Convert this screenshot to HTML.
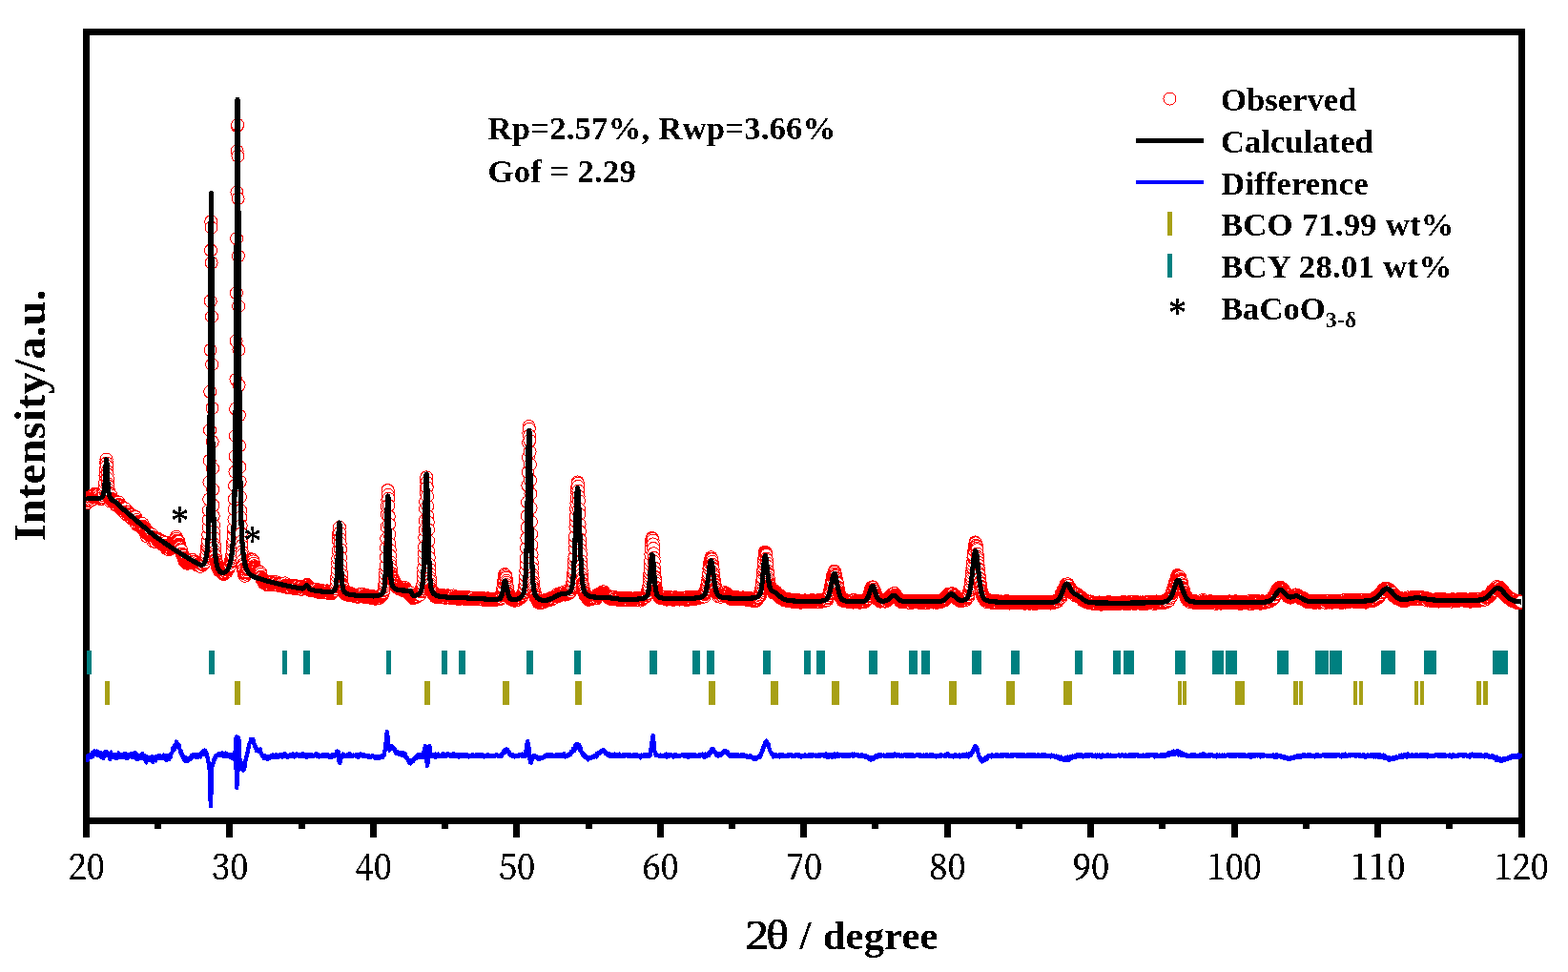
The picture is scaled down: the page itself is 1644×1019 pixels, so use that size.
<!DOCTYPE html>
<html lang="en">
<head>
<meta charset="utf-8">
<title>XRD Rietveld refinement</title>
<style>
html,body{margin:0;padding:0;background:#fff;}
body{width:1644px;height:1019px;overflow:hidden;}
svg{display:block;}
.b{font-family:"Liberation Serif","Noto Serif CJK SC",serif;font-weight:bold;fill:#000;}
.r{font-family:"Liberation Serif","Noto Serif CJK SC",serif;font-weight:normal;fill:#000;}
.tk{font-family:"Noto Serif CJK SC","Liberation Serif",serif;font-weight:normal;fill:#000;}
</style>
</head>
<body>
<svg width="1644" height="1019" viewBox="0 0 1644 1019">
<defs>
<filter id="bw" x="-5%" y="-5%" width="110%" height="110%" color-interpolation-filters="sRGB"><feComponentTransfer><feFuncA type="discrete" tableValues="0 1"/></feComponentTransfer></filter>
<clipPath id="pc"><rect x="90" y="33" width="1506" height="828"/></clipPath>
<marker id="oc" markerUnits="userSpaceOnUse" markerWidth="16" markerHeight="16" refX="8" refY="8" viewBox="0 0 16 16" overflow="visible"><circle cx="8" cy="8" r="6.5" fill="#fff" stroke="#ff0000" stroke-width="1" shape-rendering="crispEdges"/></marker>
</defs>
<rect width="1644" height="1019" fill="#fff"/>
<g shape-rendering="crispEdges" fill="#000">
<rect x="87" y="30" width="1512" height="7"/>
<rect x="87" y="857" width="1512" height="7"/>
<rect x="87" y="30" width="7" height="848"/>
<rect x="1592" y="30" width="7" height="848"/>
<rect x="162" y="857" width="7" height="12"/>
<rect x="237" y="857" width="7" height="21"/>
<rect x="313" y="857" width="7" height="12"/>
<rect x="388" y="857" width="7" height="21"/>
<rect x="463" y="857" width="7" height="12"/>
<rect x="538" y="857" width="7" height="21"/>
<rect x="614" y="857" width="7" height="12"/>
<rect x="689" y="857" width="7" height="21"/>
<rect x="764" y="857" width="7" height="12"/>
<rect x="839" y="857" width="7" height="21"/>
<rect x="914" y="857" width="7" height="12"/>
<rect x="990" y="857" width="7" height="21"/>
<rect x="1065" y="857" width="7" height="12"/>
<rect x="1140" y="857" width="7" height="21"/>
<rect x="1215" y="857" width="7" height="12"/>
<rect x="1291" y="857" width="7" height="21"/>
<rect x="1366" y="857" width="7" height="12"/>
<rect x="1441" y="857" width="7" height="21"/>
<rect x="1516" y="857" width="7" height="12"/>
</g>
<g clip-path="url(#pc)">
<path d="M90.5 525.8 90.8 525.4 91.0 526.0 91.3 527.2 91.5 526.7 91.8 527.1 92.0 525.5 92.3 522.7 92.5 524.7 92.8 525.5 93.0 523.6 93.3 522.9 93.5 523.0 93.8 524.5 94.0 523.3 94.3 521.3 94.5 523.9 94.8 523.2 95.0 524.8 95.3 524.3 95.5 524.5 95.8 522.0 96.0 522.6 96.3 520.5 96.5 519.6 96.8 520.0 97.0 523.7 97.3 521.7 97.5 519.7 97.8 519.1 98.0 521.5 98.3 520.7 98.5 520.8 98.8 520.8 99.0 517.8 99.3 519.8 99.6 519.6 99.8 517.8 100.1 519.7 100.3 519.9 100.6 519.4 100.8 519.5 101.1 521.7 101.3 520.4 101.6 517.9 101.8 521.9 102.1 519.8 102.3 519.9 102.6 521.6 102.8 518.0 103.1 518.7 103.3 522.6 103.6 521.7 103.8 520.4 104.1 521.4 104.3 520.5 104.6 521.2 104.8 520.5 105.1 518.9 105.3 521.8 105.6 521.5 105.8 522.1 106.1 521.4 106.3 523.1 106.6 522.6 106.8 521.5 107.1 519.4 107.3 518.1 107.6 521.6 107.8 521.6 108.1 518.5 108.3 521.3 108.6 519.5 108.9 517.1 109.1 513.4 109.4 511.9 109.6 511.7 109.9 509.6 110.1 506.0 110.4 498.6 110.6 496.0 110.9 491.5 111.1 485.1 111.4 481.9 111.6 481.5 111.9 485.5 112.1 488.6 112.4 494.2 112.6 497.1 112.9 501.8 113.1 507.2 113.4 509.7 113.6 513.5 113.9 513.8 114.1 516.4 114.4 517.2 114.6 520.9 114.9 520.2 115.1 523.2 115.4 525.4 115.6 523.3 115.9 523.8 116.1 522.8 116.4 519.3 116.6 523.3 116.9 524.9 117.1 523.7 117.4 523.1 117.7 524.2 117.9 524.8 118.2 523.6 118.4 523.5 118.7 526.2 118.9 525.7 119.2 525.2 119.4 527.0 119.7 525.6 119.9 526.8 120.2 524.7 120.4 525.1 120.7 525.8 120.9 527.1 121.2 526.8 121.4 529.6 121.7 529.4 121.9 526.8 122.2 530.0 122.4 526.9 122.7 529.6 122.9 527.4 123.2 528.8 123.4 527.4 123.7 527.8 123.9 531.0 124.2 527.9 124.4 526.5 124.7 529.0 124.9 530.3 125.2 530.6 125.4 532.0 125.7 529.5 125.9 531.2 126.2 531.5 126.5 532.6 126.7 533.0 127.0 534.1 127.2 530.8 127.5 531.9 127.7 531.2 128.0 532.3 128.2 534.0 128.5 534.0 128.7 534.4 129.0 533.9 129.2 534.4 129.5 534.7 129.7 536.5 130.0 536.4 130.2 532.6 130.5 535.1 130.7 537.1 131.0 535.4 131.2 533.3 131.5 537.2 131.7 537.0 132.0 537.3 132.2 539.3 132.5 536.4 132.7 536.5 133.0 537.0 133.2 538.4 133.5 537.2 133.7 538.3 134.0 538.4 134.2 539.8 134.5 540.7 134.7 537.2 135.0 538.9 135.3 538.8 135.5 539.1 135.8 540.1 136.0 540.6 136.3 539.2 136.5 540.2 136.8 540.7 137.0 540.6 137.3 539.0 137.5 539.4 137.8 540.3 138.0 542.1 138.3 543.9 138.5 541.2 138.8 540.2 139.0 542.1 139.3 541.8 139.5 541.4 139.8 541.4 140.0 541.5 140.3 543.6 140.5 541.7 140.8 544.9 141.0 543.4 141.3 543.2 141.5 543.0 141.8 541.6 142.0 542.0 142.3 546.1 142.5 548.4 142.8 545.3 143.0 546.9 143.3 546.6 143.5 545.1 143.8 548.5 144.0 550.5 144.3 547.6 144.6 547.0 144.8 547.8 145.1 547.8 145.3 549.1 145.6 550.7 145.8 549.3 146.1 550.1 146.3 551.6 146.6 549.2 146.8 549.2 147.1 549.1 147.3 551.1 147.6 551.5 147.8 552.1 148.1 552.3 148.3 551.0 148.6 552.2 148.8 551.3 149.1 551.1 149.3 549.0 149.6 553.2 149.8 551.9 150.1 552.5 150.3 553.1 150.6 555.4 150.8 555.0 151.1 553.1 151.3 554.0 151.6 554.5 151.8 555.2 152.1 553.7 152.3 554.9 152.6 558.7 152.8 558.0 153.1 559.3 153.4 561.9 153.6 559.1 153.9 555.7 154.1 556.9 154.4 559.4 154.6 559.9 154.9 557.3 155.1 558.0 155.4 558.9 155.6 559.4 155.9 559.6 156.1 558.8 156.4 559.1 156.6 559.9 156.9 562.0 157.1 560.8 157.4 561.9 157.6 560.4 157.9 563.0 158.1 562.8 158.4 562.3 158.6 564.2 158.9 561.0 159.1 560.3 159.4 563.1 159.6 562.6 159.9 562.7 160.1 567.0 160.4 564.8 160.6 564.1 160.9 564.3 161.1 565.9 161.4 565.5 161.6 565.2 161.9 563.5 162.2 564.2 162.4 565.2 162.7 563.5 162.9 565.6 163.2 566.4 163.4 568.3 163.7 564.7 163.9 564.1 164.2 564.6 164.4 565.0 164.7 566.0 164.9 566.2 165.2 566.8 165.4 567.0 165.7 566.8 165.9 564.9 166.2 565.6 166.4 566.9 166.7 567.9 166.9 568.3 167.2 565.6 167.4 566.1 167.7 567.2 167.9 568.1 168.2 569.3 168.4 568.4 168.7 566.9 168.9 568.3 169.2 568.7 169.4 568.8 169.7 568.5 169.9 570.7 170.2 569.9 170.4 570.3 170.7 568.5 170.9 570.1 171.2 569.3 171.5 567.8 171.7 569.9 172.0 571.3 172.2 570.7 172.5 570.9 172.7 572.5 173.0 571.4 173.2 569.1 173.5 571.6 173.7 572.7 174.0 574.0 174.2 572.9 174.5 574.6 174.7 575.3 175.0 572.5 175.2 574.4 175.5 573.0 175.7 571.8 176.0 573.3 176.2 573.6 176.5 571.9 176.7 573.9 177.0 575.3 177.2 576.4 177.5 574.9 177.7 572.5 178.0 572.4 178.2 574.8 178.5 575.2 178.7 574.5 179.0 573.2 179.2 573.2 179.5 572.5 179.7 571.9 180.0 572.2 180.3 571.7 180.5 570.9 180.8 570.7 181.0 569.7 181.3 567.4 181.5 567.9 181.8 568.6 182.0 570.4 182.3 568.2 182.5 569.7 182.8 569.6 183.0 566.4 183.3 565.4 183.5 566.1 183.8 568.1 184.0 566.9 184.3 566.6 184.5 565.1 184.8 562.7 185.0 564.5 185.3 566.6 185.5 567.7 185.8 566.8 186.0 566.8 186.3 568.3 186.5 567.7 186.8 569.2 187.0 567.6 187.3 567.4 187.5 568.0 187.8 570.5 188.0 570.6 188.3 571.8 188.5 573.1 188.8 573.9 189.1 575.8 189.3 577.1 189.6 575.4 189.8 576.5 190.1 577.2 190.3 576.9 190.6 580.5 190.8 581.3 191.1 580.6 191.3 580.7 191.6 582.2 191.8 581.6 192.1 582.7 192.3 585.2 192.6 586.0 192.8 584.5 193.1 584.8 193.3 588.1 193.6 585.8 193.8 585.8 194.1 585.7 194.3 587.7 194.6 588.5 194.8 589.7 195.1 586.1 195.3 587.9 195.6 587.1 195.8 589.1 196.1 589.1 196.3 590.8 196.6 590.1 196.8 588.1 197.1 590.0 197.3 588.2 197.6 588.1 197.8 589.9 198.1 589.7 198.4 589.4 198.6 588.8 198.9 589.1 199.1 589.5 199.4 589.0 199.6 589.6 199.9 590.1 200.1 588.8 200.4 587.3 200.6 589.6 200.9 588.8 201.1 589.0 201.4 589.6 201.6 587.8 201.9 588.6 202.1 587.0 202.4 588.8 202.6 588.5 202.9 588.8 203.1 589.7 203.4 588.6 203.6 589.0 203.9 588.5 204.1 589.1 204.4 590.5 204.6 590.0 204.9 589.6 205.1 588.7 205.4 590.5 205.6 590.3 205.9 591.9 206.1 590.1 206.4 591.3 206.6 592.7 206.9 591.3 207.2 589.5 207.4 592.0 207.7 592.5 207.9 592.1 208.2 592.5 208.4 591.1 208.7 591.9 208.9 592.3 209.2 591.0 209.4 592.0 209.7 591.3 209.9 592.4 210.2 593.1 210.4 593.9 210.7 590.2 210.9 591.2 211.2 591.3 211.4 591.2 211.7 591.0 211.9 590.9 212.2 588.8 212.4 591.0 212.7 592.3 212.9 591.7 213.2 591.5 213.4 589.1 213.7 588.0 213.9 589.4 214.2 590.1 214.4 588.7 214.7 585.9 214.9 589.2 215.2 586.4 215.4 586.2 215.7 583.6 216.0 584.1 216.2 582.8 216.5 582.4 216.7 580.7 217.0 575.8 217.2 573.1 217.5 572.0 217.7 569.6 218.0 567.0 218.2 560.5 218.5 553.0 218.7 544.9 219.0 534.9 219.2 523.5 219.5 505.5 219.7 482.8 220.0 451.1 220.2 410.8 220.5 367.0 220.7 315.6 221.0 262.4 221.2 232.3 221.5 238.6 221.7 275.5 222.0 332.0 222.2 382.1 222.5 427.8 222.7 463.2 223.0 491.1 223.2 513.2 223.5 529.7 223.7 541.0 224.0 550.8 224.2 557.6 224.5 563.9 224.8 570.8 225.0 573.7 225.3 578.3 225.5 580.9 225.8 582.7 226.0 586.6 226.3 586.7 226.5 587.3 226.8 589.0 227.0 590.6 227.3 591.6 227.5 593.1 227.8 593.4 228.0 594.1 228.3 594.2 228.5 595.8 228.8 595.3 229.0 595.4 229.3 596.1 229.5 596.8 229.8 596.3 230.0 598.4 230.3 597.4 230.5 597.1 230.8 597.4 231.0 597.5 231.3 598.7 231.5 598.8 231.8 598.0 232.0 598.0 232.3 598.5 232.5 600.3 232.8 599.0 233.0 597.9 233.3 597.9 233.5 598.8 233.8 600.8 234.1 599.1 234.3 599.3 234.6 602.0 234.8 600.0 235.1 600.9 235.3 601.2 235.6 600.5 235.8 598.4 236.1 599.3 236.3 599.2 236.6 597.4 236.8 597.0 237.1 598.5 237.3 599.0 237.6 599.8 237.8 599.4 238.1 597.8 238.3 597.2 238.6 597.2 238.8 596.0 239.1 597.1 239.3 596.5 239.6 595.0 239.8 594.4 240.1 593.4 240.3 593.2 240.6 593.5 240.8 592.3 241.1 592.6 241.3 592.8 241.6 589.7 241.8 588.4 242.1 587.0 242.3 587.6 242.6 585.3 242.9 583.3 243.1 581.7 243.4 581.2 243.6 577.0 243.9 571.8 244.1 568.6 244.4 566.3 244.6 561.5 244.9 555.1 245.1 553.6 245.4 544.5 245.6 533.8 245.9 523.2 246.1 509.3 246.4 494.8 246.6 478.5 246.9 456.9 247.1 428.7 247.4 397.9 247.6 357.5 247.9 307.2 248.1 250.1 248.4 201.5 248.6 158.3 248.9 132.2 249.1 130.8 249.4 163.7 249.6 208.1 249.9 268.4 250.1 321.0 250.4 366.9 250.6 403.9 250.9 435.4 251.1 467.4 251.4 489.6 251.7 504.9 251.9 520.9 252.2 535.4 252.4 542.5 252.7 551.2 252.9 559.4 253.2 567.7 253.4 572.1 253.7 578.4 253.9 581.9 254.2 587.9 254.4 592.1 254.7 593.8 254.9 597.0 255.2 597.9 255.4 599.5 255.7 602.3 255.9 602.5 256.2 603.2 256.4 602.4 256.7 603.6 256.9 603.8 257.2 601.7 257.4 599.6 257.7 599.0 257.9 600.4 258.2 600.1 258.4 598.0 258.7 598.4 258.9 599.0 259.2 597.4 259.4 595.9 259.7 596.2 259.9 596.5 260.2 595.8 260.4 592.9 260.7 592.7 261.0 591.8 261.2 590.5 261.5 589.3 261.7 589.4 262.0 588.3 262.2 588.7 262.5 588.2 262.7 588.2 263.0 586.1 263.2 586.3 263.5 587.3 263.7 587.2 264.0 587.1 264.2 586.5 264.5 588.7 264.7 589.4 265.0 589.3 265.2 587.1 265.5 588.4 265.7 590.7 266.0 591.2 266.2 590.6 266.5 593.2 266.7 594.8 267.0 594.3 267.2 595.3 267.5 596.1 267.7 597.7 268.0 596.5 268.2 596.5 268.5 598.0 268.7 598.5 269.0 601.1 269.2 599.7 269.5 599.8 269.8 599.5 270.0 599.2 270.3 600.0 270.5 601.5 270.8 600.1 271.0 600.5 271.3 600.5 271.5 600.8 271.8 600.8 272.0 602.7 272.3 600.5 272.5 600.6 272.8 600.6 273.0 600.0 273.3 602.0 273.5 604.7 273.8 605.0 274.0 605.6 274.3 605.7 274.5 605.5 274.8 607.7 275.0 606.8 275.3 608.3 275.5 607.7 275.8 608.0 276.0 608.7 276.3 609.0 276.5 609.7 276.8 610.2 277.0 611.5 277.3 610.7 277.5 608.9 277.8 608.5 278.0 609.3 278.3 610.2 278.6 611.8 278.8 610.6 279.1 611.4 279.3 612.0 279.6 612.3 279.8 612.1 280.1 612.6 280.3 612.5 280.6 613.3 280.8 613.0 281.1 610.5 281.3 611.7 281.6 612.5 281.8 611.9 282.1 611.5 282.3 612.9 282.6 612.6 282.8 611.3 283.1 611.4 283.3 611.7 283.6 610.4 283.8 611.8 284.1 611.7 284.3 612.0 284.6 610.4 284.8 612.7 285.1 612.5 285.3 612.0 285.6 610.9 285.8 610.6 286.1 609.9 286.3 612.2 286.6 611.1 286.8 611.3 287.1 611.9 287.3 611.0 287.6 611.9 287.9 613.3 288.1 612.3 288.4 612.8 288.6 612.4 288.9 611.4 289.1 611.2 289.4 610.2 289.6 611.4 289.9 613.0 290.1 612.8 290.4 612.8 290.6 613.1 290.9 611.9 291.1 612.4 291.4 613.8 291.6 612.0 291.9 612.0 292.1 611.9 292.4 612.0 292.6 611.7 292.9 612.1 293.1 611.4 293.4 611.8 293.6 612.1 293.9 612.1 294.1 613.7 294.4 613.2 294.6 613.0 294.9 612.7 295.1 613.9 295.4 611.9 295.6 612.4 295.9 614.0 296.1 614.8 296.4 613.8 296.7 613.3 296.9 613.8 297.2 613.4 297.4 613.8 297.7 613.1 297.9 613.9 298.2 613.7 298.4 612.8 298.7 611.3 298.9 613.8 299.2 614.4 299.4 614.6 299.7 613.4 299.9 614.6 300.2 614.6 300.4 614.1 300.7 614.8 300.9 615.1 301.2 614.8 301.4 616.0 301.7 616.0 301.9 615.0 302.2 614.4 302.4 614.5 302.7 615.9 302.9 615.4 303.2 614.1 303.4 614.0 303.7 614.6 303.9 615.5 304.2 614.5 304.4 615.1 304.7 616.0 304.9 615.9 305.2 614.1 305.5 614.5 305.7 614.1 306.0 615.2 306.2 614.6 306.5 615.5 306.7 615.6 307.0 613.5 307.2 614.2 307.5 615.7 307.7 615.7 308.0 615.3 308.2 614.6 308.5 615.7 308.7 617.2 309.0 616.4 309.2 615.9 309.5 615.8 309.7 614.9 310.0 615.4 310.2 615.3 310.5 616.7 310.7 615.7 311.0 614.3 311.2 615.1 311.5 615.9 311.7 616.1 312.0 614.9 312.2 616.6 312.5 616.7 312.7 616.1 313.0 615.8 313.2 616.7 313.5 616.5 313.7 616.8 314.0 616.7 314.3 616.8 314.5 617.7 314.8 617.1 315.0 616.2 315.3 617.4 315.5 617.3 315.8 616.5 316.0 617.6 316.3 617.1 316.5 617.8 316.8 616.4 317.0 615.0 317.3 614.9 317.5 616.7 317.8 616.5 318.0 616.7 318.3 616.8 318.5 615.6 318.8 617.2 319.0 615.9 319.3 615.9 319.5 614.8 319.8 615.1 320.0 615.7 320.3 614.8 320.5 613.8 320.8 613.9 321.0 613.5 321.3 613.9 321.5 615.4 321.8 613.4 322.0 612.9 322.3 613.6 322.5 614.2 322.8 613.8 323.0 615.2 323.3 616.2 323.6 616.3 323.8 615.5 324.1 617.5 324.3 616.5 324.6 617.5 324.8 618.6 325.1 617.2 325.3 617.8 325.6 619.1 325.8 618.8 326.1 617.8 326.3 617.3 326.6 618.5 326.8 618.4 327.1 618.0 327.3 619.0 327.6 618.6 327.8 618.7 328.1 619.2 328.3 619.3 328.6 619.0 328.8 618.9 329.1 619.4 329.3 619.5 329.6 618.4 329.8 618.7 330.1 618.4 330.3 618.1 330.6 618.5 330.8 617.5 331.1 619.3 331.3 618.9 331.6 619.4 331.8 618.1 332.1 617.7 332.4 620.5 332.6 620.7 332.9 619.3 333.1 618.8 333.4 618.9 333.6 619.5 333.9 619.3 334.1 619.1 334.4 619.6 334.6 619.0 334.9 621.2 335.1 619.9 335.4 620.4 335.6 619.4 335.9 619.8 336.1 620.6 336.4 619.9 336.6 620.6 336.9 620.9 337.1 621.4 337.4 620.5 337.6 619.8 337.9 619.3 338.1 620.0 338.4 619.5 338.6 620.0 338.9 620.3 339.1 619.9 339.4 619.4 339.6 620.3 339.9 620.6 340.1 620.6 340.4 620.4 340.6 621.1 340.9 620.0 341.2 620.6 341.4 620.3 341.7 621.0 341.9 620.5 342.2 620.2 342.4 620.8 342.7 619.3 342.9 619.9 343.2 619.3 343.4 619.6 343.7 620.9 343.9 621.1 344.2 620.5 344.4 620.6 344.7 620.7 344.9 620.9 345.2 622.1 345.4 621.3 345.7 622.4 345.9 621.0 346.2 621.1 346.4 621.4 346.7 621.0 346.9 620.5 347.2 621.6 347.4 622.2 347.7 621.7 347.9 622.2 348.2 621.6 348.4 619.5 348.7 620.7 348.9 620.0 349.2 620.9 349.4 620.1 349.7 620.0 349.9 619.8 350.2 619.0 350.5 617.8 350.7 618.4 351.0 618.4 351.2 618.8 351.5 617.4 351.7 616.9 352.0 615.4 352.2 614.5 352.5 611.7 352.7 612.2 353.0 609.1 353.2 604.2 353.5 600.8 353.7 596.8 354.0 590.7 354.2 585.4 354.5 577.2 354.7 566.6 355.0 560.6 355.2 558.6 355.5 555.6 355.7 553.6 356.0 552.9 356.2 558.6 356.5 564.9 356.7 569.6 357.0 576.1 357.2 584.5 357.5 592.2 357.7 598.6 358.0 602.7 358.2 608.0 358.5 609.2 358.7 612.2 359.0 613.8 359.3 614.1 359.5 615.6 359.8 618.5 360.0 618.3 360.3 618.3 360.5 620.1 360.8 621.1 361.0 620.9 361.3 622.0 361.5 620.5 361.8 622.7 362.0 622.9 362.3 622.2 362.5 622.1 362.8 622.0 363.0 622.0 363.3 622.4 363.5 621.7 363.8 623.7 364.0 623.1 364.3 623.2 364.5 622.9 364.8 622.7 365.0 623.5 365.3 623.7 365.5 622.7 365.8 622.8 366.0 623.6 366.3 622.1 366.5 621.4 366.8 623.9 367.0 623.6 367.3 621.8 367.5 622.5 367.8 623.3 368.1 623.7 368.3 624.1 368.6 623.9 368.8 624.1 369.1 623.4 369.3 623.9 369.6 624.2 369.8 624.7 370.1 624.2 370.3 624.5 370.6 624.2 370.8 623.3 371.1 623.5 371.3 623.6 371.6 623.7 371.8 623.9 372.1 624.1 372.3 624.3 372.6 623.7 372.8 624.7 373.1 623.5 373.3 623.9 373.6 624.7 373.8 624.7 374.1 624.8 374.3 624.3 374.6 624.7 374.8 623.7 375.1 624.5 375.3 625.9 375.6 625.3 375.8 625.8 376.1 624.8 376.3 623.7 376.6 623.7 376.9 625.1 377.1 625.2 377.4 623.4 377.6 623.8 377.9 624.4 378.1 623.8 378.4 622.6 378.6 623.1 378.9 624.1 379.1 624.2 379.4 624.0 379.6 624.8 379.9 625.4 380.1 624.7 380.4 625.2 380.6 624.8 380.9 624.5 381.1 623.1 381.4 624.7 381.6 624.9 381.9 624.8 382.1 624.4 382.4 623.9 382.6 624.8 382.9 625.4 383.1 626.0 383.4 625.7 383.6 624.6 383.9 624.7 384.1 625.5 384.4 625.3 384.6 625.0 384.9 624.6 385.1 625.2 385.4 625.3 385.6 626.2 385.9 626.2 386.2 624.3 386.4 626.2 386.7 625.9 386.9 625.2 387.2 625.5 387.4 625.9 387.7 625.6 387.9 625.5 388.2 625.6 388.4 626.8 388.7 626.1 388.9 626.3 389.2 626.3 389.4 625.8 389.7 625.4 389.9 625.2 390.2 626.1 390.4 625.6 390.7 625.2 390.9 625.2 391.2 625.1 391.4 626.1 391.7 626.5 391.9 625.9 392.2 627.1 392.4 626.7 392.7 626.8 392.9 626.9 393.2 627.8 393.4 627.6 393.7 626.9 393.9 626.1 394.2 625.9 394.4 626.5 394.7 626.8 395.0 627.2 395.2 626.6 395.5 626.7 395.7 626.2 396.0 625.3 396.2 626.1 396.5 627.4 396.7 627.2 397.0 627.4 397.2 627.2 397.5 625.5 397.7 625.5 398.0 626.7 398.2 625.6 398.5 624.5 398.7 625.3 399.0 625.7 399.2 625.3 399.5 624.6 399.7 624.0 400.0 623.3 400.2 622.9 400.5 622.6 400.7 622.1 401.0 622.1 401.2 623.4 401.5 622.4 401.7 621.2 402.0 620.9 402.2 619.3 402.5 618.8 402.7 618.3 403.0 615.0 403.2 612.8 403.5 610.6 403.8 606.6 404.0 601.7 404.3 596.7 404.5 593.1 404.8 584.3 405.0 574.2 405.3 564.6 405.5 552.4 405.8 539.3 406.0 530.9 406.3 524.1 406.5 513.8 406.8 514.2 407.0 518.9 407.3 522.7 407.5 530.0 407.8 541.2 408.0 549.6 408.3 560.3 408.5 570.2 408.8 576.8 409.0 582.4 409.3 589.1 409.5 592.9 409.8 596.4 410.0 596.6 410.3 600.9 410.5 601.6 410.8 603.4 411.0 604.8 411.3 605.0 411.5 605.3 411.8 605.6 412.0 606.9 412.3 608.4 412.5 609.2 412.8 608.9 413.1 609.1 413.3 609.0 413.6 610.1 413.8 610.4 414.1 610.4 414.3 611.8 414.6 613.9 414.8 614.5 415.1 615.1 415.3 613.3 415.6 614.7 415.8 614.1 416.1 614.4 416.3 614.0 416.6 614.5 416.8 615.7 417.1 616.2 417.3 616.2 417.6 616.2 417.8 616.8 418.1 616.7 418.3 615.5 418.6 617.5 418.8 617.0 419.1 617.4 419.3 616.9 419.6 616.2 419.8 616.7 420.1 616.3 420.3 617.8 420.6 616.5 420.8 617.1 421.1 616.6 421.3 616.7 421.6 618.8 421.9 618.2 422.1 617.1 422.4 616.0 422.6 616.7 422.9 617.1 423.1 618.4 423.4 616.8 423.6 616.0 423.9 617.3 424.1 618.0 424.4 619.2 424.6 617.9 424.9 616.1 425.1 617.3 425.4 617.5 425.6 618.1 425.9 619.6 426.1 618.4 426.4 619.9 426.6 620.0 426.9 619.6 427.1 619.2 427.4 619.6 427.6 619.9 427.9 620.9 428.1 621.7 428.4 621.0 428.6 621.4 428.9 622.2 429.1 622.5 429.4 622.1 429.6 623.1 429.9 623.2 430.1 623.5 430.4 622.6 430.7 622.3 430.9 621.4 431.2 623.9 431.4 624.6 431.7 623.8 431.9 624.6 432.2 625.3 432.4 624.3 432.7 625.5 432.9 626.7 433.2 627.1 433.4 626.1 433.7 625.7 433.9 626.8 434.2 626.8 434.4 625.7 434.7 625.2 434.9 625.8 435.2 625.2 435.4 624.8 435.7 626.2 435.9 625.6 436.2 624.6 436.4 625.0 436.7 626.1 436.9 625.1 437.2 623.8 437.4 622.9 437.7 625.1 437.9 622.6 438.2 623.8 438.4 623.1 438.7 622.2 438.9 622.1 439.2 622.5 439.4 623.4 439.7 622.2 440.0 622.5 440.2 623.7 440.5 620.1 440.7 620.0 441.0 619.3 441.2 620.5 441.5 618.9 441.7 617.6 442.0 616.8 442.2 617.0 442.5 617.2 442.7 615.3 443.0 614.9 443.2 612.8 443.5 608.4 443.7 605.4 444.0 600.8 444.2 595.3 444.5 587.0 444.7 579.8 445.0 573.5 445.2 563.4 445.5 555.7 445.7 545.7 446.0 533.2 446.2 525.9 446.5 516.6 446.7 510.9 447.0 504.7 447.2 500.3 447.5 505.9 447.7 511.0 448.0 520.2 448.2 530.6 448.5 541.0 448.8 547.5 449.0 555.3 449.3 567.1 449.5 578.0 449.8 584.5 450.0 591.8 450.3 596.7 450.5 601.6 450.8 605.7 451.0 608.7 451.3 612.1 451.5 614.4 451.8 617.0 452.0 617.6 452.3 619.1 452.5 619.2 452.8 620.2 453.0 620.2 453.3 620.3 453.5 621.9 453.8 622.3 454.0 622.6 454.3 621.8 454.5 621.0 454.8 621.7 455.0 622.9 455.3 622.2 455.5 623.9 455.8 622.8 456.0 623.7 456.3 625.7 456.5 622.8 456.8 622.4 457.0 624.5 457.3 624.4 457.6 624.5 457.8 624.5 458.1 625.5 458.3 625.4 458.6 624.6 458.8 624.6 459.1 624.1 459.3 624.6 459.6 623.5 459.8 625.0 460.1 625.1 460.3 626.3 460.6 626.4 460.8 624.7 461.1 625.6 461.3 625.2 461.6 625.3 461.8 626.1 462.1 625.9 462.3 625.9 462.6 626.0 462.8 625.2 463.1 625.1 463.3 625.9 463.6 626.4 463.8 625.7 464.1 625.8 464.3 625.2 464.6 623.9 464.8 624.7 465.1 625.7 465.3 626.0 465.6 626.5 465.8 626.7 466.1 626.7 466.4 626.4 466.6 626.3 466.9 625.6 467.1 626.1 467.4 626.2 467.6 626.8 467.9 625.3 468.1 625.4 468.4 624.9 468.6 625.2 468.9 625.0 469.1 626.0 469.4 625.8 469.6 624.3 469.9 626.4 470.1 625.7 470.4 624.9 470.6 625.6 470.9 625.7 471.1 625.3 471.4 626.4 471.6 626.1 471.9 626.7 472.1 626.9 472.4 626.8 472.6 626.5 472.9 626.3 473.1 626.0 473.4 627.1 473.6 625.4 473.9 625.2 474.1 625.7 474.4 626.5 474.6 626.5 474.9 626.1 475.1 626.0 475.4 627.4 475.7 626.3 475.9 624.4 476.2 627.0 476.4 626.2 476.7 626.0 476.9 626.5 477.2 625.6 477.4 626.9 477.7 626.6 477.9 625.5 478.2 626.3 478.4 626.8 478.7 626.5 478.9 626.8 479.2 625.7 479.4 626.8 479.7 626.2 479.9 627.2 480.2 626.4 480.4 626.5 480.7 628.2 480.9 627.1 481.2 627.3 481.4 627.1 481.7 625.8 481.9 627.0 482.2 627.5 482.4 626.0 482.7 626.3 482.9 625.7 483.2 626.2 483.4 627.2 483.7 626.9 483.9 626.0 484.2 625.9 484.5 626.5 484.7 626.7 485.0 626.8 485.2 627.2 485.5 625.7 485.7 626.4 486.0 627.5 486.2 627.3 486.5 626.5 486.7 626.3 487.0 626.8 487.2 627.3 487.5 627.0 487.7 627.9 488.0 628.0 488.2 626.7 488.5 627.0 488.7 626.8 489.0 626.1 489.2 626.3 489.5 626.8 489.7 625.6 490.0 626.1 490.2 627.1 490.5 626.6 490.7 626.6 491.0 627.5 491.2 627.2 491.5 627.1 491.7 628.3 492.0 627.6 492.2 627.3 492.5 627.4 492.7 628.2 493.0 627.7 493.3 627.2 493.5 627.1 493.8 627.8 494.0 627.0 494.3 627.8 494.5 627.6 494.8 626.5 495.0 627.4 495.3 627.7 495.5 626.7 495.8 627.3 496.0 627.5 496.3 627.2 496.5 626.6 496.8 628.5 497.0 628.3 497.3 628.1 497.5 628.2 497.8 628.1 498.0 628.1 498.3 627.4 498.5 627.9 498.8 627.5 499.0 627.2 499.3 627.8 499.5 627.5 499.8 626.5 500.0 627.0 500.3 627.8 500.5 627.7 500.8 628.1 501.0 627.6 501.3 627.0 501.5 627.9 501.8 627.9 502.0 627.0 502.3 627.7 502.6 627.6 502.8 628.2 503.1 628.4 503.3 628.2 503.6 626.5 503.8 627.5 504.1 628.1 504.3 628.2 504.6 628.0 504.8 627.4 505.1 627.5 505.3 626.5 505.6 627.3 505.8 626.9 506.1 627.4 506.3 627.4 506.6 628.6 506.8 628.2 507.1 628.0 507.3 628.1 507.6 629.2 507.8 627.8 508.1 628.0 508.3 628.3 508.6 628.2 508.8 628.2 509.1 627.8 509.3 628.7 509.6 628.8 509.8 628.1 510.1 627.9 510.3 628.3 510.6 628.5 510.8 628.7 511.1 628.3 511.4 627.4 511.6 628.5 511.9 627.5 512.1 627.4 512.4 628.3 512.6 627.8 512.9 628.9 513.1 629.5 513.4 629.3 513.6 628.7 513.9 628.5 514.1 628.6 514.4 628.3 514.6 629.5 514.9 628.4 515.1 629.0 515.4 628.9 515.6 628.6 515.9 629.0 516.1 629.3 516.4 629.1 516.6 628.5 516.9 627.9 517.1 627.8 517.4 628.8 517.6 628.9 517.9 629.0 518.1 628.2 518.4 629.4 518.6 627.9 518.9 628.3 519.1 628.8 519.4 628.2 519.6 627.6 519.9 627.8 520.2 627.5 520.4 627.9 520.7 627.4 520.9 627.2 521.2 627.9 521.4 627.3 521.7 627.7 521.9 627.9 522.2 628.5 522.4 628.2 522.7 627.4 522.9 628.3 523.2 627.5 523.4 627.2 523.7 627.1 523.9 628.4 524.2 627.4 524.4 626.2 524.7 626.6 524.9 625.9 525.2 626.7 525.4 624.7 525.7 624.1 525.9 622.6 526.2 623.0 526.4 620.7 526.7 619.4 526.9 617.4 527.2 616.8 527.4 615.3 527.7 611.3 527.9 611.1 528.2 610.0 528.4 608.0 528.7 606.9 528.9 604.0 529.2 602.0 529.5 603.3 529.7 604.8 530.0 603.0 530.2 603.0 530.5 604.4 530.7 605.7 531.0 608.9 531.2 610.7 531.5 613.3 531.7 615.4 532.0 615.3 532.2 617.6 532.5 617.5 532.7 619.8 533.0 622.0 533.2 622.3 533.5 622.4 533.7 623.8 534.0 625.9 534.2 625.8 534.5 625.4 534.7 626.7 535.0 627.6 535.2 626.8 535.5 627.2 535.7 628.3 536.0 628.3 536.2 628.5 536.5 628.0 536.7 628.0 537.0 627.5 537.2 627.6 537.5 629.0 537.7 628.4 538.0 627.7 538.3 627.9 538.5 627.7 538.8 628.5 539.0 629.1 539.3 628.0 539.5 628.8 539.8 629.8 540.0 628.2 540.3 628.6 540.5 628.7 540.8 629.2 541.0 629.3 541.3 629.2 541.5 628.7 541.8 628.0 542.0 629.4 542.3 628.1 542.5 628.6 542.8 628.8 543.0 627.7 543.3 627.7 543.5 628.6 543.8 626.8 544.0 627.6 544.3 627.4 544.5 627.1 544.8 626.2 545.0 627.0 545.3 626.3 545.5 626.9 545.8 625.9 546.0 626.5 546.3 626.4 546.5 624.6 546.8 624.9 547.1 625.0 547.3 623.4 547.6 623.7 547.8 624.5 548.1 623.3 548.3 623.7 548.6 622.0 548.8 620.7 549.1 621.1 549.3 620.6 549.6 618.9 549.8 617.4 550.1 616.5 550.3 613.4 550.6 612.4 550.8 608.4 551.1 603.7 551.3 598.4 551.6 591.4 551.8 585.1 552.1 574.5 552.3 564.1 552.6 553.0 552.8 540.9 553.1 526.6 553.3 508.9 553.6 495.0 553.8 479.5 554.1 464.2 554.3 453.8 554.6 447.1 554.8 449.7 555.1 456.7 555.3 461.7 555.6 473.7 555.9 486.9 556.1 503.6 556.4 517.7 556.6 532.6 556.9 546.9 557.1 559.9 557.4 571.3 557.6 581.3 557.9 589.6 558.1 595.7 558.4 602.6 558.6 605.6 558.9 610.3 559.1 613.0 559.4 615.9 559.6 618.3 559.9 618.3 560.1 620.8 560.4 623.1 560.6 623.9 560.9 624.3 561.1 623.3 561.4 624.8 561.6 625.4 561.9 627.0 562.1 627.1 562.4 627.1 562.6 626.8 562.9 628.5 563.1 628.6 563.4 628.9 563.6 630.1 563.9 630.0 564.1 630.3 564.4 631.8 564.6 630.7 564.9 630.4 565.2 631.1 565.4 632.0 565.7 630.7 565.9 631.0 566.2 630.9 566.4 630.6 566.7 631.7 566.9 631.3 567.2 631.7 567.4 631.8 567.7 631.8 567.9 631.7 568.2 631.0 568.4 631.3 568.7 631.6 568.9 631.6 569.2 631.2 569.4 631.7 569.7 631.6 569.9 631.2 570.2 631.3 570.4 631.0 570.7 631.1 570.9 629.6 571.2 629.4 571.4 629.9 571.7 630.2 571.9 628.9 572.2 629.5 572.4 629.9 572.7 629.7 572.9 629.5 573.2 628.8 573.4 629.3 573.7 628.3 574.0 629.5 574.2 629.0 574.5 629.6 574.7 628.2 575.0 628.8 575.2 629.0 575.5 628.2 575.7 627.8 576.0 629.0 576.2 628.9 576.5 629.2 576.7 628.4 577.0 628.2 577.2 628.2 577.5 628.4 577.7 628.2 578.0 628.2 578.2 627.4 578.5 626.4 578.7 628.2 579.0 627.6 579.2 627.3 579.5 626.7 579.7 627.3 580.0 626.9 580.2 627.2 580.5 626.2 580.7 626.0 581.0 626.2 581.2 625.8 581.5 625.9 581.7 626.7 582.0 625.5 582.2 625.1 582.5 625.3 582.8 624.5 583.0 624.0 583.3 625.3 583.5 625.4 583.8 623.7 584.0 623.2 584.3 624.5 584.5 625.1 584.8 624.7 585.0 624.4 585.3 625.0 585.5 624.0 585.8 624.4 586.0 624.6 586.3 623.1 586.5 623.6 586.8 623.4 587.0 622.7 587.3 622.4 587.5 623.0 587.8 622.9 588.0 623.4 588.3 621.8 588.5 621.9 588.8 623.3 589.0 622.8 589.3 622.1 589.5 622.0 589.8 621.1 590.0 621.1 590.3 622.5 590.5 622.6 590.8 623.2 591.0 622.4 591.3 622.1 591.5 620.4 591.8 621.6 592.1 623.6 592.3 623.2 592.6 622.3 592.8 623.0 593.1 623.0 593.3 622.6 593.6 622.0 593.8 622.1 594.1 622.7 594.3 621.7 594.6 622.1 594.8 622.3 595.1 622.9 595.3 622.6 595.6 621.4 595.8 622.5 596.1 621.8 596.3 620.8 596.6 621.2 596.8 620.9 597.1 621.5 597.3 619.8 597.6 619.1 597.8 619.5 598.1 620.7 598.3 620.2 598.6 618.0 598.8 616.3 599.1 616.4 599.3 615.1 599.6 615.2 599.8 614.1 600.1 612.3 600.3 610.0 600.6 609.4 600.9 605.3 601.1 601.3 601.4 600.1 601.6 597.3 601.9 591.3 602.1 586.9 602.4 583.9 602.6 575.1 602.9 568.2 603.1 562.5 603.4 552.3 603.6 546.4 603.9 541.3 604.1 533.3 604.4 527.8 604.6 521.9 604.9 514.7 605.1 511.7 605.4 509.7 605.6 505.4 605.9 506.7 606.1 509.9 606.4 514.6 606.6 520.3 606.9 525.1 607.1 533.9 607.4 539.2 607.6 549.7 607.9 557.3 608.1 565.5 608.4 571.4 608.6 576.3 608.9 580.8 609.1 588.2 609.4 593.1 609.7 597.6 609.9 601.9 610.2 605.8 610.4 607.8 610.7 611.5 610.9 612.7 611.2 614.2 611.4 616.4 611.7 618.3 611.9 619.8 612.2 618.6 612.4 621.1 612.7 620.6 612.9 621.3 613.2 622.8 613.4 624.2 613.7 623.4 613.9 622.9 614.2 624.9 614.4 625.5 614.7 624.8 614.9 625.3 615.2 624.7 615.4 626.3 615.7 626.4 615.9 627.5 616.2 625.9 616.4 627.2 616.7 628.9 616.9 628.0 617.2 627.7 617.4 626.5 617.7 627.6 617.9 627.9 618.2 627.5 618.5 626.7 618.7 627.6 619.0 627.2 619.2 627.3 619.5 627.9 619.7 627.8 620.0 627.7 620.2 628.2 620.5 627.0 620.7 628.1 621.0 627.0 621.2 626.5 621.5 627.1 621.7 627.7 622.0 627.4 622.2 626.7 622.5 626.3 622.7 626.5 623.0 626.1 623.2 626.8 623.5 626.5 623.7 627.4 624.0 626.2 624.2 626.1 624.5 626.4 624.7 625.5 625.0 625.3 625.2 627.5 625.5 626.3 625.7 626.6 626.0 625.2 626.2 623.6 626.5 625.0 626.7 625.1 627.0 625.0 627.2 624.5 627.5 624.0 627.8 623.4 628.0 624.4 628.3 623.1 628.5 623.9 628.8 623.4 629.0 622.4 629.3 622.2 629.5 623.1 629.8 623.1 630.0 622.7 630.3 622.2 630.5 621.2 630.8 622.3 631.0 621.6 631.3 621.0 631.5 621.0 631.8 621.0 632.0 620.3 632.3 620.8 632.5 620.8 632.8 621.0 633.0 620.4 633.3 622.5 633.5 621.5 633.8 622.0 634.0 622.5 634.3 623.1 634.5 624.1 634.8 623.6 635.0 623.7 635.3 623.3 635.5 624.5 635.8 623.4 636.0 623.7 636.3 624.5 636.6 625.1 636.8 625.5 637.1 625.9 637.3 625.8 637.6 625.6 637.8 625.7 638.1 626.7 638.3 626.4 638.6 626.7 638.8 626.3 639.1 625.1 639.3 625.6 639.6 626.6 639.8 627.6 640.1 627.8 640.3 628.0 640.6 626.7 640.8 627.2 641.1 627.0 641.3 627.3 641.6 627.1 641.8 626.2 642.1 627.2 642.3 627.5 642.6 627.7 642.8 626.8 643.1 627.7 643.3 628.2 643.6 628.4 643.8 628.5 644.1 627.4 644.3 625.8 644.6 627.6 644.8 627.1 645.1 627.2 645.4 628.2 645.6 628.0 645.9 627.8 646.1 628.1 646.4 626.7 646.6 628.5 646.9 627.9 647.1 627.6 647.4 628.1 647.6 627.9 647.9 627.4 648.1 627.7 648.4 627.7 648.6 627.5 648.9 629.1 649.1 627.6 649.4 626.5 649.6 627.1 649.9 627.4 650.1 628.8 650.4 628.5 650.6 628.7 650.9 628.7 651.1 627.8 651.4 628.6 651.6 628.5 651.9 629.5 652.1 628.8 652.4 628.3 652.6 628.8 652.9 628.9 653.1 627.4 653.4 628.7 653.6 629.3 653.9 629.1 654.1 627.9 654.4 627.0 654.7 627.8 654.9 628.8 655.2 628.8 655.4 627.9 655.7 628.7 655.9 627.8 656.2 627.3 656.4 628.1 656.7 628.0 656.9 627.9 657.2 627.4 657.4 628.7 657.7 627.9 657.9 628.4 658.2 628.9 658.4 628.5 658.7 628.5 658.9 629.0 659.2 629.5 659.4 629.2 659.7 627.7 659.9 626.9 660.2 627.6 660.4 627.5 660.7 628.4 660.9 628.5 661.2 628.2 661.4 628.9 661.7 629.1 661.9 628.4 662.2 628.5 662.4 629.0 662.7 628.2 662.9 628.3 663.2 627.7 663.5 628.0 663.7 628.4 664.0 628.2 664.2 628.3 664.5 628.6 664.7 628.5 665.0 627.8 665.2 627.6 665.5 627.2 665.7 628.8 666.0 628.7 666.2 628.4 666.5 628.0 666.7 628.3 667.0 628.4 667.2 627.6 667.5 627.7 667.7 628.6 668.0 627.4 668.2 627.1 668.5 628.0 668.7 627.5 669.0 628.1 669.2 627.3 669.5 627.7 669.7 628.3 670.0 628.1 670.2 628.2 670.5 627.7 670.7 627.5 671.0 627.5 671.2 627.8 671.5 629.7 671.7 628.1 672.0 628.5 672.3 627.5 672.5 626.5 672.8 626.8 673.0 627.3 673.3 627.3 673.5 627.1 673.8 627.3 674.0 627.3 674.3 627.4 674.5 626.1 674.8 626.3 675.0 625.9 675.3 626.3 675.5 626.2 675.8 626.1 676.0 625.7 676.3 625.1 676.5 625.2 676.8 625.7 677.0 625.7 677.3 624.0 677.5 624.3 677.8 624.4 678.0 622.9 678.3 622.2 678.5 622.0 678.8 622.0 679.0 619.5 679.3 619.1 679.5 618.1 679.8 616.9 680.0 616.1 680.3 614.1 680.5 610.2 680.8 606.7 681.0 603.8 681.3 600.9 681.6 597.3 681.8 591.9 682.1 587.9 682.3 581.1 682.6 575.2 682.8 568.7 683.1 566.1 683.3 565.2 683.6 564.0 683.8 566.2 684.1 564.5 684.3 564.9 684.6 566.5 684.8 570.4 685.1 575.0 685.3 580.2 685.6 584.8 685.8 588.7 686.1 595.4 686.3 599.8 686.6 604.3 686.8 605.5 687.1 608.1 687.3 611.3 687.6 615.2 687.8 616.6 688.1 618.2 688.3 619.5 688.6 620.7 688.8 621.2 689.1 622.4 689.3 622.4 689.6 623.1 689.8 624.0 690.1 624.3 690.4 624.8 690.6 624.3 690.9 625.0 691.1 625.1 691.4 625.6 691.6 626.5 691.9 625.4 692.1 626.3 692.4 625.7 692.6 625.6 692.9 627.1 693.1 627.1 693.4 626.8 693.6 627.0 693.9 627.4 694.1 626.3 694.4 626.6 694.6 626.5 694.9 626.9 695.1 626.7 695.4 627.2 695.6 627.0 695.9 626.6 696.1 626.8 696.4 627.2 696.6 627.8 696.9 627.2 697.1 626.8 697.4 627.2 697.6 627.6 697.9 627.0 698.1 625.6 698.4 626.9 698.6 627.1 698.9 626.9 699.2 628.7 699.4 627.7 699.7 627.7 699.9 626.6 700.2 627.2 700.4 627.8 700.7 627.6 700.9 627.3 701.2 627.7 701.4 627.5 701.7 628.2 701.9 627.8 702.2 627.0 702.4 626.1 702.7 626.6 702.9 627.1 703.2 626.7 703.4 626.6 703.7 626.3 703.9 626.5 704.2 627.3 704.4 627.3 704.7 627.3 704.9 627.3 705.2 627.3 705.4 627.9 705.7 628.9 705.9 628.3 706.2 628.8 706.4 627.9 706.7 627.5 706.9 628.5 707.2 627.4 707.4 626.8 707.7 627.3 708.0 626.5 708.2 626.1 708.5 627.9 708.7 627.1 709.0 627.0 709.2 627.2 709.5 626.9 709.7 627.8 710.0 628.0 710.2 628.1 710.5 628.1 710.7 627.7 711.0 628.4 711.2 628.4 711.5 627.4 711.7 627.4 712.0 627.3 712.2 628.6 712.5 628.4 712.7 628.0 713.0 627.6 713.2 627.8 713.5 627.1 713.7 627.4 714.0 627.5 714.2 627.5 714.5 627.1 714.7 627.6 715.0 626.9 715.2 627.0 715.5 627.3 715.7 627.4 716.0 627.2 716.2 626.8 716.5 626.7 716.7 627.1 717.0 626.9 717.3 627.2 717.5 626.7 717.8 627.2 718.0 628.7 718.3 627.1 718.5 627.1 718.8 628.1 719.0 627.8 719.3 628.0 719.5 626.3 719.8 626.7 720.0 628.2 720.3 627.4 720.5 627.5 720.8 626.3 721.0 627.6 721.3 628.9 721.5 627.8 721.8 627.5 722.0 627.7 722.3 628.7 722.5 627.5 722.8 626.2 723.0 628.1 723.3 627.0 723.5 627.4 723.8 626.0 724.0 626.5 724.3 627.3 724.5 626.6 724.8 626.7 725.0 627.5 725.3 626.9 725.5 627.4 725.8 628.4 726.1 626.3 726.3 627.0 726.6 627.6 726.8 627.0 727.1 628.0 727.3 628.2 727.6 627.6 727.8 627.5 728.1 627.1 728.3 626.3 728.6 627.1 728.8 626.8 729.1 626.5 729.3 627.5 729.6 627.0 729.8 627.4 730.1 626.4 730.3 626.3 730.6 626.7 730.8 627.6 731.1 626.9 731.3 627.1 731.6 626.4 731.8 626.5 732.1 627.1 732.3 626.1 732.6 625.9 732.8 626.7 733.1 625.8 733.3 626.3 733.6 626.5 733.8 626.2 734.1 626.6 734.3 626.5 734.6 626.2 734.9 625.0 735.1 624.6 735.4 625.6 735.6 624.7 735.9 625.3 736.1 625.2 736.4 624.7 736.6 624.8 736.9 623.5 737.1 624.2 737.4 625.4 737.6 623.9 737.9 624.2 738.1 624.2 738.4 625.6 738.6 623.2 738.9 622.0 739.1 621.5 739.4 620.8 739.6 619.6 739.9 619.9 740.1 618.7 740.4 618.7 740.6 617.8 740.9 615.4 741.1 614.2 741.4 614.2 741.6 611.7 741.9 610.0 742.1 608.8 742.4 605.9 742.6 604.2 742.9 603.4 743.1 601.2 743.4 596.0 743.6 596.1 743.9 593.3 744.2 590.3 744.4 588.3 744.7 588.7 744.9 587.2 745.2 585.5 745.4 584.2 745.7 585.6 745.9 587.1 746.2 585.9 746.4 586.3 746.7 588.7 746.9 591.8 747.2 593.1 747.4 595.2 747.7 596.9 747.9 600.8 748.2 602.4 748.4 604.4 748.7 607.4 748.9 608.5 749.2 610.1 749.4 612.2 749.7 613.3 749.9 615.9 750.2 616.6 750.4 617.1 750.7 618.2 750.9 618.6 751.2 620.9 751.4 622.3 751.7 621.8 751.9 621.9 752.2 621.2 752.4 622.3 752.7 623.9 753.0 623.5 753.2 624.4 753.5 625.4 753.7 623.1 754.0 623.8 754.2 624.1 754.5 624.2 754.7 623.5 755.0 624.2 755.2 624.0 755.5 625.1 755.7 625.8 756.0 624.0 756.2 623.3 756.5 623.7 756.7 624.0 757.0 623.9 757.2 624.3 757.5 622.9 757.7 622.8 758.0 622.9 758.2 622.8 758.5 622.3 758.7 622.3 759.0 622.2 759.2 623.2 759.5 622.5 759.7 621.1 760.0 622.5 760.2 622.8 760.5 622.2 760.7 622.1 761.0 622.4 761.2 624.0 761.5 623.4 761.8 624.2 762.0 624.6 762.3 624.0 762.5 624.5 762.8 624.2 763.0 622.8 763.3 624.0 763.5 624.8 763.8 626.0 764.0 626.3 764.3 626.7 764.5 626.7 764.8 627.0 765.0 627.0 765.3 626.8 765.5 627.3 765.8 627.8 766.0 627.9 766.3 626.8 766.5 626.8 766.8 626.3 767.0 626.1 767.3 627.0 767.5 626.7 767.8 627.8 768.0 626.0 768.3 625.9 768.5 627.0 768.8 627.8 769.0 627.1 769.3 628.1 769.5 627.9 769.8 626.8 770.0 626.9 770.3 627.4 770.5 626.6 770.8 627.6 771.1 627.2 771.3 627.4 771.6 627.7 771.8 627.0 772.1 627.6 772.3 626.2 772.6 627.1 772.8 626.1 773.1 627.4 773.3 627.0 773.6 627.8 773.8 628.2 774.1 627.3 774.3 626.7 774.6 627.8 774.8 626.7 775.1 627.4 775.3 627.2 775.6 626.9 775.8 626.7 776.1 628.1 776.3 626.5 776.6 626.5 776.8 627.3 777.1 627.9 777.3 628.4 777.6 628.3 777.8 627.1 778.1 627.3 778.3 627.9 778.6 627.7 778.8 626.3 779.1 627.1 779.3 627.6 779.6 626.5 779.9 626.6 780.1 627.1 780.4 627.6 780.6 628.3 780.9 628.2 781.1 627.8 781.4 627.5 781.6 627.1 781.9 626.9 782.1 627.1 782.4 627.1 782.6 627.9 782.9 628.9 783.1 628.2 783.4 628.1 783.6 628.1 783.9 627.8 784.1 628.4 784.4 628.6 784.6 628.0 784.9 627.7 785.1 628.2 785.4 627.8 785.6 628.0 785.9 628.7 786.1 628.4 786.4 627.1 786.6 628.4 786.9 627.9 787.1 627.5 787.4 627.5 787.6 629.0 787.9 627.8 788.1 628.5 788.4 629.2 788.7 629.4 788.9 628.9 789.2 629.2 789.4 629.5 789.7 628.7 789.9 629.7 790.2 630.3 790.4 629.3 790.7 629.0 790.9 628.8 791.2 630.0 791.4 629.1 791.7 629.0 791.9 628.2 792.2 629.7 792.4 629.3 792.7 629.2 792.9 630.0 793.2 629.6 793.4 628.1 793.7 628.5 793.9 628.7 794.2 627.6 794.4 626.9 794.7 626.6 794.9 627.4 795.2 626.9 795.4 625.7 795.7 626.1 795.9 626.0 796.2 624.5 796.4 623.0 796.7 623.9 796.9 624.7 797.2 623.3 797.5 621.7 797.7 619.8 798.0 617.6 798.2 616.4 798.5 615.3 798.7 612.8 799.0 611.3 799.2 608.5 799.5 606.1 799.7 600.6 800.0 598.3 800.2 597.4 800.5 595.0 800.7 591.4 801.0 589.4 801.2 586.1 801.5 583.2 801.7 579.4 802.0 578.6 802.2 578.6 802.5 579.1 802.7 579.6 803.0 579.5 803.2 580.9 803.5 581.7 803.7 585.6 804.0 587.2 804.2 590.3 804.5 593.6 804.7 598.4 805.0 601.0 805.2 601.4 805.5 602.6 805.7 605.6 806.0 607.5 806.2 610.0 806.5 611.8 806.8 613.4 807.0 613.3 807.3 614.4 807.5 615.8 807.8 616.8 808.0 616.7 808.3 617.2 808.5 618.5 808.8 617.2 809.0 618.0 809.3 618.7 809.5 617.9 809.8 618.1 810.0 619.2 810.3 619.1 810.5 620.3 810.8 620.5 811.0 621.7 811.3 619.7 811.5 621.2 811.8 620.3 812.0 620.9 812.3 621.5 812.5 621.2 812.8 620.8 813.0 620.7 813.3 620.0 813.5 620.9 813.8 621.0 814.0 622.1 814.3 621.8 814.5 622.1 814.8 622.8 815.0 622.9 815.3 623.1 815.6 623.1 815.8 623.1 816.1 623.9 816.3 624.5 816.6 623.8 816.8 625.3 817.1 625.4 817.3 624.0 817.6 626.4 817.8 626.3 818.1 625.2 818.3 626.6 818.6 624.6 818.8 627.2 819.1 625.9 819.3 625.2 819.6 625.8 819.8 626.8 820.1 626.9 820.3 627.7 820.6 627.1 820.8 628.0 821.1 628.0 821.3 627.3 821.6 628.4 821.8 628.5 822.1 628.2 822.3 629.1 822.6 628.0 822.8 628.1 823.1 629.4 823.3 629.0 823.6 629.2 823.8 629.4 824.1 629.0 824.4 629.4 824.6 628.7 824.9 629.4 825.1 628.8 825.4 629.1 825.6 628.9 825.9 629.5 826.1 629.8 826.4 630.2 826.6 629.4 826.9 628.9 827.1 628.2 827.4 628.5 827.6 629.3 827.9 629.7 828.1 629.5 828.4 629.7 828.6 628.9 828.9 629.0 829.1 630.1 829.4 630.4 829.6 629.2 829.9 629.4 830.1 629.9 830.4 629.3 830.6 629.9 830.9 630.2 831.1 630.2 831.4 631.1 831.6 629.9 831.9 630.5 832.1 630.5 832.4 630.5 832.6 629.8 832.9 629.9 833.1 630.0 833.4 631.0 833.7 630.4 833.9 630.9 834.2 630.2 834.4 629.8 834.7 630.0 834.9 629.0 835.2 629.5 835.4 629.7 835.7 629.9 835.9 630.2 836.2 629.7 836.4 629.4 836.7 630.7 836.9 629.8 837.2 629.7 837.4 629.6 837.7 629.8 837.9 630.8 838.2 631.1 838.4 629.4 838.7 629.7 838.9 631.0 839.2 630.3 839.4 630.4 839.7 631.3 839.9 631.8 840.2 631.5 840.4 630.4 840.7 630.2 840.9 630.4 841.2 630.2 841.4 629.9 841.7 631.3 841.9 630.8 842.2 630.8 842.5 631.1 842.7 630.8 843.0 630.5 843.2 630.5 843.5 631.2 843.7 630.8 844.0 629.3 844.2 630.5 844.5 631.4 844.7 630.5 845.0 630.0 845.2 630.0 845.5 630.9 845.7 630.0 846.0 630.6 846.2 631.1 846.5 630.9 846.7 630.5 847.0 630.0 847.2 629.9 847.5 630.3 847.7 629.9 848.0 630.2 848.2 629.9 848.5 631.0 848.7 631.5 849.0 630.3 849.2 631.0 849.5 630.8 849.7 630.5 850.0 630.7 850.2 630.7 850.5 629.7 850.7 631.5 851.0 630.4 851.3 629.0 851.5 630.0 851.8 630.4 852.0 630.0 852.3 629.3 852.5 630.7 852.8 630.6 853.0 630.5 853.3 630.1 853.5 630.2 853.8 630.0 854.0 630.5 854.3 630.4 854.5 630.7 854.8 630.9 855.0 630.6 855.3 630.5 855.5 631.0 855.8 629.7 856.0 630.1 856.3 631.1 856.5 630.0 856.8 630.5 857.0 630.2 857.3 630.2 857.5 630.2 857.8 630.1 858.0 630.6 858.3 630.3 858.5 629.1 858.8 631.1 859.0 630.6 859.3 630.0 859.5 630.7 859.8 631.1 860.1 629.2 860.3 629.9 860.6 629.0 860.8 629.4 861.1 629.9 861.3 629.8 861.6 629.6 861.8 629.2 862.1 629.5 862.3 629.8 862.6 629.7 862.8 629.1 863.1 629.1 863.3 630.1 863.6 630.2 863.8 629.6 864.1 629.8 864.3 629.8 864.6 630.0 864.8 629.6 865.1 629.0 865.3 628.4 865.6 628.7 865.8 627.6 866.1 628.2 866.3 626.6 866.6 627.0 866.8 627.4 867.1 627.8 867.3 629.0 867.6 627.5 867.8 626.4 868.1 624.7 868.3 625.9 868.6 623.9 868.8 623.9 869.1 623.0 869.4 624.1 869.6 622.2 869.9 621.0 870.1 619.3 870.4 618.4 870.6 618.3 870.9 615.9 871.1 614.2 871.4 613.1 871.6 611.4 871.9 609.8 872.1 609.3 872.4 609.4 872.6 608.5 872.9 604.9 873.1 603.4 873.4 603.0 873.6 602.8 873.9 601.7 874.1 600.9 874.4 600.8 874.6 601.1 874.9 598.5 875.1 599.7 875.4 601.5 875.6 603.1 875.9 603.6 876.1 603.1 876.4 603.7 876.6 605.8 876.9 607.1 877.1 608.7 877.4 610.8 877.6 610.5 877.9 611.9 878.2 611.9 878.4 615.2 878.7 616.8 878.9 617.1 879.2 618.9 879.4 621.0 879.7 622.0 879.9 622.1 880.2 622.6 880.4 623.6 880.7 623.7 880.9 624.2 881.2 625.2 881.4 626.1 881.7 626.8 881.9 626.8 882.2 626.8 882.4 627.6 882.7 627.9 882.9 628.5 883.2 629.5 883.4 629.7 883.7 628.8 883.9 628.8 884.2 628.3 884.4 629.1 884.7 629.1 884.9 628.8 885.2 629.0 885.4 630.0 885.7 630.1 885.9 629.9 886.2 630.5 886.4 630.0 886.7 629.5 887.0 630.2 887.2 629.2 887.5 630.1 887.7 630.5 888.0 630.5 888.2 630.8 888.5 630.3 888.7 630.3 889.0 629.5 889.2 629.8 889.5 630.1 889.7 630.5 890.0 631.3 890.2 630.9 890.5 631.1 890.7 630.2 891.0 630.5 891.2 629.7 891.5 629.9 891.7 630.1 892.0 630.4 892.2 630.5 892.5 630.3 892.7 630.1 893.0 630.9 893.2 630.6 893.5 629.2 893.7 630.3 894.0 630.9 894.2 631.2 894.5 631.7 894.7 630.4 895.0 630.5 895.2 630.6 895.5 629.7 895.7 629.1 896.0 630.8 896.3 630.4 896.5 630.3 896.8 630.5 897.0 630.5 897.3 630.7 897.5 630.0 897.8 630.2 898.0 630.5 898.3 630.1 898.5 630.1 898.8 630.4 899.0 630.5 899.3 629.8 899.5 630.2 899.8 630.7 900.0 631.3 900.3 631.1 900.5 631.4 900.8 630.9 901.0 630.6 901.3 631.8 901.5 631.1 901.8 630.4 902.0 630.5 902.3 631.2 902.5 630.2 902.8 630.8 903.0 631.4 903.3 631.4 903.5 630.8 903.8 630.1 904.0 629.8 904.3 630.2 904.5 631.1 904.8 631.0 905.1 631.0 905.3 630.7 905.6 631.3 905.8 630.6 906.1 629.9 906.3 630.1 906.6 629.8 906.8 630.4 907.1 630.8 907.3 630.4 907.6 629.1 907.8 628.6 908.1 629.3 908.3 628.4 908.6 628.7 908.8 627.7 909.1 627.6 909.3 628.0 909.6 627.0 909.8 627.3 910.1 627.3 910.3 627.1 910.6 625.6 910.8 624.8 911.1 624.3 911.3 623.9 911.6 622.0 911.8 622.1 912.1 622.1 912.3 620.0 912.6 618.7 912.8 618.7 913.1 619.9 913.3 618.9 913.6 617.2 913.9 616.8 914.1 615.4 914.4 617.0 914.6 616.0 914.9 616.5 915.1 615.4 915.4 616.2 915.6 616.1 915.9 617.6 916.1 619.1 916.4 619.7 916.6 619.8 916.9 620.7 917.1 619.9 917.4 620.0 917.6 621.5 917.9 623.3 918.1 623.7 918.4 624.5 918.6 623.8 918.9 624.7 919.1 625.4 919.4 626.5 919.6 628.1 919.9 628.1 920.1 628.4 920.4 628.0 920.6 628.2 920.9 629.0 921.1 629.2 921.4 628.2 921.6 629.5 921.9 630.1 922.1 629.8 922.4 630.1 922.6 630.1 922.9 629.6 923.2 628.9 923.4 630.7 923.7 630.4 923.9 630.1 924.2 630.2 924.4 630.3 924.7 630.4 924.9 629.7 925.2 630.3 925.4 630.4 925.7 630.2 925.9 630.2 926.2 630.3 926.4 629.7 926.7 630.0 926.9 630.0 927.2 630.1 927.4 630.6 927.7 630.7 927.9 630.7 928.2 630.0 928.4 630.2 928.7 630.5 928.9 629.7 929.2 629.2 929.4 630.3 929.7 628.7 929.9 628.8 930.2 629.0 930.4 628.2 930.7 628.4 930.9 628.8 931.2 627.1 931.4 628.2 931.7 628.1 932.0 627.1 932.2 627.8 932.5 627.3 932.7 626.6 933.0 625.0 933.2 626.3 933.5 626.1 933.7 625.3 934.0 625.2 934.2 625.8 934.5 624.8 934.7 624.4 935.0 624.0 935.2 623.3 935.5 623.0 935.7 623.3 936.0 623.3 936.2 624.2 936.5 623.8 936.7 623.3 937.0 623.6 937.2 623.5 937.5 624.0 937.7 622.8 938.0 622.0 938.2 623.7 938.5 623.9 938.7 624.4 939.0 623.8 939.2 624.3 939.5 624.9 939.7 625.5 940.0 625.6 940.2 626.5 940.5 626.0 940.8 626.8 941.0 626.6 941.3 626.8 941.5 626.6 941.8 627.4 942.0 627.2 942.3 628.4 942.5 628.1 942.8 628.5 943.0 628.6 943.3 628.8 943.5 628.5 943.8 630.2 944.0 629.6 944.3 630.3 944.5 629.2 944.8 630.6 945.0 630.8 945.3 631.1 945.5 629.4 945.8 630.5 946.0 630.4 946.3 630.5 946.5 631.4 946.8 630.9 947.0 630.1 947.3 630.4 947.5 630.0 947.8 630.5 948.0 630.6 948.3 630.8 948.5 630.5 948.8 629.5 949.0 630.1 949.3 630.5 949.6 630.9 949.8 631.2 950.1 630.0 950.3 631.0 950.6 631.4 950.8 630.9 951.1 630.9 951.3 629.7 951.6 631.6 951.8 630.9 952.1 630.3 952.3 631.2 952.6 631.3 952.8 630.6 953.1 629.8 953.3 630.9 953.6 631.8 953.8 630.5 954.1 629.8 954.3 630.7 954.6 632.0 954.8 630.4 955.1 630.6 955.3 630.2 955.6 630.6 955.8 631.0 956.1 631.1 956.3 630.1 956.6 629.7 956.8 631.7 957.1 631.7 957.3 630.0 957.6 630.6 957.8 631.6 958.1 631.0 958.3 630.8 958.6 630.8 958.9 631.0 959.1 631.0 959.4 631.1 959.6 630.7 959.9 631.2 960.1 631.1 960.4 630.9 960.6 630.1 960.9 630.3 961.1 630.8 961.4 630.5 961.6 630.5 961.9 630.1 962.1 630.3 962.4 629.7 962.6 629.7 962.9 630.6 963.1 631.0 963.4 630.4 963.6 630.3 963.9 630.7 964.1 631.6 964.4 632.0 964.6 630.9 964.9 630.3 965.1 630.2 965.4 631.3 965.6 630.4 965.9 630.9 966.1 630.7 966.4 630.5 966.6 631.1 966.9 631.2 967.1 632.0 967.4 631.6 967.7 631.9 967.9 630.9 968.2 630.7 968.4 630.3 968.7 630.4 968.9 631.0 969.2 630.7 969.4 630.9 969.7 630.5 969.9 630.5 970.2 631.2 970.4 630.9 970.7 630.7 970.9 630.9 971.2 630.3 971.4 629.7 971.7 630.6 971.9 631.0 972.2 632.0 972.4 631.2 972.7 631.0 972.9 632.0 973.2 631.0 973.4 630.4 973.7 631.0 973.9 631.1 974.2 631.3 974.4 630.5 974.7 631.4 974.9 631.2 975.2 629.7 975.4 630.3 975.7 630.5 975.9 630.7 976.2 631.4 976.5 630.9 976.7 630.5 977.0 631.2 977.2 630.7 977.5 630.0 977.7 629.9 978.0 631.4 978.2 631.5 978.5 631.7 978.7 630.4 979.0 630.2 979.2 630.2 979.5 631.0 979.7 631.4 980.0 630.8 980.2 630.6 980.5 631.1 980.7 630.7 981.0 630.3 981.2 630.4 981.5 631.1 981.7 631.9 982.0 631.1 982.2 630.5 982.5 630.7 982.7 630.8 983.0 631.0 983.2 630.3 983.5 630.4 983.7 630.5 984.0 631.0 984.2 631.0 984.5 630.5 984.7 630.9 985.0 631.3 985.2 630.8 985.5 629.8 985.8 630.0 986.0 629.4 986.3 630.0 986.5 630.4 986.8 631.0 987.0 630.6 987.3 629.3 987.5 629.5 987.8 629.4 988.0 629.2 988.3 629.6 988.5 629.7 988.8 629.4 989.0 628.9 989.3 628.8 989.5 628.7 989.8 628.7 990.0 629.1 990.3 628.8 990.5 628.9 990.8 627.7 991.0 629.0 991.3 628.2 991.5 626.1 991.8 626.9 992.0 627.7 992.3 626.9 992.5 625.6 992.8 625.9 993.0 625.4 993.3 625.3 993.5 625.4 993.8 623.0 994.0 623.9 994.3 624.6 994.6 624.4 994.8 623.5 995.1 623.1 995.3 622.6 995.6 622.7 995.8 623.6 996.1 622.5 996.3 622.5 996.6 622.5 996.8 623.2 997.1 622.8 997.3 622.7 997.6 622.2 997.8 623.1 998.1 622.4 998.3 622.2 998.6 623.1 998.8 623.2 999.1 623.5 999.3 622.6 999.6 624.7 999.8 624.2 1000.1 624.9 1000.3 624.6 1000.6 623.8 1000.8 624.8 1001.1 624.9 1001.3 625.6 1001.6 624.4 1001.8 624.7 1002.1 625.1 1002.3 626.8 1002.6 627.4 1002.8 626.3 1003.1 626.9 1003.4 627.4 1003.6 627.3 1003.9 628.3 1004.1 627.6 1004.4 627.8 1004.6 627.9 1004.9 628.6 1005.1 628.2 1005.4 628.8 1005.6 628.2 1005.9 627.9 1006.1 628.1 1006.4 628.4 1006.6 628.5 1006.9 630.4 1007.1 629.1 1007.4 629.1 1007.6 629.1 1007.9 629.3 1008.1 630.0 1008.4 629.7 1008.6 628.9 1008.9 628.2 1009.1 629.2 1009.4 629.7 1009.6 628.4 1009.9 629.2 1010.1 627.9 1010.4 628.5 1010.6 629.3 1010.9 628.3 1011.1 627.5 1011.4 629.1 1011.6 627.8 1011.9 628.2 1012.1 627.4 1012.4 628.0 1012.7 628.9 1012.9 627.7 1013.2 626.9 1013.4 625.8 1013.7 625.5 1013.9 625.9 1014.2 626.3 1014.4 626.2 1014.7 625.7 1014.9 625.5 1015.2 624.6 1015.4 625.3 1015.7 623.2 1015.9 621.9 1016.2 619.2 1016.4 618.7 1016.7 618.8 1016.9 617.0 1017.2 616.6 1017.4 614.9 1017.7 614.0 1017.9 609.9 1018.2 607.6 1018.4 607.1 1018.7 604.4 1018.9 600.7 1019.2 598.3 1019.4 595.9 1019.7 594.5 1019.9 592.0 1020.2 588.5 1020.4 584.7 1020.7 583.6 1020.9 582.1 1021.2 577.3 1021.5 576.7 1021.7 573.3 1022.0 572.0 1022.2 570.4 1022.5 568.4 1022.7 568.9 1023.0 569.3 1023.2 571.8 1023.5 573.2 1023.7 572.9 1024.0 573.1 1024.2 574.9 1024.5 576.3 1024.7 580.6 1025.0 584.0 1025.2 585.9 1025.5 589.3 1025.7 592.5 1026.0 596.2 1026.2 597.2 1026.5 601.0 1026.7 602.7 1027.0 606.3 1027.2 607.0 1027.5 610.1 1027.7 611.2 1028.0 614.4 1028.2 615.9 1028.5 615.9 1028.7 618.4 1029.0 619.6 1029.2 620.9 1029.5 623.3 1029.7 622.9 1030.0 623.1 1030.3 624.8 1030.5 624.7 1030.8 625.8 1031.0 626.7 1031.3 626.6 1031.5 627.2 1031.8 625.9 1032.0 627.9 1032.3 627.6 1032.5 627.3 1032.8 629.2 1033.0 629.8 1033.3 628.6 1033.5 628.9 1033.8 628.7 1034.0 628.3 1034.3 629.1 1034.5 629.9 1034.8 631.0 1035.0 629.8 1035.3 630.0 1035.5 629.6 1035.8 629.5 1036.0 630.5 1036.3 629.1 1036.5 628.9 1036.8 629.3 1037.0 630.5 1037.3 630.5 1037.5 630.5 1037.8 630.5 1038.0 630.9 1038.3 630.2 1038.5 630.1 1038.8 630.1 1039.1 630.6 1039.3 629.8 1039.6 630.1 1039.8 631.9 1040.1 631.3 1040.3 630.7 1040.6 630.0 1040.8 630.6 1041.1 630.8 1041.3 631.0 1041.6 630.4 1041.8 630.8 1042.1 631.1 1042.3 631.3 1042.6 630.6 1042.8 631.0 1043.1 631.8 1043.3 630.8 1043.6 631.1 1043.8 630.8 1044.1 630.6 1044.3 630.2 1044.6 630.2 1044.8 631.1 1045.1 631.2 1045.3 631.7 1045.6 630.3 1045.8 630.5 1046.1 630.2 1046.3 631.0 1046.6 632.2 1046.8 630.6 1047.1 630.8 1047.3 631.0 1047.6 631.1 1047.8 630.8 1048.1 630.7 1048.4 631.9 1048.6 630.9 1048.9 631.3 1049.1 631.5 1049.4 630.4 1049.6 630.4 1049.9 631.2 1050.1 632.3 1050.4 631.5 1050.6 630.9 1050.9 631.2 1051.1 631.9 1051.4 631.9 1051.6 632.1 1051.9 631.4 1052.1 630.8 1052.4 630.6 1052.6 631.5 1052.9 631.3 1053.1 631.0 1053.4 631.5 1053.6 631.5 1053.9 630.3 1054.1 630.9 1054.4 630.9 1054.6 631.5 1054.9 631.4 1055.1 632.3 1055.4 631.7 1055.6 630.8 1055.9 630.1 1056.1 630.4 1056.4 630.9 1056.6 631.3 1056.9 631.7 1057.2 631.6 1057.4 631.2 1057.7 631.8 1057.9 631.1 1058.2 631.8 1058.4 632.6 1058.7 632.3 1058.9 632.5 1059.2 632.5 1059.4 631.1 1059.7 631.4 1059.9 631.4 1060.2 630.9 1060.4 630.6 1060.7 631.6 1060.9 630.9 1061.2 631.1 1061.4 631.5 1061.7 631.3 1061.9 632.2 1062.2 632.2 1062.4 631.7 1062.7 631.2 1062.9 631.6 1063.2 631.7 1063.4 631.1 1063.7 630.6 1063.9 630.9 1064.2 630.8 1064.4 631.6 1064.7 631.8 1064.9 631.5 1065.2 631.7 1065.4 631.9 1065.7 630.8 1066.0 631.4 1066.2 632.1 1066.5 631.5 1066.7 630.6 1067.0 631.2 1067.2 630.9 1067.5 631.6 1067.7 631.9 1068.0 632.1 1068.2 631.8 1068.5 630.7 1068.7 631.9 1069.0 631.0 1069.2 631.9 1069.5 631.9 1069.7 631.2 1070.0 631.2 1070.2 631.4 1070.5 632.4 1070.7 631.7 1071.0 632.1 1071.2 630.5 1071.5 631.3 1071.7 631.6 1072.0 632.2 1072.2 632.1 1072.5 632.4 1072.7 631.4 1073.0 631.6 1073.2 631.4 1073.5 631.9 1073.7 632.0 1074.0 631.1 1074.2 631.9 1074.5 632.8 1074.7 631.8 1075.0 632.2 1075.3 632.1 1075.5 631.3 1075.8 631.9 1076.0 631.4 1076.3 631.9 1076.5 631.0 1076.8 630.7 1077.0 631.7 1077.3 631.9 1077.5 632.2 1077.8 631.7 1078.0 631.1 1078.3 632.2 1078.5 631.5 1078.8 632.2 1079.0 632.4 1079.3 632.8 1079.5 630.9 1079.8 631.3 1080.0 631.6 1080.3 632.0 1080.5 631.3 1080.8 632.6 1081.0 632.1 1081.3 630.6 1081.5 631.5 1081.8 631.8 1082.0 631.4 1082.3 632.0 1082.5 631.8 1082.8 631.2 1083.0 631.4 1083.3 631.5 1083.5 631.8 1083.8 631.6 1084.1 631.6 1084.3 630.9 1084.6 631.1 1084.8 631.7 1085.1 633.0 1085.3 631.8 1085.6 631.2 1085.8 632.1 1086.1 632.9 1086.3 632.7 1086.6 631.4 1086.8 632.1 1087.1 632.1 1087.3 631.7 1087.6 631.0 1087.8 631.5 1088.1 631.8 1088.3 632.0 1088.6 631.0 1088.8 630.9 1089.1 631.6 1089.3 632.5 1089.6 632.4 1089.8 631.5 1090.1 632.0 1090.3 631.4 1090.6 631.4 1090.8 631.5 1091.1 631.3 1091.3 631.3 1091.6 632.1 1091.8 632.0 1092.1 630.5 1092.3 631.9 1092.6 632.2 1092.9 631.2 1093.1 631.6 1093.4 632.1 1093.6 632.5 1093.9 631.6 1094.1 631.1 1094.4 630.8 1094.6 631.4 1094.9 631.1 1095.1 632.0 1095.4 631.8 1095.6 632.0 1095.9 631.7 1096.1 631.2 1096.4 631.0 1096.6 632.0 1096.9 631.2 1097.1 631.7 1097.4 632.3 1097.6 631.9 1097.9 632.4 1098.1 631.9 1098.4 631.5 1098.6 631.7 1098.9 631.4 1099.1 631.7 1099.4 631.7 1099.6 632.3 1099.9 631.8 1100.1 632.0 1100.4 632.0 1100.6 631.7 1100.9 631.5 1101.1 632.4 1101.4 632.6 1101.7 632.0 1101.9 631.3 1102.2 631.2 1102.4 631.0 1102.7 630.6 1102.9 631.0 1103.2 631.4 1103.4 632.0 1103.7 632.1 1103.9 631.8 1104.2 631.3 1104.4 631.2 1104.7 631.3 1104.9 631.3 1105.2 630.9 1105.4 631.0 1105.7 630.9 1105.9 630.9 1106.2 631.3 1106.4 631.6 1106.7 630.8 1106.9 630.5 1107.2 630.8 1107.4 630.9 1107.7 629.4 1107.9 630.4 1108.2 630.5 1108.4 630.0 1108.7 630.5 1108.9 629.9 1109.2 628.5 1109.4 628.5 1109.7 628.6 1109.9 628.4 1110.2 628.4 1110.4 627.7 1110.7 627.8 1111.0 627.9 1111.2 627.2 1111.5 626.2 1111.7 626.0 1112.0 625.4 1112.2 626.6 1112.5 624.6 1112.7 622.6 1113.0 622.5 1113.2 623.2 1113.5 623.4 1113.7 622.2 1114.0 622.2 1114.2 620.7 1114.5 620.6 1114.7 619.2 1115.0 617.9 1115.2 619.7 1115.5 618.3 1115.7 617.9 1116.0 618.1 1116.2 617.2 1116.5 616.2 1116.7 614.7 1117.0 616.1 1117.2 614.4 1117.5 612.6 1117.7 613.3 1118.0 613.6 1118.2 614.0 1118.5 615.1 1118.7 614.0 1119.0 613.8 1119.2 613.7 1119.5 612.3 1119.8 613.6 1120.0 614.6 1120.3 614.1 1120.5 616.5 1120.8 617.4 1121.0 617.2 1121.3 617.6 1121.5 617.0 1121.8 617.8 1122.0 616.9 1122.3 617.0 1122.5 618.0 1122.8 619.4 1123.0 619.3 1123.3 619.2 1123.5 620.9 1123.8 620.6 1124.0 620.3 1124.3 620.8 1124.5 620.3 1124.8 620.4 1125.0 622.1 1125.3 622.2 1125.5 622.8 1125.8 622.2 1126.0 623.0 1126.3 622.3 1126.5 622.4 1126.8 622.2 1127.0 623.0 1127.3 624.2 1127.5 622.5 1127.8 623.1 1128.0 622.6 1128.3 623.0 1128.6 623.2 1128.8 622.5 1129.1 623.3 1129.3 623.1 1129.6 624.8 1129.8 624.1 1130.1 624.4 1130.3 624.7 1130.6 624.7 1130.8 624.6 1131.1 623.9 1131.3 626.0 1131.6 625.7 1131.8 626.0 1132.1 625.1 1132.3 625.9 1132.6 625.9 1132.8 626.4 1133.1 626.1 1133.3 625.9 1133.6 626.9 1133.8 627.1 1134.1 628.1 1134.3 627.6 1134.6 627.1 1134.8 628.0 1135.1 627.5 1135.3 629.2 1135.6 629.9 1135.8 629.8 1136.1 629.3 1136.3 629.1 1136.6 629.2 1136.8 629.4 1137.1 629.1 1137.3 629.8 1137.6 630.6 1137.9 630.9 1138.1 629.1 1138.4 631.1 1138.6 630.8 1138.9 629.7 1139.1 630.0 1139.4 631.0 1139.6 630.9 1139.9 630.4 1140.1 630.1 1140.4 631.3 1140.6 630.9 1140.9 630.9 1141.1 630.6 1141.4 630.4 1141.6 631.3 1141.9 632.3 1142.1 631.5 1142.4 630.5 1142.6 630.9 1142.9 631.4 1143.1 630.4 1143.4 631.8 1143.6 631.4 1143.9 631.9 1144.1 631.8 1144.4 631.7 1144.6 631.0 1144.9 632.1 1145.1 632.3 1145.4 632.8 1145.6 631.9 1145.9 632.0 1146.1 631.8 1146.4 632.4 1146.7 632.3 1146.9 631.5 1147.2 631.9 1147.4 631.7 1147.7 631.6 1147.9 632.1 1148.2 632.8 1148.4 631.7 1148.7 631.7 1148.9 631.5 1149.2 632.9 1149.4 633.2 1149.7 633.4 1149.9 632.8 1150.2 631.6 1150.4 631.5 1150.7 631.9 1150.9 632.0 1151.2 631.6 1151.4 632.0 1151.7 631.9 1151.9 631.9 1152.2 633.1 1152.4 632.6 1152.7 631.4 1152.9 632.0 1153.2 632.2 1153.4 632.4 1153.7 632.4 1153.9 631.5 1154.2 632.0 1154.4 632.6 1154.7 633.8 1154.9 632.9 1155.2 633.2 1155.5 633.3 1155.7 632.0 1156.0 631.6 1156.2 632.9 1156.5 631.9 1156.7 631.7 1157.0 632.4 1157.2 631.8 1157.5 632.8 1157.7 633.0 1158.0 633.0 1158.2 632.9 1158.5 631.8 1158.7 632.6 1159.0 632.9 1159.2 632.8 1159.5 632.1 1159.7 632.2 1160.0 631.7 1160.2 632.3 1160.5 632.9 1160.7 632.6 1161.0 632.1 1161.2 632.5 1161.5 632.1 1161.7 631.1 1162.0 632.1 1162.2 632.2 1162.5 631.4 1162.7 632.2 1163.0 632.6 1163.2 632.8 1163.5 632.1 1163.7 631.8 1164.0 632.1 1164.2 632.1 1164.5 631.4 1164.8 631.4 1165.0 632.7 1165.3 632.3 1165.5 632.0 1165.8 631.7 1166.0 632.1 1166.3 632.5 1166.5 632.4 1166.8 633.1 1167.0 632.4 1167.3 632.4 1167.5 632.0 1167.8 632.6 1168.0 632.5 1168.3 632.7 1168.5 632.8 1168.8 631.9 1169.0 632.2 1169.3 632.0 1169.5 632.6 1169.8 632.3 1170.0 633.0 1170.3 632.7 1170.5 632.5 1170.8 631.9 1171.0 631.9 1171.3 632.2 1171.5 631.7 1171.8 631.9 1172.0 631.8 1172.3 631.6 1172.5 632.0 1172.8 632.3 1173.0 632.0 1173.3 632.3 1173.6 632.0 1173.8 631.5 1174.1 631.5 1174.3 632.2 1174.6 632.8 1174.8 632.4 1175.1 632.2 1175.3 631.6 1175.6 632.1 1175.8 632.3 1176.1 631.8 1176.3 632.2 1176.6 632.3 1176.8 631.3 1177.1 631.1 1177.3 631.5 1177.6 631.9 1177.8 632.6 1178.1 632.0 1178.3 632.0 1178.6 632.0 1178.8 632.3 1179.1 632.2 1179.3 632.2 1179.6 632.0 1179.8 631.3 1180.1 631.7 1180.3 632.9 1180.6 632.9 1180.8 633.1 1181.1 632.8 1181.3 632.0 1181.6 631.8 1181.8 632.3 1182.1 632.1 1182.4 632.5 1182.6 633.0 1182.9 633.1 1183.1 632.8 1183.4 631.5 1183.6 632.5 1183.9 631.7 1184.1 631.2 1184.4 632.0 1184.6 632.2 1184.9 632.4 1185.1 632.2 1185.4 631.8 1185.6 632.0 1185.9 631.6 1186.1 631.3 1186.4 631.7 1186.6 631.9 1186.9 632.1 1187.1 631.9 1187.4 632.6 1187.6 632.1 1187.9 631.9 1188.1 632.5 1188.4 631.1 1188.6 632.2 1188.9 632.7 1189.1 632.1 1189.4 633.0 1189.6 632.8 1189.9 633.0 1190.1 632.8 1190.4 632.3 1190.6 631.9 1190.9 631.4 1191.2 631.5 1191.4 631.3 1191.7 631.6 1191.9 632.2 1192.2 631.6 1192.4 632.1 1192.7 632.4 1192.9 631.4 1193.2 631.4 1193.4 631.8 1193.7 631.6 1193.9 631.5 1194.2 632.6 1194.4 632.3 1194.7 632.6 1194.9 632.2 1195.2 632.3 1195.4 631.4 1195.7 631.5 1195.9 632.3 1196.2 632.2 1196.4 632.6 1196.7 632.2 1196.9 631.7 1197.2 631.8 1197.4 632.9 1197.7 632.5 1197.9 631.8 1198.2 631.7 1198.4 631.3 1198.7 632.4 1198.9 631.9 1199.2 632.2 1199.4 632.0 1199.7 631.7 1199.9 631.5 1200.2 632.1 1200.5 632.0 1200.7 632.5 1201.0 632.9 1201.2 631.9 1201.5 631.9 1201.7 632.8 1202.0 632.6 1202.2 632.1 1202.5 631.1 1202.7 631.1 1203.0 631.3 1203.2 632.7 1203.5 632.3 1203.7 631.7 1204.0 631.6 1204.2 631.6 1204.5 631.9 1204.7 631.0 1205.0 630.8 1205.2 631.7 1205.5 632.4 1205.7 631.0 1206.0 631.8 1206.2 631.3 1206.5 630.6 1206.7 632.0 1207.0 631.8 1207.2 631.9 1207.5 631.6 1207.7 631.5 1208.0 630.7 1208.2 631.1 1208.5 631.7 1208.7 631.2 1209.0 631.7 1209.3 632.0 1209.5 630.7 1209.8 631.8 1210.0 632.1 1210.3 631.8 1210.5 632.3 1210.8 633.0 1211.0 631.5 1211.3 631.9 1211.5 632.1 1211.8 632.0 1212.0 632.2 1212.3 632.4 1212.5 631.7 1212.8 630.4 1213.0 630.8 1213.3 631.1 1213.5 632.2 1213.8 631.9 1214.0 632.2 1214.3 631.4 1214.5 631.5 1214.8 631.6 1215.0 631.6 1215.3 631.8 1215.5 632.4 1215.8 631.4 1216.0 632.1 1216.3 632.3 1216.5 631.8 1216.8 631.8 1217.0 631.4 1217.3 630.8 1217.5 631.0 1217.8 631.2 1218.1 631.3 1218.3 630.8 1218.6 632.1 1218.8 631.4 1219.1 631.6 1219.3 632.0 1219.6 631.4 1219.8 631.3 1220.1 630.8 1220.3 630.3 1220.6 632.0 1220.8 631.4 1221.1 629.9 1221.3 630.0 1221.6 629.8 1221.8 630.4 1222.1 631.4 1222.3 631.4 1222.6 630.3 1222.8 629.7 1223.1 630.5 1223.3 630.4 1223.6 629.9 1223.8 630.8 1224.1 630.2 1224.3 628.7 1224.6 627.8 1224.8 628.7 1225.1 627.8 1225.3 628.5 1225.6 628.9 1225.8 629.4 1226.1 627.5 1226.3 627.3 1226.6 625.6 1226.8 625.8 1227.1 625.8 1227.4 626.6 1227.6 624.4 1227.9 624.4 1228.1 624.0 1228.4 624.7 1228.6 622.5 1228.9 621.0 1229.1 621.4 1229.4 620.5 1229.6 619.3 1229.9 618.1 1230.1 617.7 1230.4 615.9 1230.6 616.0 1230.9 615.9 1231.1 615.0 1231.4 615.7 1231.6 614.0 1231.9 611.2 1232.1 610.5 1232.4 610.7 1232.6 609.2 1232.9 610.1 1233.1 608.5 1233.4 606.7 1233.6 605.7 1233.9 606.3 1234.1 604.8 1234.4 603.1 1234.6 604.5 1234.9 603.9 1235.1 605.4 1235.4 606.4 1235.6 604.4 1235.9 604.3 1236.2 604.6 1236.4 605.5 1236.7 606.0 1236.9 605.4 1237.2 605.0 1237.4 607.0 1237.7 609.4 1237.9 608.2 1238.2 608.7 1238.4 609.7 1238.7 610.9 1238.9 610.2 1239.2 612.3 1239.4 613.5 1239.7 616.0 1239.9 616.5 1240.2 617.2 1240.4 617.6 1240.7 618.0 1240.9 619.5 1241.2 618.8 1241.4 620.9 1241.7 621.9 1241.9 622.0 1242.2 623.5 1242.4 623.3 1242.7 623.5 1242.9 624.6 1243.2 624.0 1243.4 625.1 1243.7 625.9 1243.9 627.0 1244.2 628.1 1244.4 628.0 1244.7 627.9 1245.0 628.3 1245.2 627.9 1245.5 629.7 1245.7 629.9 1246.0 630.2 1246.2 628.8 1246.5 629.5 1246.7 629.9 1247.0 630.4 1247.2 629.6 1247.5 630.0 1247.7 630.0 1248.0 631.3 1248.2 630.0 1248.5 629.9 1248.7 630.1 1249.0 629.7 1249.2 630.5 1249.5 630.7 1249.7 630.3 1250.0 630.4 1250.2 630.8 1250.5 630.8 1250.7 631.1 1251.0 630.6 1251.2 630.3 1251.5 630.8 1251.7 629.9 1252.0 631.5 1252.2 631.4 1252.5 630.2 1252.7 631.0 1253.0 632.0 1253.2 630.6 1253.5 630.6 1253.7 631.6 1254.0 630.9 1254.3 631.5 1254.5 632.0 1254.8 631.5 1255.0 631.5 1255.3 631.9 1255.5 631.6 1255.8 631.8 1256.0 631.4 1256.3 631.2 1256.5 630.8 1256.8 631.4 1257.0 632.0 1257.3 632.2 1257.5 631.6 1257.8 630.5 1258.0 630.6 1258.3 631.5 1258.5 630.9 1258.8 631.8 1259.0 631.0 1259.3 631.3 1259.5 631.0 1259.8 630.9 1260.0 631.4 1260.3 631.2 1260.5 631.9 1260.8 631.6 1261.0 630.8 1261.3 629.0 1261.5 630.3 1261.8 631.2 1262.0 631.9 1262.3 631.0 1262.5 632.1 1262.8 632.1 1263.1 631.4 1263.3 632.0 1263.6 630.8 1263.8 630.6 1264.1 631.5 1264.3 631.8 1264.6 632.2 1264.8 632.4 1265.1 631.4 1265.3 631.0 1265.6 631.1 1265.8 631.2 1266.1 631.7 1266.3 631.4 1266.6 632.2 1266.8 631.7 1267.1 630.7 1267.3 630.5 1267.6 631.5 1267.8 631.7 1268.1 630.8 1268.3 630.3 1268.6 631.9 1268.8 632.0 1269.1 631.4 1269.3 630.8 1269.6 631.7 1269.8 631.3 1270.1 631.5 1270.3 630.3 1270.6 630.8 1270.8 631.5 1271.1 631.7 1271.3 631.0 1271.6 630.9 1271.9 631.9 1272.1 631.6 1272.4 632.2 1272.6 632.1 1272.9 632.3 1273.1 632.4 1273.4 632.1 1273.6 632.1 1273.9 631.4 1274.1 631.0 1274.4 631.5 1274.6 632.1 1274.9 631.3 1275.1 632.4 1275.4 632.9 1275.6 631.5 1275.9 631.0 1276.1 630.9 1276.4 631.5 1276.6 632.2 1276.9 632.0 1277.1 631.3 1277.4 631.8 1277.6 632.0 1277.9 632.4 1278.1 632.4 1278.4 631.3 1278.6 631.1 1278.9 632.1 1279.1 632.3 1279.4 632.0 1279.6 631.3 1279.9 632.1 1280.1 631.8 1280.4 632.7 1280.7 632.6 1280.9 631.5 1281.2 631.0 1281.4 632.0 1281.7 632.1 1281.9 631.3 1282.2 631.6 1282.4 631.9 1282.7 631.4 1282.9 631.3 1283.2 630.9 1283.4 630.9 1283.7 631.7 1283.9 631.7 1284.2 631.6 1284.4 632.3 1284.7 632.3 1284.9 631.2 1285.2 632.2 1285.4 631.3 1285.7 631.2 1285.9 631.6 1286.2 631.3 1286.4 631.2 1286.7 630.8 1286.9 631.5 1287.2 631.7 1287.4 631.7 1287.7 630.6 1287.9 630.7 1288.2 631.9 1288.4 631.9 1288.7 632.0 1288.9 631.7 1289.2 631.4 1289.4 630.3 1289.7 632.1 1290.0 631.3 1290.2 631.1 1290.5 631.8 1290.7 631.8 1291.0 631.8 1291.2 631.6 1291.5 631.0 1291.7 632.2 1292.0 631.1 1292.2 631.5 1292.5 630.8 1292.7 631.1 1293.0 630.8 1293.2 631.0 1293.5 630.9 1293.7 631.3 1294.0 632.0 1294.2 631.3 1294.5 631.1 1294.7 630.3 1295.0 632.2 1295.2 632.0 1295.5 631.0 1295.7 632.0 1296.0 631.9 1296.2 630.5 1296.5 630.4 1296.7 631.8 1297.0 631.0 1297.2 630.7 1297.5 630.9 1297.7 631.2 1298.0 631.4 1298.2 632.0 1298.5 632.0 1298.8 631.2 1299.0 631.3 1299.3 630.5 1299.5 631.4 1299.8 632.9 1300.0 632.1 1300.3 631.5 1300.5 631.3 1300.8 631.4 1301.0 632.0 1301.3 630.9 1301.5 631.6 1301.8 631.3 1302.0 631.6 1302.3 632.2 1302.5 631.0 1302.8 632.6 1303.0 632.4 1303.3 631.5 1303.5 631.6 1303.8 631.2 1304.0 631.4 1304.3 631.8 1304.5 630.5 1304.8 631.3 1305.0 631.6 1305.3 632.1 1305.5 632.1 1305.8 631.3 1306.0 631.1 1306.3 631.4 1306.5 631.9 1306.8 631.3 1307.0 632.3 1307.3 632.0 1307.6 631.7 1307.8 632.0 1308.1 631.6 1308.3 631.8 1308.6 632.0 1308.8 630.7 1309.1 630.8 1309.3 630.7 1309.6 631.3 1309.8 631.0 1310.1 630.9 1310.3 630.7 1310.6 630.0 1310.8 631.2 1311.1 631.4 1311.3 631.5 1311.6 633.3 1311.8 632.8 1312.1 631.7 1312.3 631.1 1312.6 631.7 1312.8 631.0 1313.1 630.6 1313.3 631.4 1313.6 630.8 1313.8 630.3 1314.1 630.9 1314.3 631.9 1314.6 630.8 1314.8 631.3 1315.1 631.7 1315.3 631.4 1315.6 631.7 1315.8 631.0 1316.1 630.8 1316.3 630.6 1316.6 630.9 1316.9 631.7 1317.1 631.6 1317.4 631.0 1317.6 631.5 1317.9 629.9 1318.1 631.0 1318.4 631.7 1318.6 630.9 1318.9 630.8 1319.1 631.3 1319.4 631.5 1319.6 631.2 1319.9 630.8 1320.1 630.8 1320.4 631.4 1320.6 631.2 1320.9 630.8 1321.1 630.8 1321.4 632.8 1321.6 632.3 1321.9 631.9 1322.1 631.6 1322.4 631.2 1322.6 630.8 1322.9 630.8 1323.1 631.2 1323.4 631.3 1323.6 630.3 1323.9 631.2 1324.1 631.2 1324.4 630.3 1324.6 630.7 1324.9 632.2 1325.1 631.3 1325.4 631.3 1325.7 631.3 1325.9 630.6 1326.2 630.6 1326.4 631.1 1326.7 630.6 1326.9 630.6 1327.2 630.8 1327.4 630.8 1327.7 630.7 1327.9 631.0 1328.2 631.1 1328.4 630.8 1328.7 631.2 1328.9 631.5 1329.2 630.1 1329.4 630.4 1329.7 630.5 1329.9 630.4 1330.2 630.3 1330.4 630.1 1330.7 630.0 1330.9 630.3 1331.2 629.4 1331.4 629.8 1331.7 629.0 1331.9 630.2 1332.2 630.1 1332.4 628.6 1332.7 628.6 1332.9 628.9 1333.2 628.2 1333.4 628.6 1333.7 627.9 1333.9 628.8 1334.2 627.9 1334.5 627.4 1334.7 626.4 1335.0 625.6 1335.2 626.3 1335.5 624.7 1335.7 625.2 1336.0 626.2 1336.2 626.3 1336.5 623.5 1336.7 623.3 1337.0 623.6 1337.2 623.4 1337.5 623.2 1337.7 621.2 1338.0 621.2 1338.2 619.9 1338.5 620.4 1338.7 621.9 1339.0 619.8 1339.2 619.5 1339.5 619.3 1339.7 617.6 1340.0 618.2 1340.2 617.3 1340.5 617.5 1340.7 618.0 1341.0 617.0 1341.2 617.3 1341.5 616.1 1341.7 615.7 1342.0 616.3 1342.2 616.1 1342.5 615.9 1342.7 616.6 1343.0 616.0 1343.3 616.6 1343.5 616.3 1343.8 617.4 1344.0 617.2 1344.3 617.0 1344.5 618.0 1344.8 618.3 1345.0 618.6 1345.3 618.0 1345.5 619.0 1345.8 618.9 1346.0 618.2 1346.3 619.1 1346.5 621.1 1346.8 620.7 1347.0 620.1 1347.3 621.1 1347.5 620.8 1347.8 621.2 1348.0 621.8 1348.3 622.6 1348.5 623.3 1348.8 623.4 1349.0 623.5 1349.3 623.4 1349.5 623.6 1349.8 624.3 1350.0 624.5 1350.3 624.4 1350.5 625.8 1350.8 625.9 1351.0 625.8 1351.3 625.6 1351.5 625.7 1351.8 625.8 1352.0 626.2 1352.3 625.4 1352.6 625.4 1352.8 626.7 1353.1 626.1 1353.3 626.5 1353.6 624.9 1353.8 625.7 1354.1 626.0 1354.3 625.7 1354.6 625.7 1354.8 625.6 1355.1 624.5 1355.3 625.0 1355.6 624.8 1355.8 624.4 1356.1 625.6 1356.3 624.3 1356.6 624.3 1356.8 624.3 1357.1 625.3 1357.3 624.6 1357.6 624.4 1357.8 625.1 1358.1 623.4 1358.3 623.9 1358.6 624.8 1358.8 624.7 1359.1 624.1 1359.3 623.8 1359.6 624.2 1359.8 623.9 1360.1 623.7 1360.3 625.4 1360.6 625.6 1360.8 625.8 1361.1 625.3 1361.4 624.3 1361.6 624.7 1361.9 626.0 1362.1 626.0 1362.4 625.2 1362.6 626.0 1362.9 626.2 1363.1 626.0 1363.4 627.4 1363.6 626.4 1363.9 626.3 1364.1 626.4 1364.4 627.4 1364.6 627.8 1364.9 627.8 1365.1 627.4 1365.4 627.5 1365.6 627.6 1365.9 626.8 1366.1 626.9 1366.4 628.3 1366.6 628.8 1366.9 627.6 1367.1 628.4 1367.4 628.0 1367.6 627.7 1367.9 629.0 1368.1 629.3 1368.4 629.2 1368.6 629.8 1368.9 630.1 1369.1 629.9 1369.4 629.2 1369.6 629.8 1369.9 630.0 1370.2 630.1 1370.4 630.8 1370.7 629.4 1370.9 631.1 1371.2 630.9 1371.4 630.0 1371.7 630.9 1371.9 630.2 1372.2 629.5 1372.4 630.6 1372.7 630.4 1372.9 631.0 1373.2 630.4 1373.4 630.4 1373.7 630.4 1373.9 629.8 1374.2 630.1 1374.4 629.8 1374.7 630.0 1374.9 631.2 1375.2 630.7 1375.4 630.4 1375.7 631.4 1375.9 630.2 1376.2 630.4 1376.4 630.5 1376.7 631.1 1376.9 630.9 1377.2 630.6 1377.4 630.9 1377.7 630.8 1377.9 631.9 1378.2 630.4 1378.4 631.1 1378.7 632.1 1378.9 631.7 1379.2 631.4 1379.5 630.6 1379.7 631.2 1380.0 630.8 1380.2 631.3 1380.5 629.8 1380.7 630.1 1381.0 629.6 1381.2 631.0 1381.5 630.6 1381.7 631.2 1382.0 630.7 1382.2 630.3 1382.5 631.5 1382.7 631.7 1383.0 631.6 1383.2 631.8 1383.5 631.5 1383.7 631.4 1384.0 631.7 1384.2 631.0 1384.5 630.5 1384.7 631.4 1385.0 631.3 1385.2 630.9 1385.5 630.9 1385.7 631.2 1386.0 630.5 1386.2 630.2 1386.5 630.3 1386.7 630.8 1387.0 629.8 1387.2 629.5 1387.5 630.7 1387.7 630.9 1388.0 630.2 1388.3 631.0 1388.5 630.7 1388.8 630.7 1389.0 631.2 1389.3 631.0 1389.5 631.7 1389.8 631.4 1390.0 631.9 1390.3 629.9 1390.5 629.6 1390.8 629.8 1391.0 630.4 1391.3 630.2 1391.5 629.9 1391.8 630.0 1392.0 630.1 1392.3 631.1 1392.5 630.7 1392.8 631.0 1393.0 631.5 1393.3 631.6 1393.5 630.7 1393.8 630.1 1394.0 631.3 1394.3 630.1 1394.5 629.6 1394.8 630.7 1395.0 631.1 1395.3 630.9 1395.5 630.2 1395.8 630.8 1396.0 631.4 1396.3 630.7 1396.5 631.8 1396.8 631.0 1397.1 630.1 1397.3 630.3 1397.6 630.2 1397.8 630.3 1398.1 630.2 1398.3 630.5 1398.6 631.1 1398.8 631.0 1399.1 630.8 1399.3 630.0 1399.6 629.6 1399.8 630.2 1400.1 631.0 1400.3 631.2 1400.6 630.9 1400.8 630.0 1401.1 630.3 1401.3 630.6 1401.6 631.1 1401.8 630.3 1402.1 630.4 1402.3 630.6 1402.6 630.6 1402.8 629.7 1403.1 630.4 1403.3 629.8 1403.6 629.7 1403.8 630.4 1404.1 630.2 1404.3 630.5 1404.6 631.1 1404.8 630.9 1405.1 631.2 1405.3 630.5 1405.6 630.5 1405.8 630.3 1406.1 630.1 1406.4 632.1 1406.6 631.0 1406.9 631.5 1407.1 630.8 1407.4 631.0 1407.6 630.7 1407.9 629.8 1408.1 631.3 1408.4 630.8 1408.6 630.6 1408.9 631.6 1409.1 630.6 1409.4 630.4 1409.6 630.8 1409.9 631.0 1410.1 628.9 1410.4 630.2 1410.6 631.6 1410.9 631.4 1411.1 630.9 1411.4 630.8 1411.6 630.6 1411.9 631.1 1412.1 630.4 1412.4 630.7 1412.6 631.3 1412.9 631.2 1413.1 630.9 1413.4 630.1 1413.6 630.1 1413.9 630.6 1414.1 630.5 1414.4 630.4 1414.6 629.3 1414.9 630.4 1415.2 630.3 1415.4 630.0 1415.7 630.8 1415.9 630.5 1416.2 630.3 1416.4 630.7 1416.7 630.2 1416.9 629.8 1417.2 629.6 1417.4 630.3 1417.7 630.4 1417.9 629.1 1418.2 630.6 1418.4 630.5 1418.7 629.9 1418.9 630.2 1419.2 630.0 1419.4 630.2 1419.7 629.9 1419.9 629.5 1420.2 630.3 1420.4 630.3 1420.7 630.4 1420.9 630.6 1421.2 630.4 1421.4 631.0 1421.7 630.1 1421.9 629.3 1422.2 629.1 1422.4 629.3 1422.7 630.6 1422.9 629.7 1423.2 630.4 1423.4 630.5 1423.7 629.3 1424.0 630.5 1424.2 630.0 1424.5 630.0 1424.7 630.3 1425.0 630.8 1425.2 630.2 1425.5 630.4 1425.7 629.8 1426.0 629.4 1426.2 630.8 1426.5 630.8 1426.7 630.5 1427.0 630.9 1427.2 631.0 1427.5 630.4 1427.7 630.3 1428.0 631.1 1428.2 630.8 1428.5 630.0 1428.7 630.7 1429.0 630.9 1429.2 629.4 1429.5 629.1 1429.7 630.8 1430.0 631.2 1430.2 630.1 1430.5 630.7 1430.7 630.4 1431.0 630.4 1431.2 629.8 1431.5 631.3 1431.7 631.7 1432.0 631.1 1432.2 629.7 1432.5 629.9 1432.8 631.0 1433.0 630.0 1433.3 629.5 1433.5 629.9 1433.8 630.2 1434.0 629.7 1434.3 629.1 1434.5 629.6 1434.8 629.5 1435.0 629.7 1435.3 630.0 1435.5 630.3 1435.8 629.8 1436.0 629.8 1436.3 629.8 1436.5 629.1 1436.8 629.1 1437.0 629.0 1437.3 630.2 1437.5 629.4 1437.8 629.6 1438.0 629.9 1438.3 629.9 1438.5 628.7 1438.8 628.4 1439.0 629.3 1439.3 629.8 1439.5 629.1 1439.8 629.1 1440.0 627.8 1440.3 629.1 1440.5 629.8 1440.8 628.9 1441.0 628.3 1441.3 628.0 1441.5 627.5 1441.8 626.5 1442.1 627.5 1442.3 627.9 1442.6 628.5 1442.8 627.4 1443.1 626.5 1443.3 626.8 1443.6 626.0 1443.8 626.2 1444.1 625.3 1444.3 625.5 1444.6 626.4 1444.8 626.2 1445.1 626.4 1445.3 626.5 1445.6 625.0 1445.8 623.9 1446.1 622.8 1446.3 623.6 1446.6 623.9 1446.8 624.2 1447.1 622.8 1447.3 622.4 1447.6 622.9 1447.8 622.0 1448.1 621.5 1448.3 622.9 1448.6 621.4 1448.8 620.9 1449.1 621.1 1449.3 621.0 1449.6 619.2 1449.8 618.5 1450.1 618.1 1450.3 620.0 1450.6 620.1 1450.9 618.6 1451.1 619.5 1451.4 619.5 1451.6 620.0 1451.9 617.4 1452.1 616.9 1452.4 617.4 1452.6 617.6 1452.9 618.1 1453.1 618.1 1453.4 617.3 1453.6 618.0 1453.9 616.9 1454.1 617.7 1454.4 618.4 1454.6 616.9 1454.9 617.5 1455.1 617.4 1455.4 618.1 1455.6 619.8 1455.9 618.3 1456.1 619.2 1456.4 618.0 1456.6 619.6 1456.9 620.6 1457.1 619.3 1457.4 618.9 1457.6 619.4 1457.9 620.6 1458.1 619.7 1458.4 621.1 1458.6 621.2 1458.9 621.5 1459.1 621.6 1459.4 620.9 1459.7 621.9 1459.9 621.7 1460.2 621.6 1460.4 623.5 1460.7 624.0 1460.9 623.6 1461.2 623.8 1461.4 623.5 1461.7 625.1 1461.9 624.1 1462.2 623.7 1462.4 624.6 1462.7 625.8 1462.9 625.4 1463.2 625.6 1463.4 625.3 1463.7 625.7 1463.9 625.5 1464.2 626.2 1464.4 625.5 1464.7 627.6 1464.9 627.7 1465.2 626.7 1465.4 627.8 1465.7 627.0 1465.9 627.8 1466.2 627.6 1466.4 628.0 1466.7 628.1 1466.9 627.7 1467.2 627.8 1467.4 628.1 1467.7 626.8 1467.9 627.6 1468.2 628.7 1468.4 627.8 1468.7 627.6 1469.0 627.4 1469.2 627.1 1469.5 628.6 1469.7 628.0 1470.0 627.6 1470.2 628.2 1470.5 628.3 1470.7 630.2 1471.0 629.4 1471.2 627.6 1471.5 629.2 1471.7 629.2 1472.0 628.4 1472.2 628.1 1472.5 627.4 1472.7 629.2 1473.0 628.8 1473.2 627.9 1473.5 629.0 1473.7 628.6 1474.0 627.3 1474.2 627.2 1474.5 627.7 1474.7 629.7 1475.0 628.8 1475.2 628.0 1475.5 628.2 1475.7 628.2 1476.0 626.3 1476.2 627.5 1476.5 628.6 1476.7 628.0 1477.0 628.0 1477.2 628.1 1477.5 627.9 1477.8 627.3 1478.0 627.4 1478.3 628.3 1478.5 627.9 1478.8 627.3 1479.0 627.7 1479.3 626.9 1479.5 626.7 1479.8 627.8 1480.0 627.4 1480.3 626.1 1480.5 625.9 1480.8 627.0 1481.0 626.7 1481.3 627.4 1481.5 628.1 1481.8 627.0 1482.0 626.8 1482.3 626.7 1482.5 626.9 1482.8 626.8 1483.0 627.2 1483.3 626.7 1483.5 626.3 1483.8 626.7 1484.0 626.4 1484.3 627.8 1484.5 627.7 1484.8 626.1 1485.0 625.5 1485.3 626.3 1485.5 626.8 1485.8 627.6 1486.0 626.8 1486.3 626.3 1486.6 627.6 1486.8 626.8 1487.1 626.4 1487.3 626.5 1487.6 627.5 1487.8 626.8 1488.1 627.7 1488.3 626.3 1488.6 626.6 1488.8 627.6 1489.1 626.4 1489.3 626.1 1489.6 627.2 1489.8 625.9 1490.1 627.3 1490.3 627.2 1490.6 626.4 1490.8 628.4 1491.1 627.1 1491.3 627.2 1491.6 627.4 1491.8 628.0 1492.1 627.5 1492.3 628.1 1492.6 628.3 1492.8 628.0 1493.1 628.4 1493.3 627.0 1493.6 628.2 1493.8 628.5 1494.1 628.1 1494.3 627.9 1494.6 627.4 1494.8 627.3 1495.1 628.0 1495.4 628.3 1495.6 628.1 1495.9 627.6 1496.1 627.6 1496.4 628.4 1496.6 629.6 1496.9 627.4 1497.1 627.4 1497.4 628.0 1497.6 628.2 1497.9 628.7 1498.1 629.2 1498.4 628.9 1498.6 628.8 1498.9 629.0 1499.1 629.6 1499.4 629.1 1499.6 628.4 1499.9 628.9 1500.1 628.8 1500.4 630.0 1500.6 629.3 1500.9 628.9 1501.1 629.6 1501.4 630.1 1501.6 629.0 1501.9 629.3 1502.1 628.8 1502.4 629.1 1502.6 628.7 1502.9 629.1 1503.1 629.9 1503.4 629.4 1503.6 629.3 1503.9 628.8 1504.1 629.2 1504.4 629.4 1504.7 628.7 1504.9 628.3 1505.2 628.5 1505.4 628.4 1505.7 628.7 1505.9 628.6 1506.2 628.5 1506.4 628.8 1506.7 629.1 1506.9 629.1 1507.2 627.8 1507.4 628.7 1507.7 629.3 1507.9 629.5 1508.2 629.3 1508.4 629.1 1508.7 629.8 1508.9 630.6 1509.2 629.4 1509.4 630.1 1509.7 629.4 1509.9 629.1 1510.2 628.6 1510.4 628.1 1510.7 628.7 1510.9 629.5 1511.2 630.0 1511.4 629.9 1511.7 629.4 1511.9 630.4 1512.2 629.6 1512.4 629.2 1512.7 628.9 1512.9 629.3 1513.2 629.2 1513.5 629.6 1513.7 629.6 1514.0 630.3 1514.2 629.5 1514.5 628.3 1514.7 628.9 1515.0 629.0 1515.2 629.7 1515.5 628.6 1515.7 629.4 1516.0 628.9 1516.2 629.0 1516.5 629.8 1516.7 628.8 1517.0 629.0 1517.2 629.1 1517.5 628.9 1517.7 629.2 1518.0 629.4 1518.2 629.0 1518.5 629.4 1518.7 629.3 1519.0 629.6 1519.2 630.2 1519.5 629.9 1519.7 629.6 1520.0 629.3 1520.2 628.5 1520.5 630.0 1520.7 629.5 1521.0 630.4 1521.2 630.2 1521.5 629.7 1521.7 630.6 1522.0 630.7 1522.3 629.5 1522.5 629.1 1522.8 629.3 1523.0 629.7 1523.3 628.1 1523.5 628.9 1523.8 629.7 1524.0 628.4 1524.3 628.5 1524.5 629.3 1524.8 628.6 1525.0 628.9 1525.3 628.8 1525.5 628.9 1525.8 629.7 1526.0 628.8 1526.3 628.9 1526.5 629.7 1526.8 629.8 1527.0 628.8 1527.3 629.2 1527.5 629.2 1527.8 628.8 1528.0 629.0 1528.3 630.0 1528.5 629.1 1528.8 628.5 1529.0 628.5 1529.3 628.1 1529.5 628.7 1529.8 628.7 1530.0 628.2 1530.3 629.1 1530.5 628.3 1530.8 627.9 1531.0 628.4 1531.3 628.0 1531.6 628.4 1531.8 629.5 1532.1 628.7 1532.3 628.8 1532.6 628.9 1532.8 629.0 1533.1 628.4 1533.3 628.6 1533.6 629.5 1533.8 629.1 1534.1 628.7 1534.3 629.5 1534.6 629.6 1534.8 629.5 1535.1 629.6 1535.3 629.1 1535.6 628.6 1535.8 628.0 1536.1 628.2 1536.3 628.4 1536.6 628.4 1536.8 628.3 1537.1 629.2 1537.3 628.9 1537.6 628.9 1537.8 629.3 1538.1 629.5 1538.3 629.6 1538.6 629.5 1538.8 630.0 1539.1 629.2 1539.3 629.2 1539.6 629.2 1539.8 629.0 1540.1 628.8 1540.4 629.5 1540.6 629.4 1540.9 630.2 1541.1 630.8 1541.4 630.8 1541.6 628.8 1541.9 630.0 1542.1 629.4 1542.4 628.4 1542.6 629.3 1542.9 628.4 1543.1 627.9 1543.4 628.4 1543.6 627.8 1543.9 628.5 1544.1 629.6 1544.4 629.1 1544.6 629.4 1544.9 630.1 1545.1 630.3 1545.4 628.2 1545.6 629.2 1545.9 629.4 1546.1 629.7 1546.4 629.3 1546.6 629.4 1546.9 629.5 1547.1 630.0 1547.4 630.3 1547.6 629.9 1547.9 629.2 1548.1 628.0 1548.4 628.2 1548.6 628.0 1548.9 628.6 1549.2 629.2 1549.4 630.0 1549.7 629.4 1549.9 630.4 1550.2 629.7 1550.4 628.3 1550.7 628.6 1550.9 628.4 1551.2 629.1 1551.4 629.9 1551.7 629.5 1551.9 629.3 1552.2 628.3 1552.4 627.5 1552.7 628.9 1552.9 629.1 1553.2 628.9 1553.4 628.9 1553.7 629.4 1553.9 628.8 1554.2 628.3 1554.4 628.2 1554.7 629.0 1554.9 628.6 1555.2 629.2 1555.4 627.9 1555.7 628.4 1555.9 628.3 1556.2 628.1 1556.4 628.1 1556.7 628.3 1556.9 628.7 1557.2 626.6 1557.4 626.7 1557.7 626.8 1557.9 625.5 1558.2 626.3 1558.5 626.2 1558.7 626.2 1559.0 625.4 1559.2 625.4 1559.5 625.5 1559.7 625.7 1560.0 625.3 1560.2 624.4 1560.5 626.0 1560.7 625.2 1561.0 624.8 1561.2 624.5 1561.5 625.3 1561.7 623.7 1562.0 623.9 1562.2 623.5 1562.5 623.3 1562.7 623.9 1563.0 623.1 1563.2 623.5 1563.5 622.9 1563.7 622.0 1564.0 621.4 1564.2 621.0 1564.5 620.8 1564.7 619.0 1565.0 619.4 1565.2 620.7 1565.5 620.4 1565.7 620.0 1566.0 619.4 1566.2 619.3 1566.5 619.4 1566.7 617.4 1567.0 617.7 1567.3 618.2 1567.5 618.0 1567.8 617.8 1568.0 616.4 1568.3 616.5 1568.5 616.1 1568.8 619.0 1569.0 617.4 1569.3 615.9 1569.5 614.9 1569.8 616.1 1570.0 617.9 1570.3 616.6 1570.5 616.9 1570.8 618.1 1571.0 617.5 1571.3 616.0 1571.5 615.6 1571.8 616.0 1572.0 617.6 1572.3 615.5 1572.5 617.5 1572.8 617.7 1573.0 618.7 1573.3 617.1 1573.5 617.3 1573.8 617.4 1574.0 618.1 1574.3 618.7 1574.5 618.8 1574.8 620.5 1575.0 619.2 1575.3 618.8 1575.5 620.0 1575.8 620.4 1576.1 620.4 1576.3 619.7 1576.6 620.5 1576.8 621.3 1577.1 622.1 1577.3 623.2 1577.6 623.1 1577.8 622.7 1578.1 623.1 1578.3 623.2 1578.6 623.0 1578.8 623.4 1579.1 623.8 1579.3 623.9 1579.6 624.4 1579.8 624.9 1580.1 624.9 1580.3 626.4 1580.6 625.2 1580.8 626.5 1581.1 625.9 1581.3 626.2 1581.6 625.9 1581.8 626.6 1582.1 627.6 1582.3 626.8 1582.6 627.1 1582.8 627.5 1583.1 627.7 1583.3 627.3 1583.6 627.4 1583.8 628.0 1584.1 629.3 1584.3 629.1 1584.6 628.7 1584.9 627.8 1585.1 628.4 1585.4 629.1 1585.6 628.5 1585.9 629.1 1586.1 629.4 1586.4 629.4 1586.6 630.4 1586.9 629.4 1587.1 629.3 1587.4 629.9 1587.6 630.6 1587.9 630.1 1588.1 629.2 1588.4 630.2 1588.6 630.9 1588.9 630.2 1589.1 631.1 1589.4 631.8 1589.6 631.0 1589.9 630.9 1590.1 630.7 1590.4 630.8 1590.6 630.4 1590.9 630.6 1591.1 631.0 1591.4 631.0 1591.6 630.4 1591.9 630.0 1592.1 630.0 1592.4 630.2 1592.6 632.4 1592.9 631.9 1593.1 631.1 1593.4 630.8 1593.6 631.7 1593.9 630.4 1594.2 630.5 1594.4 631.2 1594.7 630.9" fill="none" stroke="none" marker-start="url(#oc)" marker-mid="url(#oc)" marker-end="url(#oc)"/>
<polyline points="90.50,522.50 95.01,522.54 99.53,522.51 103.51,522.36 105.09,522.06 106.15,521.62 106.90,521.06 107.50,520.36 107.95,519.60 108.33,518.71 108.63,517.75 108.85,516.84 109.08,515.70 109.31,514.28 109.46,513.14 109.61,511.81 109.76,510.28 109.91,508.52 110.06,506.50 110.21,504.21 110.36,501.63 110.51,498.79 110.66,495.72 110.96,489.34 111.04,487.83 111.11,486.42 111.19,485.13 111.26,484.02 111.34,483.11 111.41,482.44 111.49,482.03 111.56,481.90 111.64,482.06 111.71,482.49 111.79,483.19 111.86,484.12 111.94,485.26 112.01,486.57 112.09,488.01 112.24,491.15 112.54,497.62 112.69,500.64 112.84,503.40 112.99,505.89 113.14,508.09 113.29,510.04 113.44,511.73 113.59,513.21 113.74,514.49 113.97,516.11 114.19,517.41 114.42,518.48 114.72,519.61 115.10,520.70 115.55,521.68 116.15,522.64 116.90,523.52 118.03,524.48 119.91,525.65 122.02,526.83 123.07,527.78 125.78,530.79 129.39,534.00 133.90,537.84 138.42,541.77 142.93,545.64 147.44,549.44 151.95,553.28 156.47,557.19 160.98,560.97 164.67,563.79 169.18,566.82 173.69,569.88 178.21,573.08 182.72,576.07 187.23,578.88 191.75,581.69 196.26,584.44 200.77,587.19 205.29,589.76 209.80,592.09 210.85,592.42 211.68,592.40 212.51,592.04 213.26,591.45 213.94,590.63 214.46,589.73 214.91,588.73 215.29,587.67 215.67,586.37 215.97,585.10 216.27,583.59 216.49,582.25 216.72,580.72 216.94,578.94 217.17,576.88 217.32,575.31 217.47,573.57 217.62,571.63 217.77,569.46 217.92,567.02 218.00,565.68 218.07,564.26 218.15,562.74 218.22,561.13 218.30,559.40 218.37,557.55 218.45,555.57 218.52,553.45 218.60,551.17 218.67,548.71 218.75,546.06 218.83,543.20 218.90,540.11 218.98,536.76 219.05,533.14 219.13,529.20 219.20,524.93 219.28,520.29 219.35,515.25 219.43,509.77 219.50,503.81 219.58,497.33 219.65,490.30 219.73,482.66 219.80,474.37 219.88,465.39 219.95,455.68 220.03,445.20 220.10,433.91 220.18,421.78 220.25,408.80 220.33,394.97 220.40,380.30 220.48,364.84 220.56,348.68 220.63,331.95 220.71,314.82 220.78,297.54 220.86,280.43 220.93,263.87 221.01,248.31 221.08,234.24 221.16,222.18 221.23,212.62 221.31,206.00 221.38,202.61 221.46,202.65 221.53,206.10 221.61,212.79 221.68,222.42 221.76,234.55 221.83,248.68 221.91,264.31 221.98,280.94 222.06,298.12 222.13,315.47 222.21,332.66 222.29,349.47 222.36,365.69 222.44,381.22 222.51,395.95 222.59,409.85 222.66,422.90 222.74,435.09 222.81,446.45 222.89,457.00 222.96,466.78 223.04,475.83 223.11,484.18 223.19,491.89 223.26,498.99 223.34,505.54 223.41,511.56 223.49,517.11 223.56,522.22 223.64,526.93 223.71,531.26 223.79,535.26 223.87,538.95 223.94,542.37 224.02,545.52 224.09,548.45 224.17,551.16 224.24,553.69 224.32,556.03 224.39,558.22 224.47,560.27 224.54,562.18 224.62,563.97 224.69,565.65 224.77,567.23 224.84,568.71 224.99,571.44 225.14,573.87 225.29,576.04 225.44,578.01 225.60,579.78 225.82,582.14 226.05,584.18 226.27,585.98 226.50,587.55 226.80,589.37 227.10,590.92 227.48,592.56 227.85,593.93 228.30,595.29 228.83,596.56 229.43,597.70 230.11,598.68 230.86,599.45 231.69,600.02 232.67,600.37 233.79,600.47 234.92,600.28 236.05,599.79 237.03,599.09 237.93,598.17 238.76,597.04 239.44,595.84 240.04,594.51 240.56,593.09 241.02,591.65 241.47,589.93 241.84,588.26 242.22,586.30 242.52,584.50 242.82,582.45 243.05,580.71 243.27,578.79 243.50,576.64 243.72,574.24 243.95,571.54 244.10,569.55 244.25,567.39 244.40,565.04 244.55,562.47 244.70,559.66 244.85,556.57 244.93,554.91 245.00,553.17 245.08,551.33 245.15,549.40 245.23,547.37 245.30,545.22 245.38,542.96 245.45,540.57 245.53,538.04 245.60,535.36 245.68,532.53 245.75,529.52 245.83,526.34 245.90,522.96 245.98,519.36 246.05,515.55 246.13,511.49 246.21,507.18 246.28,502.59 246.36,497.70 246.43,492.50 246.51,486.97 246.58,481.09 246.66,474.82 246.73,468.16 246.81,461.07 246.88,453.54 246.96,445.54 247.03,437.05 247.11,428.04 247.18,418.49 247.26,408.40 247.33,397.72 247.41,386.46 247.48,374.60 247.56,362.13 247.63,349.06 247.71,335.40 247.79,321.17 247.86,306.39 247.94,291.13 248.01,275.44 248.09,259.42 248.16,243.19 248.24,226.86 248.31,210.63 248.39,194.67 248.46,179.22 248.54,164.52 248.61,150.82 248.69,138.41 248.76,127.55 248.84,118.51 248.91,111.50 248.99,106.72 249.06,104.30 249.14,104.31 249.21,106.74 249.29,111.52 249.36,118.54 249.44,127.59 249.52,138.45 249.59,150.87 249.67,164.58 249.74,179.29 249.82,194.75 249.89,210.71 249.97,226.96 250.04,243.29 250.12,259.53 250.19,275.56 250.27,291.25 250.34,306.53 250.42,321.31 250.49,335.55 250.57,349.22 250.64,362.30 250.72,374.77 250.79,386.64 250.87,397.91 250.94,408.59 251.02,418.70 251.09,428.25 251.17,437.27 251.25,445.77 251.32,453.78 251.40,461.32 251.47,468.41 251.55,475.09 251.62,481.36 251.70,487.25 251.77,492.79 251.85,498.00 251.92,502.89 252.00,507.49 252.07,511.82 252.15,515.88 252.22,519.71 252.30,523.31 252.37,526.70 252.45,529.89 252.52,532.90 252.60,535.75 252.67,538.43 252.75,540.97 252.82,543.37 252.90,545.64 252.98,547.80 253.05,549.84 253.13,551.78 253.20,553.63 253.28,555.38 253.43,558.64 253.58,561.60 253.73,564.31 253.88,566.78 254.03,569.06 254.18,571.15 254.40,573.98 254.63,576.51 254.86,578.77 255.08,580.80 255.31,582.62 255.61,584.79 255.91,586.70 256.28,588.77 256.66,590.56 257.11,592.40 257.56,593.97 258.09,595.52 258.69,597.01 259.37,598.39 260.20,599.76 261.17,601.04 262.30,602.20 263.66,603.27 265.39,604.29 267.57,605.23 270.50,606.13 273.66,606.99 278.17,608.59 282.69,609.86 287.20,610.99 291.71,612.05 296.23,613.05 300.74,614.03 305.25,614.99 309.77,615.90 314.28,616.71 316.99,617.03 318.04,616.93 318.72,616.62 319.39,616.02 320.22,614.93 320.97,613.90 321.43,613.54 321.80,613.52 322.18,613.76 322.63,614.35 323.98,616.62 324.66,617.46 325.34,618.00 326.31,618.42 328.80,618.92 333.31,619.56 337.82,620.12 342.34,620.58 345.50,620.68 347.45,620.50 348.81,620.12 349.78,619.59 350.46,618.99 350.99,618.27 351.36,617.51 351.66,616.66 351.89,615.82 352.12,614.74 352.34,613.37 352.49,612.25 352.64,610.95 352.79,609.43 352.94,607.68 353.09,605.66 353.24,603.37 353.39,600.78 353.54,597.89 353.69,594.68 353.85,591.18 354.00,587.39 354.15,583.34 354.30,579.08 354.75,565.75 354.90,561.46 354.97,559.43 355.05,557.50 355.12,555.69 355.20,554.02 355.27,552.52 355.35,551.21 355.42,550.11 355.50,549.24 355.58,548.60 355.65,548.22 355.73,548.10 355.80,548.24 355.88,548.64 355.95,549.29 356.03,550.19 356.10,551.31 356.18,552.64 356.25,554.16 356.33,555.84 356.40,557.67 356.48,559.62 356.63,563.81 356.85,570.48 357.15,579.45 357.31,583.75 357.46,587.83 357.61,591.66 357.76,595.20 357.91,598.44 358.06,601.37 358.21,604.00 358.36,606.33 358.51,608.38 358.66,610.18 358.81,611.73 358.96,613.08 359.11,614.23 359.34,615.66 359.56,616.79 359.79,617.69 360.09,618.61 360.46,619.47 360.99,620.32 361.67,621.08 362.65,621.85 364.00,622.54 365.96,623.16 368.89,623.70 373.40,624.15 377.92,624.42 382.43,624.62 386.94,624.82 391.46,624.93 394.46,624.78 396.72,624.38 398.38,623.83 399.58,623.16 400.48,622.40 401.16,621.57 401.69,620.67 402.06,619.78 402.36,618.84 402.59,617.93 402.81,616.80 403.04,615.36 403.19,614.20 403.34,612.83 403.49,611.24 403.64,609.37 403.79,607.21 403.87,606.01 403.94,604.72 404.02,603.33 404.09,601.86 404.17,600.28 404.24,598.60 404.32,596.82 404.39,594.93 404.47,592.94 404.54,590.84 404.62,588.62 404.69,586.30 404.77,583.88 404.84,581.35 404.92,578.71 404.99,575.98 405.07,573.16 405.22,567.28 405.37,561.13 405.75,545.35 405.82,542.27 405.90,539.27 405.97,536.38 406.05,533.63 406.12,531.05 406.20,528.67 406.27,526.52 406.35,524.64 406.42,523.04 406.50,521.76 406.57,520.82 406.65,520.23 406.72,520.00 406.80,520.13 406.88,520.63 406.95,521.48 407.03,522.66 407.10,524.16 407.18,525.94 407.25,527.99 407.33,530.26 407.40,532.74 407.48,535.38 407.55,538.16 407.70,544.01 408.08,559.18 408.23,565.07 408.38,570.68 408.45,573.37 408.53,575.96 408.61,578.45 408.68,580.85 408.76,583.14 408.83,585.33 408.91,587.40 408.98,589.37 409.06,591.24 409.13,593.00 409.21,594.66 409.28,596.21 409.36,597.67 409.43,599.03 409.51,600.30 409.58,601.49 409.73,603.61 409.88,605.44 410.03,607.00 410.19,608.33 410.34,609.46 410.56,610.84 410.79,611.93 411.01,612.79 411.31,613.69 411.69,614.53 412.22,615.40 412.97,616.28 413.95,617.08 415.22,617.76 416.95,618.33 419.44,618.78 423.20,619.06 427.71,619.11 429.22,619.25 429.97,619.55 430.49,620.00 431.02,620.72 431.92,622.43 432.53,623.47 433.05,624.08 433.65,624.44 434.48,624.57 435.76,624.37 437.34,623.81 438.62,623.09 439.60,622.28 440.35,621.42 440.95,620.49 441.40,619.56 441.78,618.55 442.08,617.52 442.30,616.57 442.53,615.42 442.76,614.01 442.98,612.29 443.13,610.93 443.28,609.38 443.43,607.61 443.58,605.60 443.73,603.32 443.88,600.74 443.96,599.34 444.03,597.85 444.11,596.28 444.18,594.63 444.26,592.88 444.33,591.04 444.41,589.11 444.49,587.09 444.56,584.97 444.64,582.75 444.71,580.44 444.79,578.04 444.86,575.54 444.94,572.95 445.01,570.27 445.09,567.50 445.24,561.73 445.39,555.65 445.54,549.35 445.76,539.59 445.99,529.77 446.14,523.39 446.22,520.30 446.29,517.32 446.37,514.45 446.44,511.72 446.52,509.16 446.59,506.79 446.67,504.63 446.74,502.71 446.82,501.04 446.89,499.64 446.97,498.54 447.04,497.74 447.12,497.26 447.19,497.10 447.27,497.26 447.34,497.75 447.42,498.55 447.49,499.65 447.57,501.05 447.64,502.72 447.72,504.64 447.80,506.80 447.87,509.18 447.95,511.74 448.02,514.47 448.10,517.34 448.17,520.33 448.32,526.57 448.55,536.33 448.77,546.16 448.92,552.56 449.07,558.76 449.22,564.70 449.30,567.55 449.37,570.32 449.45,573.00 449.53,575.59 449.60,578.09 449.68,580.49 449.75,582.81 449.83,585.02 449.90,587.14 449.98,589.17 450.05,591.10 450.13,592.94 450.20,594.69 450.28,596.35 450.35,597.92 450.43,599.41 450.58,602.14 450.73,604.57 450.88,606.72 451.03,608.61 451.18,610.27 451.33,611.72 451.48,612.99 451.71,614.61 451.93,615.93 452.16,617.02 452.46,618.18 452.83,619.31 453.29,620.34 453.89,621.36 454.64,622.29 455.62,623.17 456.90,623.97 458.55,624.65 460.88,625.24 464.42,625.75 468.93,626.11 473.45,626.33 477.96,626.50 482.47,626.66 486.98,626.85 491.50,627.06 496.01,627.30 500.52,627.55 505.04,627.81 509.55,628.06 514.06,628.28 518.58,628.38 521.66,628.24 523.09,627.96 523.92,627.58 524.52,627.07 525.05,626.37 525.50,625.50 525.87,624.54 526.25,623.34 526.63,621.88 527.00,620.18 527.45,617.86 528.36,612.91 528.66,611.43 528.96,610.22 529.18,609.56 529.41,609.14 529.63,609.00 529.86,609.15 530.09,609.58 530.31,610.26 530.61,611.49 530.99,613.37 531.97,618.79 532.42,621.04 532.79,622.66 533.17,624.03 533.55,625.14 534.00,626.18 534.45,626.93 534.97,627.53 535.65,628.01 536.71,628.37 538.44,628.55 540.62,628.46 542.57,628.10 544.15,627.54 545.43,626.81 546.41,625.98 547.24,625.02 547.91,623.95 548.44,622.86 548.82,621.87 549.19,620.62 549.49,619.35 549.72,618.19 549.94,616.78 550.17,615.08 550.32,613.73 550.47,612.20 550.62,610.44 550.77,608.43 550.92,606.13 551.00,604.86 551.07,603.51 551.15,602.07 551.22,600.53 551.30,598.90 551.37,597.17 551.45,595.33 551.52,593.38 551.60,591.31 551.67,589.13 551.75,586.83 551.82,584.40 551.90,581.85 551.97,579.16 552.05,576.35 552.13,573.41 552.20,570.33 552.28,567.12 552.35,563.78 552.43,560.31 552.50,556.71 552.58,552.98 552.65,549.14 552.73,545.18 552.80,541.11 552.88,536.94 552.95,532.67 553.10,523.91 553.33,510.35 553.55,496.70 553.70,487.83 553.78,483.54 553.86,479.39 553.93,475.40 554.01,471.62 554.08,468.06 554.16,464.76 554.23,461.76 554.31,459.09 554.38,456.77 554.46,454.83 554.53,453.30 554.61,452.19 554.68,451.52 554.76,451.30 554.83,451.53 554.91,452.20 554.98,453.31 555.06,454.85 555.13,456.79 555.21,459.12 555.28,461.80 555.36,464.80 555.43,468.10 555.51,471.67 555.59,475.46 555.66,479.45 555.74,483.61 555.81,487.90 555.96,496.78 556.34,519.53 556.49,528.44 556.56,532.80 556.64,537.07 556.71,541.24 556.79,545.32 556.86,549.28 556.94,553.13 557.01,556.86 557.09,560.46 557.16,563.94 557.24,567.29 557.32,570.50 557.39,573.58 557.47,576.53 557.54,579.35 557.62,582.04 557.69,584.60 557.77,587.03 557.84,589.34 557.92,591.52 557.99,593.59 558.07,595.55 558.14,597.39 558.22,599.13 558.29,600.77 558.37,602.31 558.44,603.75 558.52,605.11 558.59,606.38 558.74,608.69 558.89,610.71 559.05,612.48 559.20,614.03 559.35,615.38 559.57,617.10 559.80,618.52 560.02,619.70 560.32,620.99 560.70,622.27 561.15,623.46 561.68,624.54 562.36,625.62 563.18,626.61 564.24,627.52 565.51,628.29 567.09,628.89 568.97,629.28 571.08,629.39 573.26,629.18 575.44,628.66 577.70,627.81 580.56,626.37 584.70,624.14 586.88,623.23 588.91,622.69 591.39,622.37 594.40,622.09 595.75,621.72 596.73,621.20 597.48,620.54 598.08,619.73 598.54,618.88 598.91,617.94 599.29,616.72 599.59,615.48 599.89,613.95 600.12,612.58 600.34,610.98 600.57,609.13 600.79,607.00 601.02,604.56 601.24,601.78 601.39,599.73 601.54,597.51 601.70,595.12 601.85,592.55 602.00,589.81 602.15,586.88 602.30,583.77 602.45,580.49 602.60,577.04 602.82,571.55 603.05,565.74 603.27,559.65 603.58,551.25 604.03,538.54 604.25,532.44 604.40,528.60 604.55,524.99 604.63,523.30 604.70,521.70 604.78,520.18 604.85,518.77 604.93,517.46 605.00,516.27 605.08,515.20 605.16,514.26 605.23,513.46 605.31,512.79 605.38,512.27 605.46,511.90 605.53,511.67 605.61,511.60 605.68,511.68 605.76,511.91 605.83,512.29 605.91,512.82 605.98,513.50 606.06,514.31 606.13,515.26 606.21,516.33 606.28,517.53 606.36,518.84 606.43,520.27 606.51,521.79 606.58,523.40 606.73,526.88 606.89,530.63 607.04,534.59 607.26,540.80 607.86,557.83 608.09,564.02 608.31,569.96 608.54,575.59 608.69,579.15 608.84,582.54 608.99,585.76 609.14,588.80 609.29,591.66 609.44,594.34 609.59,596.84 609.74,599.18 609.89,601.34 610.12,604.28 610.35,606.87 610.57,609.15 610.80,611.13 611.02,612.86 611.25,614.36 611.47,615.65 611.77,617.10 612.08,618.29 612.45,619.49 612.90,620.61 613.43,621.59 614.11,622.53 615.01,623.42 616.21,624.24 617.79,624.95 619.90,625.53 622.91,625.97 627.42,626.26 631.93,626.41 636.45,626.57 640.96,627.02 645.47,627.65 649.99,628.22 653.97,628.49 658.49,628.47 663.00,628.37 667.51,628.16 671.72,627.76 674.28,627.26 675.94,626.70 677.07,626.06 677.82,625.38 678.34,624.66 678.80,623.77 679.17,622.75 679.47,621.71 679.77,620.40 680.00,619.22 680.22,617.84 680.45,616.26 680.68,614.45 680.90,612.42 681.13,610.15 681.35,607.65 681.58,604.95 681.88,601.08 682.56,591.89 682.78,588.99 682.93,587.20 683.08,585.59 683.23,584.19 683.38,583.05 683.53,582.20 683.61,581.90 683.68,581.68 683.76,581.55 683.84,581.50 683.91,581.54 683.99,581.67 684.06,581.89 684.14,582.19 684.29,583.03 684.44,584.17 684.59,585.56 684.74,587.16 684.96,589.88 685.26,593.85 685.79,600.99 686.09,604.85 686.32,607.54 686.54,610.03 686.77,612.29 686.99,614.31 687.22,616.11 687.45,617.68 687.67,619.05 687.97,620.57 688.27,621.80 688.57,622.77 688.95,623.71 689.40,624.53 690.00,625.27 690.83,625.91 692.03,626.47 693.91,626.96 696.85,627.33 701.36,627.54 705.87,627.60 710.39,627.60 714.90,627.56 719.41,627.48 723.93,627.33 728.44,627.07 732.35,626.63 734.83,626.09 736.34,625.51 737.32,624.91 738.07,624.20 738.67,623.39 739.20,622.41 739.65,621.33 740.10,619.96 740.48,618.57 740.85,616.93 741.23,615.01 741.60,612.81 741.98,610.33 742.36,607.59 742.81,604.03 743.79,595.91 744.16,593.02 744.46,591.00 744.69,589.73 744.91,588.70 745.14,587.98 745.37,587.58 745.59,587.52 745.82,587.80 746.04,588.42 746.27,589.35 746.49,590.54 746.72,591.96 747.02,594.12 747.47,597.73 748.30,604.61 748.75,608.12 749.13,610.81 749.50,613.23 749.88,615.37 750.25,617.23 750.63,618.82 751.01,620.15 751.46,621.47 751.91,622.50 752.44,623.43 753.11,624.28 753.94,624.98 755.07,625.58 756.80,626.12 759.58,626.61 764.02,626.97 768.53,627.13 773.05,627.20 777.56,627.21 782.07,627.22 786.59,627.14 790.27,626.88 792.53,626.47 793.96,625.96 794.94,625.37 795.61,624.72 796.14,623.99 796.59,623.13 796.97,622.20 797.34,621.02 797.72,619.54 798.02,618.11 798.32,616.43 798.62,614.49 798.92,612.28 799.22,609.79 799.52,607.04 799.90,603.28 800.35,598.43 800.95,591.87 801.25,588.85 801.48,586.85 801.71,585.15 801.86,584.23 802.01,583.50 802.16,582.97 802.31,582.67 802.46,582.59 802.61,582.74 802.76,583.10 802.91,583.68 803.06,584.44 803.28,585.91 803.51,587.68 803.81,590.39 804.34,595.58 804.86,600.75 805.24,604.15 805.54,606.62 805.84,608.84 806.14,610.79 806.44,612.48 806.74,613.91 807.05,615.12 807.42,616.33 807.80,617.26 808.25,618.09 808.78,618.76 809.53,619.38 812.54,620.99 814.19,622.18 818.70,626.09 820.51,627.38 822.24,628.32 824.12,629.01 826.45,629.52 829.99,629.90 834.50,630.12 839.01,630.25 843.53,630.34 848.04,630.40 852.55,630.41 857.07,630.34 861.43,630.06 863.76,629.69 865.12,629.25 866.09,628.68 866.85,628.00 867.52,627.12 868.12,626.06 868.65,624.88 869.18,623.42 869.70,621.66 870.23,619.60 870.76,617.26 871.43,613.91 872.64,607.63 873.09,605.47 873.46,603.90 873.77,602.86 874.07,602.06 874.37,601.54 874.67,601.31 874.97,601.39 875.27,601.78 875.57,602.45 875.87,603.38 876.25,604.85 876.70,606.93 877.45,610.82 878.35,615.53 878.96,618.40 879.48,620.64 880.01,622.58 880.54,624.22 881.06,625.57 881.66,626.80 882.27,627.73 883.02,628.57 883.92,629.24 885.12,629.77 887.00,630.21 890.46,630.59 894.98,630.79 899.49,630.78 903.70,630.55 905.73,630.22 906.94,629.79 907.84,629.21 908.59,628.46 909.27,627.52 909.87,626.42 910.47,625.06 911.15,623.24 912.05,620.44 913.03,617.35 913.56,615.94 913.93,615.16 914.31,614.63 914.69,614.41 915.06,614.50 915.44,614.90 915.81,615.58 916.27,616.68 916.94,618.70 918.22,622.73 918.90,624.61 919.50,626.02 920.10,627.16 920.78,628.16 921.53,628.94 922.43,629.55 923.56,629.96 925.22,630.19 927.10,630.14 928.68,629.82 930.03,629.25 931.31,628.41 932.81,627.08 934.84,625.14 935.75,624.51 936.50,624.23 937.25,624.24 938.08,624.57 939.06,625.29 942.07,628.19 943.42,629.19 944.77,629.87 946.35,630.33 948.68,630.62 953.20,630.76 957.71,630.79 962.22,630.80 966.74,630.80 971.25,630.78 975.76,630.75 980.28,630.69 984.79,630.50 987.05,630.17 988.63,629.68 989.98,628.98 991.26,628.04 992.76,626.58 995.10,624.11 996.07,623.33 996.90,622.96 997.65,622.92 998.48,623.19 999.38,623.80 1000.89,625.25 1002.77,627.11 1004.05,628.11 1005.33,628.80 1006.68,629.22 1008.26,629.38 1009.99,629.24 1011.57,628.83 1012.70,628.28 1013.52,627.62 1014.20,626.84 1014.80,625.86 1015.33,624.72 1015.78,623.48 1016.23,621.96 1016.61,620.44 1016.98,618.67 1017.36,616.63 1017.74,614.32 1018.11,611.73 1018.49,608.87 1018.87,605.77 1019.32,601.77 1020.07,594.70 1020.67,589.08 1021.05,585.81 1021.35,583.45 1021.57,581.88 1021.80,580.52 1022.02,579.39 1022.25,578.54 1022.48,577.97 1022.70,577.72 1022.93,577.77 1023.15,578.14 1023.38,578.81 1023.60,579.77 1023.83,580.98 1024.06,582.43 1024.36,584.65 1024.66,587.15 1025.11,591.23 1026.16,601.20 1026.61,605.25 1026.99,608.42 1027.37,611.34 1027.74,614.00 1028.12,616.38 1028.49,618.48 1028.87,620.32 1029.25,621.90 1029.70,623.50 1030.15,624.80 1030.67,626.01 1031.28,627.05 1031.95,627.90 1032.78,628.62 1033.91,629.26 1035.64,629.85 1038.42,630.41 1042.86,630.90 1047.37,631.18 1051.89,631.35 1056.40,631.46 1060.91,631.54 1065.43,631.60 1069.94,631.64 1074.45,631.68 1078.97,631.70 1083.48,631.71 1087.99,631.71 1092.51,631.69 1097.02,631.63 1101.53,631.49 1104.77,631.21 1106.57,630.81 1107.85,630.26 1108.90,629.53 1109.81,628.63 1110.63,627.53 1111.46,626.15 1112.29,624.46 1113.19,622.31 1115.60,615.95 1116.28,614.38 1116.88,613.26 1117.40,612.55 1117.93,612.13 1118.46,612.03 1118.98,612.22 1119.58,612.77 1120.26,613.70 1121.31,615.54 1122.89,618.41 1123.87,619.92 1124.85,621.12 1125.90,622.07 1127.26,622.93 1130.34,624.50 1132.22,625.76 1136.28,628.90 1138.09,630.03 1139.89,630.85 1141.85,631.41 1144.41,631.78 1148.92,631.98 1153.43,632.03 1157.95,632.06 1162.46,632.08 1166.97,632.09 1171.49,632.10 1176.00,632.10 1180.51,632.09 1185.03,632.08 1189.54,632.05 1194.05,632.01 1198.57,631.96 1203.08,631.90 1207.59,631.80 1212.11,631.67 1216.62,631.46 1220.38,631.11 1222.41,630.68 1223.76,630.13 1224.89,629.40 1225.87,628.48 1226.70,627.42 1227.53,626.08 1228.35,624.43 1229.18,622.47 1230.08,620.01 1232.49,612.81 1233.17,611.02 1233.77,609.71 1234.30,608.84 1234.75,608.35 1235.20,608.12 1235.65,608.16 1236.10,608.47 1236.55,609.04 1237.08,609.98 1237.68,611.36 1238.43,613.41 1240.61,619.93 1241.52,622.37 1242.34,624.32 1243.17,625.96 1244.00,627.29 1244.83,628.33 1245.80,629.24 1246.93,629.95 1248.36,630.50 1250.39,630.89 1254.38,631.19 1258.89,631.34 1263.41,631.42 1267.92,631.46 1272.43,631.49 1276.95,631.51 1281.46,631.53 1285.97,631.53 1290.48,631.54 1295.00,631.54 1299.51,631.53 1304.02,631.52 1308.54,631.51 1313.05,631.48 1317.56,631.42 1322.08,631.33 1326.59,631.10 1329.00,630.73 1330.65,630.22 1332.08,629.49 1333.36,628.53 1334.56,627.34 1335.84,625.77 1337.72,623.06 1339.38,620.68 1340.36,619.52 1341.18,618.80 1341.94,618.41 1342.69,618.30 1343.44,618.48 1344.27,618.98 1345.24,619.90 1347.20,622.23 1348.70,623.94 1349.83,624.95 1350.89,625.60 1351.94,625.95 1353.14,626.03 1354.65,625.76 1357.58,624.93 1359.01,624.79 1360.29,624.97 1361.72,625.49 1363.75,626.61 1366.98,628.55 1369.01,629.49 1371.12,630.14 1373.60,630.55 1377.36,630.77 1381.88,630.82 1386.39,630.81 1390.90,630.78 1395.42,630.75 1399.93,630.70 1404.44,630.64 1408.96,630.58 1413.47,630.50 1417.98,630.42 1422.50,630.32 1427.01,630.21 1431.52,630.04 1435.58,629.73 1438.07,629.28 1440.02,628.64 1441.68,627.82 1443.26,626.72 1444.84,625.31 1446.64,623.35 1449.88,619.55 1451.15,618.30 1452.21,617.53 1453.19,617.11 1454.09,617.00 1454.99,617.17 1455.97,617.65 1457.10,618.53 1458.60,620.07 1461.99,623.91 1463.64,625.51 1465.15,626.66 1466.65,627.50 1468.23,628.07 1470.03,628.40 1472.22,628.46 1475.15,628.18 1479.66,627.40 1483.35,626.91 1486.28,626.80 1489.37,627.03 1493.88,627.76 1498.39,628.53 1502.76,628.99 1507.27,629.19 1511.78,629.24 1516.30,629.23 1520.81,629.22 1525.32,629.20 1529.83,629.20 1534.35,629.22 1538.86,629.25 1543.37,629.28 1547.89,629.25 1551.42,629.03 1553.83,628.60 1555.79,627.97 1557.52,627.12 1559.17,625.99 1560.83,624.56 1562.86,622.45 1566.02,618.96 1567.44,617.66 1568.57,616.90 1569.63,616.49 1570.60,616.40 1571.58,616.61 1572.63,617.14 1573.84,618.09 1575.34,619.64 1579.48,624.48 1581.21,626.24 1582.86,627.61 1584.52,628.67 1586.32,629.51 1588.43,630.15 1591.21,630.63 1594.90,630.96" fill="none" stroke="#000" stroke-width="5.15" stroke-linejoin="round" stroke-linecap="butt" shape-rendering="crispEdges"/>
<polyline points="90.5,795.4 90.8,795.0 91.0,795.6 91.3,796.8 91.5,796.3 91.8,796.7 92.0,795.1 92.3,792.3 92.5,794.2 92.8,795.1 93.0,793.1 93.3,792.4 93.5,792.6 93.8,794.0 94.0,792.8 94.3,790.9 94.5,793.4 94.8,792.8 95.0,794.3 95.3,793.8 95.5,794.1 95.8,791.6 96.0,792.1 96.3,790.0 96.5,789.2 96.8,789.6 97.0,793.3 97.3,791.2 97.5,789.3 97.8,788.7 98.0,791.1 98.3,790.2 98.5,790.4 98.8,790.4 99.0,787.4 99.3,789.4 99.6,789.2 99.8,787.4 100.1,789.3 100.3,789.5 100.6,789.0 100.8,789.1 101.1,791.3 101.3,790.1 101.6,787.5 101.8,791.6 102.1,789.5 102.3,789.6 102.6,791.3 102.8,787.7 103.1,788.4 103.3,792.3 103.6,791.5 103.8,790.1 104.1,791.2 104.3,790.3 104.6,791.2 104.8,790.5 105.1,789.0 105.3,792.0 105.6,791.8 105.8,792.4 106.1,791.9 106.3,793.7 106.6,793.5 106.8,792.6 107.1,790.7 107.3,789.7 107.6,793.5 107.8,794.0 108.1,791.4 108.3,794.8 108.6,793.7 108.9,792.2 109.1,789.7 109.4,789.7 109.6,791.5 109.9,791.9 110.1,791.4 110.4,788.0 110.6,790.1 110.9,790.7 111.1,789.3 111.4,789.6 111.6,790.0 111.9,791.8 112.1,790.5 112.4,790.8 112.6,788.6 112.9,788.9 113.1,790.6 113.4,790.1 113.6,791.6 113.9,790.1 114.1,791.2 114.4,790.9 114.6,793.7 114.9,792.1 115.1,794.5 115.4,796.2 115.6,793.6 115.9,793.7 116.1,792.3 116.4,788.5 116.6,792.2 116.9,793.5 117.1,792.1 117.4,791.2 117.7,792.1 117.9,792.5 118.2,791.1 118.4,790.9 118.7,793.4 118.9,792.8 119.2,792.1 119.4,793.7 119.7,792.2 119.9,793.3 120.2,791.0 120.4,791.3 120.7,791.9 120.9,793.0 121.2,792.6 121.4,795.3 121.7,794.9 121.9,792.1 122.2,795.2 122.4,791.9 122.7,794.4 122.9,791.8 123.2,793.0 123.4,791.3 123.7,791.5 123.9,794.4 124.2,791.0 124.4,789.3 124.7,791.5 124.9,792.6 125.2,792.5 125.4,793.7 125.7,790.9 125.9,792.4 126.2,792.5 126.5,793.3 126.7,793.5 127.0,794.4 127.2,790.8 127.5,791.7 127.7,790.7 128.0,791.6 128.2,793.1 128.5,792.9 128.7,793.1 129.0,792.4 129.2,792.7 129.5,792.7 129.7,794.3 130.0,794.0 130.2,790.0 130.5,792.3 130.7,794.0 131.0,792.1 131.2,789.8 131.5,793.6 131.7,793.1 132.0,793.1 132.2,795.0 132.5,791.9 132.7,791.8 133.0,792.0 133.2,793.2 133.5,791.8 133.7,792.7 134.0,792.6 134.2,793.8 134.5,794.4 134.7,790.7 135.0,792.2 135.3,791.9 135.5,792.0 135.8,792.8 136.0,793.1 136.3,791.4 136.5,792.2 136.8,792.5 137.0,792.1 137.3,790.4 137.5,790.5 137.8,791.2 138.0,792.7 138.3,794.4 138.5,791.4 138.8,790.3 139.0,791.9 139.3,791.4 139.5,790.7 139.8,790.6 140.0,790.4 140.3,792.3 140.5,790.2 140.8,793.2 141.0,791.5 141.3,791.0 141.5,790.7 141.8,789.1 142.0,789.2 142.3,793.1 142.5,795.1 142.8,791.8 143.0,793.3 143.3,792.7 143.5,791.1 143.8,794.2 144.0,796.0 144.3,792.9 144.6,792.1 144.8,792.7 145.1,792.4 145.3,793.6 145.6,794.9 145.8,793.4 146.1,793.9 146.3,795.2 146.6,792.6 146.8,792.4 147.1,792.1 147.3,793.8 147.6,794.1 147.8,794.4 148.1,794.5 148.3,793.0 148.6,793.9 148.8,792.8 149.1,792.3 149.3,790.1 149.6,794.1 149.8,792.6 150.1,792.9 150.3,793.4 150.6,795.4 150.8,794.7 151.1,792.7 151.3,793.4 151.6,793.6 151.8,794.1 152.1,792.4 152.3,793.4 152.6,797.0 152.8,796.0 153.1,797.1 153.4,799.5 153.6,796.5 153.9,792.8 154.1,793.8 154.4,796.1 154.6,796.4 154.9,793.6 155.1,794.1 155.4,794.7 155.6,795.0 155.9,795.0 156.1,794.0 156.4,794.1 156.6,794.7 156.9,796.6 157.1,795.1 157.4,796.1 157.6,794.3 157.9,796.7 158.1,796.2 158.4,795.6 158.6,797.3 158.9,793.9 159.1,792.9 159.4,795.6 159.6,794.8 159.9,794.8 160.1,798.9 160.4,796.4 160.6,795.5 160.9,795.5 161.1,796.9 161.4,796.3 161.6,795.8 161.9,793.9 162.2,794.4 162.4,795.2 162.7,793.3 162.9,795.2 163.2,795.9 163.4,797.6 163.7,793.7 163.9,793.0 164.2,793.3 164.4,793.5 164.7,794.3 164.9,794.3 165.2,794.8 165.4,794.8 165.7,794.4 165.9,792.3 166.2,792.9 166.4,794.0 166.7,794.8 166.9,795.0 167.2,792.2 167.4,792.5 167.7,793.5 167.9,794.1 168.2,795.2 168.4,794.2 168.7,792.5 168.9,793.7 169.2,794.0 169.4,793.9 169.7,793.4 169.9,795.4 170.2,794.5 170.4,794.7 170.7,792.8 170.9,794.2 171.2,793.2 171.5,791.6 171.7,793.5 172.0,794.7 172.2,794.0 172.5,794.0 172.7,795.4 173.0,794.1 173.2,791.7 173.5,793.9 173.7,794.9 174.0,796.0 174.2,794.8 174.5,796.2 174.7,796.7 175.0,793.8 175.2,795.5 175.5,794.0 175.7,792.6 176.0,793.9 176.2,794.0 176.5,792.1 176.7,794.0 177.0,795.2 177.2,796.1 177.5,794.4 177.7,791.8 178.0,791.6 178.2,793.8 178.5,794.0 178.7,793.2 179.0,791.6 179.2,791.4 179.5,790.6 179.7,789.9 180.0,790.0 180.3,789.3 180.5,788.4 180.8,788.0 181.0,786.8 181.3,784.3 181.5,784.7 181.8,785.2 182.0,786.9 182.3,784.5 182.5,785.9 182.8,785.6 183.0,782.2 183.3,781.0 183.5,781.6 183.8,783.4 184.0,782.1 184.3,781.7 184.5,780.0 184.8,777.4 185.0,779.1 185.3,781.0 185.5,781.9 185.8,780.9 186.0,780.7 186.3,782.1 186.5,781.3 186.8,782.6 187.0,780.9 187.3,780.5 187.5,781.0 187.8,783.3 188.0,783.3 188.3,784.3 188.5,785.4 188.8,786.1 189.1,787.8 189.3,789.0 189.6,787.2 189.8,788.1 190.1,788.6 190.3,788.2 190.6,791.7 190.8,792.2 191.1,791.4 191.3,791.4 191.6,792.7 191.8,791.9 192.1,792.8 192.3,795.2 192.6,795.9 192.8,794.3 193.1,794.4 193.3,797.5 193.6,795.1 193.8,794.9 194.1,794.6 194.3,796.5 194.6,797.2 194.8,798.2 195.1,794.4 195.3,796.1 195.6,795.2 195.8,797.0 196.1,796.8 196.3,798.4 196.6,797.5 196.8,795.4 197.1,797.2 197.3,795.2 197.6,795.0 197.8,796.5 198.1,796.2 198.4,795.7 198.6,795.0 198.9,795.2 199.1,795.4 199.4,794.7 199.6,795.1 199.9,795.5 200.1,794.0 200.4,792.4 200.6,794.5 200.9,793.6 201.1,793.6 201.4,794.1 201.6,792.1 201.9,792.9 202.1,791.1 202.4,792.8 202.6,792.3 202.9,792.5 203.1,793.2 203.4,791.9 203.6,792.2 203.9,791.6 204.1,792.0 204.4,793.3 204.6,792.6 204.9,792.1 205.1,791.1 205.4,792.7 205.6,792.4 205.9,793.9 206.1,792.0 206.4,792.9 206.6,794.3 206.9,792.7 207.2,790.8 207.4,793.2 207.7,793.6 207.9,793.0 208.2,793.3 208.4,791.8 208.7,792.5 208.9,792.7 209.2,791.3 209.4,792.1 209.7,791.3 209.9,792.2 210.2,792.9 210.4,793.5 210.7,789.7 210.9,790.6 211.2,790.6 211.4,790.5 211.7,790.2 211.9,790.0 212.2,787.9 212.4,790.0 212.7,791.3 212.9,790.7 213.2,790.5 213.4,788.2 213.7,787.2 213.9,788.8 214.2,789.7 214.4,788.7 214.7,786.4 214.9,790.4 215.2,788.4 215.4,789.2 215.7,787.8 216.0,789.9 216.2,790.3 216.5,792.1 216.7,792.8 217.0,790.7 217.2,791.4 217.5,794.1 217.7,796.2 218.0,798.8 218.2,798.5 218.5,798.4 218.7,799.4 219.0,800.6 219.2,803.6 219.5,804.8 219.7,808.1 220.0,812.3 220.2,819.7 220.5,834.3 220.7,845.2 221.0,845.1 221.2,839.9 221.5,830.6 221.7,818.4 222.0,812.9 222.2,804.8 222.5,802.8 222.7,801.2 223.0,800.9 223.2,801.2 223.5,800.9 223.7,799.0 224.0,798.2 224.2,796.4 224.5,795.7 224.8,796.8 225.0,794.9 225.3,795.4 225.5,794.6 225.8,793.4 226.0,794.9 226.3,792.8 226.5,791.6 226.8,791.6 227.0,791.8 227.3,791.6 227.5,792.0 227.8,791.4 228.0,791.3 228.3,790.6 228.5,791.6 228.8,790.5 229.0,790.1 229.3,790.3 229.5,790.7 229.8,789.7 230.0,791.6 230.3,790.2 230.5,789.7 230.8,789.8 231.0,789.7 231.3,790.7 231.5,790.6 231.8,789.7 232.0,789.7 232.3,790.0 232.5,791.8 232.8,790.4 233.0,789.2 233.3,789.3 233.5,790.1 233.8,792.2 234.1,790.4 234.3,790.7 234.6,793.4 234.8,791.5 235.1,792.4 235.3,792.9 235.6,792.3 235.8,790.3 236.1,791.4 236.3,791.3 236.6,789.8 236.8,789.5 237.1,791.2 237.3,792.0 237.6,793.1 237.8,792.9 238.1,791.6 238.3,791.3 238.6,791.7 238.8,790.9 239.1,792.4 239.3,792.3 239.6,791.3 239.8,791.2 240.1,790.7 240.3,791.3 240.6,792.2 240.8,791.8 241.1,793.0 241.3,794.1 241.6,792.0 241.8,791.9 242.1,791.8 242.3,793.8 242.6,793.1 242.9,792.9 243.1,793.3 243.4,795.1 243.6,793.4 243.9,791.1 244.1,791.3 244.4,792.7 244.6,792.4 244.9,791.1 245.1,795.6 245.4,793.6 245.6,791.4 245.9,790.8 246.1,788.9 246.4,789.2 246.6,790.8 246.9,791.3 247.1,790.2 247.4,773.3 247.6,807.3 247.9,772.4 248.1,805.2 248.4,826.1 248.6,807.2 248.9,772.9 249.1,805.7 249.4,772.7 249.6,805.7 249.9,773.5 250.1,807.5 250.4,773.3 250.6,792.2 250.9,791.5 251.1,797.3 251.4,798.3 251.7,796.2 251.9,798.0 252.2,800.7 252.4,798.0 252.7,798.6 252.9,799.9 253.2,802.3 253.4,801.7 253.7,803.7 253.9,803.4 254.2,806.1 254.4,807.4 254.7,806.6 254.9,807.5 255.2,806.4 255.4,806.3 255.7,807.4 255.9,806.3 256.2,805.7 256.4,803.6 256.7,803.8 256.9,803.0 257.2,800.1 257.4,797.2 257.7,795.8 257.9,796.5 258.2,795.6 258.4,792.9 258.7,792.8 258.9,792.8 259.2,790.7 259.4,788.8 259.7,788.7 259.9,788.7 260.2,787.5 260.4,784.3 260.7,783.9 261.0,782.7 261.2,781.1 261.5,779.6 261.7,779.4 262.0,778.1 262.2,778.3 262.5,777.6 262.7,777.4 263.0,775.1 263.2,775.2 263.5,775.9 263.7,775.7 264.0,775.4 264.2,774.7 264.5,776.8 264.7,777.3 265.0,777.0 265.2,774.8 265.5,776.0 265.7,778.1 266.0,778.5 266.2,777.8 266.5,780.2 266.7,781.8 267.0,781.2 267.2,782.1 267.5,782.8 267.7,784.4 268.0,783.0 268.2,782.9 268.5,784.3 268.7,784.8 269.0,787.4 269.2,785.9 269.5,785.9 269.8,785.6 270.0,785.1 270.3,785.9 270.5,787.3 270.8,785.8 271.0,786.2 271.3,786.2 271.5,786.4 271.8,786.3 272.0,788.2 272.3,785.9 272.5,786.0 272.8,785.9 273.0,785.2 273.3,787.2 273.5,789.8 273.8,790.0 274.0,790.5 274.3,790.5 274.5,790.2 274.8,792.4 275.0,791.4 275.3,792.7 275.5,792.1 275.8,792.3 276.0,792.9 276.3,793.1 276.5,793.7 276.8,794.1 277.0,795.3 277.3,794.4 277.5,792.5 277.8,792.1 278.0,792.8 278.3,793.6 278.6,795.1 278.8,793.8 279.1,794.6 279.3,795.1 279.6,795.3 279.8,795.1 280.1,795.4 280.3,795.3 280.6,796.0 280.8,795.6 281.1,793.1 281.3,794.3 281.6,795.0 281.8,794.3 282.1,793.8 282.3,795.2 282.6,794.8 282.8,793.4 283.1,793.5 283.3,793.7 283.6,792.4 283.8,793.7 284.1,793.6 284.3,793.7 284.6,792.1 284.8,794.3 285.1,794.1 285.3,793.5 285.6,792.4 285.8,792.0 286.1,791.3 286.3,793.5 286.6,792.3 286.8,792.4 287.1,793.0 287.3,792.1 287.6,792.9 287.9,794.2 288.1,793.1 288.4,793.5 288.6,793.1 288.9,792.0 289.1,791.8 289.4,790.7 289.6,791.9 289.9,793.4 290.1,793.2 290.4,793.1 290.6,793.4 290.9,792.1 291.1,792.5 291.4,793.9 291.6,792.1 291.9,792.0 292.1,791.8 292.4,791.9 292.6,791.6 292.9,791.9 293.1,791.1 293.4,791.4 293.6,791.7 293.9,791.7 294.1,793.2 294.4,792.6 294.6,792.4 294.9,792.0 295.1,793.1 295.4,791.1 295.6,791.6 295.9,793.0 296.1,793.8 296.4,792.8 296.7,792.2 296.9,792.7 297.2,792.2 297.4,792.6 297.7,791.8 297.9,792.5 298.2,792.3 298.4,791.3 298.7,789.8 298.9,792.2 299.2,792.7 299.4,792.9 299.7,791.7 299.9,792.8 300.2,792.8 300.4,792.3 300.7,792.9 300.9,793.1 301.2,792.7 301.4,793.9 301.7,793.8 301.9,792.8 302.2,792.1 302.4,792.2 302.7,793.5 302.9,792.9 303.2,791.6 303.4,791.5 303.7,792.0 303.9,792.8 304.2,791.8 304.4,792.4 304.7,793.2 304.9,793.0 305.2,791.2 305.5,791.6 305.7,791.1 306.0,792.2 306.2,791.5 306.5,792.3 306.7,792.4 307.0,790.2 307.2,790.9 307.5,792.3 307.7,792.3 308.0,791.9 308.2,791.1 308.5,792.2 308.7,793.6 309.0,792.8 309.2,792.2 309.5,792.0 309.7,791.1 310.0,791.5 310.2,791.4 310.5,792.7 310.7,791.7 311.0,790.3 311.2,791.0 311.5,791.7 311.7,791.9 312.0,790.7 312.2,792.4 312.5,792.4 312.7,791.8 313.0,791.4 313.2,792.2 313.5,792.0 313.7,792.2 314.0,792.1 314.3,792.2 314.5,793.0 314.8,792.4 315.0,791.4 315.3,792.6 315.5,792.5 315.8,791.7 316.0,792.7 316.3,792.2 316.5,792.9 316.8,791.5 317.0,790.1 317.3,790.0 317.5,791.8 317.8,791.6 318.0,791.8 318.3,792.0 318.5,790.9 318.8,792.7 319.0,791.6 319.3,791.9 319.5,791.0 319.8,791.6 320.0,792.6 320.3,792.1 320.5,791.4 320.8,791.9 321.0,791.7 321.3,792.4 321.5,793.9 321.8,791.9 322.0,791.3 322.3,791.8 322.5,792.0 322.8,791.3 323.0,792.2 323.3,792.8 323.6,792.4 323.8,791.2 324.1,792.9 324.3,791.6 324.6,792.3 324.8,793.1 325.1,791.4 325.3,791.9 325.6,793.1 325.8,792.7 326.1,791.5 326.3,791.0 326.6,792.1 326.8,791.9 327.1,791.5 327.3,792.4 327.6,792.0 327.8,792.0 328.1,792.5 328.3,792.6 328.6,792.2 328.8,792.1 329.1,792.5 329.3,792.5 329.6,791.4 329.8,791.7 330.1,791.4 330.3,791.0 330.6,791.4 330.8,790.3 331.1,792.1 331.3,791.7 331.6,792.1 331.8,790.8 332.1,790.4 332.4,793.1 332.6,793.3 332.9,791.9 333.1,791.4 333.4,791.4 333.6,792.0 333.9,791.8 334.1,791.5 334.4,792.0 334.6,791.4 334.9,793.5 335.1,792.2 335.4,792.7 335.6,791.7 335.9,792.0 336.1,792.8 336.4,792.0 336.6,792.7 336.9,793.0 337.1,793.4 337.4,792.5 337.6,791.8 337.9,791.3 338.1,792.0 338.4,791.4 338.6,791.8 338.9,792.2 339.1,791.7 339.4,791.2 339.6,792.1 339.9,792.4 340.1,792.3 340.4,792.1 340.6,792.7 340.9,791.6 341.2,792.1 341.4,791.9 341.7,792.6 341.9,792.0 342.2,791.7 342.4,792.3 342.7,790.8 342.9,791.4 343.2,790.8 343.4,791.0 343.7,792.3 343.9,792.5 344.2,791.9 344.4,792.0 344.7,792.1 344.9,792.3 345.2,793.4 345.4,792.7 345.7,793.7 345.9,792.4 346.2,792.5 346.4,792.8 346.7,792.4 346.9,792.0 347.2,793.0 347.4,793.7 347.7,793.3 347.9,793.8 348.2,793.3 348.4,791.2 348.7,792.5 348.9,791.9 349.2,792.9 349.4,792.2 349.7,792.3 349.9,792.2 350.2,791.7 350.5,790.7 350.7,791.5 351.0,792.0 351.2,792.8 351.5,791.9 351.7,792.0 352.0,791.2 352.2,791.3 352.5,789.5 352.7,791.3 353.0,790.1 353.2,787.5 353.5,787.5 353.7,788.1 354.0,788.0 354.2,789.8 354.5,789.8 354.7,787.8 355.0,790.1 355.2,795.5 355.5,798.1 355.7,798.8 356.0,797.6 356.2,799.7 356.5,799.8 356.7,796.6 357.0,794.7 357.2,794.9 357.5,795.0 357.7,794.9 358.0,793.7 358.2,794.5 358.5,792.2 358.7,792.4 359.0,791.9 359.3,790.5 359.5,790.7 359.8,792.7 360.0,791.7 360.3,791.0 360.5,792.4 360.8,793.0 361.0,792.4 361.3,793.3 361.5,791.4 361.8,793.4 362.0,793.4 362.3,792.5 362.5,792.3 362.8,792.0 363.0,791.9 363.3,792.2 363.5,791.4 363.8,793.3 364.0,792.6 364.3,792.6 364.5,792.2 364.8,791.9 365.0,792.7 365.3,792.7 365.5,791.7 365.8,791.7 366.0,792.5 366.3,790.9 366.5,790.1 366.8,792.6 367.0,792.2 367.3,790.4 367.5,791.0 367.8,791.8 368.1,792.2 368.3,792.5 368.6,792.4 368.8,792.5 369.1,791.7 369.3,792.2 369.6,792.5 369.8,793.0 370.1,792.4 370.3,792.7 370.6,792.4 370.8,791.5 371.1,791.6 371.3,791.7 371.6,791.8 371.8,792.0 372.1,792.2 372.3,792.3 372.6,791.7 372.8,792.6 373.1,791.5 373.3,791.8 373.6,792.6 373.8,792.6 374.1,792.6 374.3,792.1 374.6,792.5 374.8,791.5 375.1,792.4 375.3,793.7 375.6,793.1 375.8,793.6 376.1,792.6 376.3,791.4 376.6,791.5 376.9,792.8 377.1,792.9 377.4,791.1 377.6,791.5 377.9,792.0 378.1,791.4 378.4,790.3 378.6,790.7 378.9,791.7 379.1,791.9 379.4,791.6 379.6,792.4 379.9,792.9 380.1,792.3 380.4,792.7 380.6,792.4 380.9,792.1 381.1,790.6 381.4,792.2 381.6,792.4 381.9,792.3 382.1,791.9 382.4,791.4 382.6,792.3 382.9,792.8 383.1,793.4 383.4,793.1 383.6,792.1 383.9,792.1 384.1,792.9 384.4,792.7 384.6,792.3 384.9,792.0 385.1,792.6 385.4,792.6 385.6,793.6 385.9,793.5 386.2,791.6 386.4,793.5 386.7,793.2 386.9,792.5 387.2,792.8 387.4,793.2 387.7,792.9 387.9,792.7 388.2,792.8 388.4,794.0 388.7,793.3 388.9,793.5 389.2,793.5 389.4,793.0 389.7,792.6 389.9,792.4 390.2,793.3 390.4,792.7 390.7,792.3 390.9,792.4 391.2,792.3 391.4,793.3 391.7,793.7 391.9,793.1 392.2,794.3 392.4,793.8 392.7,794.0 392.9,794.1 393.2,795.0 393.4,794.8 393.7,794.1 393.9,793.4 394.2,793.2 394.4,793.9 394.7,794.2 395.0,794.6 395.2,794.0 395.5,794.2 395.7,793.8 396.0,792.8 396.2,793.7 396.5,795.1 396.7,795.0 397.0,795.2 397.2,795.1 397.5,793.4 397.7,793.5 398.0,794.9 398.2,793.8 398.5,792.9 398.7,793.8 399.0,794.3 399.2,794.1 399.5,793.5 399.7,793.1 400.0,792.6 400.2,792.4 400.5,792.3 400.7,792.1 401.0,792.5 401.2,794.1 401.5,793.5 401.7,792.7 402.0,792.9 402.2,791.9 402.5,792.1 402.7,792.2 403.0,789.6 403.2,788.3 403.5,787.2 403.8,784.5 404.0,781.5 404.3,779.1 404.5,779.1 404.8,775.3 405.0,772.0 405.3,770.8 405.5,768.7 405.8,766.9 406.0,770.0 406.3,773.8 406.5,771.5 406.8,776.3 407.0,781.3 407.3,781.5 407.5,782.1 407.8,784.9 408.0,784.1 408.3,785.6 408.5,786.7 408.8,785.6 409.0,784.4 409.3,785.4 409.5,784.7 409.8,784.6 410.0,782.0 410.3,784.1 410.5,783.2 410.8,783.8 411.0,784.2 411.3,783.6 411.5,783.3 411.8,783.1 412.0,783.9 412.3,785.1 412.5,785.5 412.8,785.0 413.1,784.9 413.3,784.6 413.6,785.5 413.8,785.6 414.1,785.4 414.3,786.7 414.6,788.6 414.8,789.1 415.1,789.5 415.3,787.6 415.6,788.9 415.8,788.2 416.1,788.4 416.3,787.9 416.6,788.4 416.8,789.5 417.1,790.0 417.3,789.9 417.6,789.8 417.8,790.4 418.1,790.2 418.3,789.0 418.6,791.0 418.8,790.4 419.1,790.8 419.3,790.2 419.6,789.5 419.8,790.0 420.1,789.6 420.3,791.1 420.6,789.7 420.8,790.3 421.1,789.8 421.3,789.9 421.6,792.1 421.9,791.4 422.1,790.4 422.4,789.2 422.6,789.9 422.9,790.4 423.1,791.7 423.4,790.2 423.6,789.4 423.9,790.8 424.1,791.6 424.4,792.9 424.6,791.7 424.9,790.1 425.1,791.4 425.4,791.8 425.6,792.5 425.9,794.1 426.1,793.2 426.4,794.8 426.6,795.1 426.9,794.9 427.1,794.7 427.4,795.3 427.6,795.9 427.9,797.1 428.1,798.1 428.4,797.6 428.6,798.2 428.9,799.1 429.1,799.5 429.4,799.1 429.6,800.1 429.9,800.2 430.1,800.4 430.4,799.2 430.7,798.6 430.9,797.4 431.2,799.4 431.4,799.6 431.7,798.1 431.9,798.3 432.2,798.4 432.4,796.9 432.7,797.5 432.9,798.2 433.2,798.1 433.4,796.8 433.7,796.1 433.9,796.8 434.2,796.6 434.4,795.2 434.7,794.6 434.9,795.1 435.2,794.2 435.4,793.7 435.7,795.0 435.9,794.3 436.2,793.3 436.4,793.6 436.7,794.7 436.9,793.7 437.2,792.4 437.4,791.6 437.7,793.7 437.9,791.3 438.2,792.7 438.4,792.0 438.7,791.3 438.9,791.4 439.2,791.9 439.4,793.0 439.7,792.0 440.0,792.5 440.2,794.1 440.5,790.8 440.7,791.0 441.0,790.7 441.2,792.3 441.5,791.3 441.7,790.6 442.0,790.6 442.2,791.7 442.5,793.0 442.7,792.6 443.0,793.9 443.2,794.1 443.5,792.4 443.7,792.8 444.0,792.1 444.2,791.3 444.5,788.2 444.7,786.7 445.0,786.8 445.2,784.0 445.5,784.5 445.7,784.1 446.0,782.1 446.2,786.0 446.5,787.7 446.7,791.7 447.0,793.0 447.2,793.0 447.5,799.3 447.7,801.2 448.0,803.0 448.2,802.6 448.5,800.1 448.8,792.7 449.0,786.9 449.3,785.9 449.5,785.5 449.8,782.5 450.0,782.3 450.3,781.8 450.5,783.2 450.8,785.3 451.0,787.0 451.3,789.6 451.5,791.0 451.8,792.7 452.0,792.5 452.3,793.1 452.5,792.5 452.8,792.8 453.0,792.3 453.3,791.8 453.5,793.0 453.8,793.0 454.0,792.9 454.3,791.8 454.5,790.8 454.8,791.1 455.0,792.1 455.3,791.2 455.5,792.8 455.8,791.4 456.0,792.2 456.3,794.1 456.5,791.0 456.8,790.5 457.0,792.4 457.3,792.2 457.6,792.2 457.8,792.1 458.1,793.0 458.3,792.9 458.6,791.9 458.8,791.9 459.1,791.3 459.3,791.8 459.6,790.6 459.8,792.1 460.1,792.1 460.3,793.3 460.6,793.3 460.8,791.5 461.1,792.4 461.3,792.0 461.6,792.0 461.8,792.8 462.1,792.5 462.3,792.5 462.6,792.5 462.8,791.7 463.1,791.5 463.3,792.3 463.6,792.8 463.8,792.1 464.1,792.1 464.3,791.5 464.6,790.2 464.8,791.0 465.1,791.9 465.3,792.2 465.6,792.7 465.8,792.8 466.1,792.9 466.4,792.6 466.6,792.4 466.9,791.7 467.1,792.2 467.4,792.3 467.6,792.9 467.9,791.3 468.1,791.4 468.4,790.9 468.6,791.2 468.9,791.0 469.1,791.9 469.4,791.7 469.6,790.3 469.9,792.3 470.1,791.6 470.4,790.8 470.6,791.5 470.9,791.5 471.1,791.2 471.4,792.3 471.6,792.0 471.9,792.6 472.1,792.7 472.4,792.6 472.6,792.3 472.9,792.0 473.1,791.8 473.4,792.9 473.6,791.2 473.9,791.0 474.1,791.4 474.4,792.2 474.6,792.2 474.9,791.8 475.1,791.7 475.4,793.1 475.7,792.0 475.9,790.1 476.2,792.7 476.4,791.9 476.7,791.7 476.9,792.1 477.2,791.3 477.4,792.6 477.7,792.2 477.9,791.1 478.2,791.9 478.4,792.4 478.7,792.1 478.9,792.4 479.2,791.2 479.4,792.3 479.7,791.7 479.9,792.7 480.2,791.9 480.4,792.0 480.7,793.7 480.9,792.6 481.2,792.8 481.4,792.6 481.7,791.2 481.9,792.5 482.2,793.0 482.4,791.4 482.7,791.7 482.9,791.1 483.2,791.6 483.4,792.6 483.7,792.3 483.9,791.3 484.2,791.3 484.5,791.9 484.7,792.1 485.0,792.2 485.2,792.5 485.5,791.0 485.7,791.7 486.0,792.8 486.2,792.6 486.5,791.7 486.7,791.5 487.0,792.1 487.2,792.5 487.5,792.2 487.7,793.1 488.0,793.3 488.2,791.9 488.5,792.2 488.7,792.0 489.0,791.3 489.2,791.4 489.5,792.0 489.7,790.8 490.0,791.2 490.2,792.2 490.5,791.7 490.7,791.7 491.0,792.5 491.2,792.2 491.5,792.2 491.7,793.4 492.0,792.6 492.2,792.3 492.5,792.4 492.7,793.2 493.0,792.7 493.3,792.2 493.5,792.0 493.8,792.8 494.0,791.9 494.3,792.7 494.5,792.5 494.8,791.3 495.0,792.3 495.3,792.6 495.5,791.5 495.8,792.1 496.0,792.4 496.3,792.0 496.5,791.4 496.8,793.2 497.0,793.1 497.3,792.9 497.5,793.0 497.8,792.8 498.0,792.8 498.3,792.1 498.5,792.6 498.8,792.2 499.0,791.8 499.3,792.5 499.5,792.2 499.8,791.1 500.0,791.6 500.3,792.4 500.5,792.3 500.8,792.7 501.0,792.1 501.3,791.5 501.5,792.4 501.8,792.4 502.0,791.5 502.3,792.2 502.6,792.1 502.8,792.7 503.1,792.8 503.3,792.6 503.6,790.9 503.8,791.9 504.1,792.5 504.3,792.5 504.6,792.3 504.8,791.7 505.1,791.9 505.3,790.8 505.6,791.6 505.8,791.2 506.1,791.7 506.3,791.7 506.6,792.8 506.8,792.5 507.1,792.2 507.3,792.3 507.6,793.4 507.8,792.0 508.1,792.2 508.3,792.4 508.6,792.3 508.8,792.3 509.1,791.9 509.3,792.8 509.6,792.9 509.8,792.1 510.1,792.0 510.3,792.3 510.6,792.5 510.8,792.7 511.1,792.3 511.4,791.4 511.6,792.5 511.9,791.4 512.1,791.3 512.4,792.2 512.6,791.7 512.9,792.8 513.1,793.4 513.4,793.2 513.6,792.6 513.9,792.4 514.1,792.5 514.4,792.1 514.6,793.3 514.9,792.2 515.1,792.8 515.4,792.8 515.6,792.5 515.9,792.9 516.1,793.1 516.4,793.0 516.6,792.3 516.9,791.8 517.1,791.7 517.4,792.6 517.6,792.8 517.9,792.8 518.1,792.0 518.4,793.2 518.6,791.8 518.9,792.1 519.1,792.6 519.4,792.1 519.6,791.4 519.9,791.7 520.2,791.4 520.4,791.8 520.7,791.4 520.9,791.1 521.2,791.9 521.4,791.3 521.7,791.7 521.9,792.0 522.2,792.6 522.4,792.4 522.7,791.7 522.9,792.7 523.2,791.9 523.4,791.7 523.7,791.8 523.9,793.2 524.2,792.4 524.4,791.5 524.7,792.1 524.9,791.8 525.2,793.1 525.4,791.6 525.7,791.7 525.9,790.8 526.2,792.1 526.4,790.8 526.7,790.6 526.9,789.9 527.2,790.6 527.4,790.5 527.7,788.0 527.9,789.3 528.2,789.7 528.4,789.0 528.7,789.1 528.9,787.2 529.2,785.8 529.5,787.5 529.7,788.8 530.0,786.4 530.2,785.5 530.5,785.7 530.7,785.4 531.0,787.0 531.2,787.0 531.5,787.9 531.7,788.3 532.0,786.7 532.2,787.6 532.5,786.2 532.7,787.3 533.0,788.6 533.2,788.2 533.5,787.6 533.7,788.5 534.0,790.2 534.2,789.8 534.5,789.2 534.7,790.4 535.0,791.2 535.2,790.4 535.5,790.8 535.7,791.8 536.0,791.8 536.2,792.0 536.5,791.6 536.7,791.6 537.0,791.1 537.2,791.2 537.5,792.7 537.7,792.0 538.0,791.4 538.3,791.6 538.5,791.4 538.8,792.2 539.0,792.7 539.3,791.7 539.5,792.5 539.8,793.5 540.0,791.9 540.3,792.3 540.5,792.4 540.8,793.0 541.0,793.1 541.3,793.0 541.5,792.5 541.8,792.0 542.0,793.4 542.3,792.1 542.5,792.6 542.8,793.0 543.0,791.9 543.3,792.0 543.5,793.0 543.8,791.3 544.0,792.2 544.3,792.1 544.5,791.9 544.8,791.2 545.0,792.1 545.3,791.6 545.5,792.3 545.8,791.6 546.0,792.3 546.3,792.5 546.5,791.0 546.8,791.5 547.1,792.0 547.3,790.6 547.6,791.4 547.8,792.6 548.1,791.8 548.3,792.7 548.6,791.6 548.8,791.0 549.1,792.2 549.3,792.7 549.6,792.1 549.8,792.0 550.1,792.7 550.3,791.5 550.6,792.9 550.8,791.7 551.1,790.4 551.3,789.0 551.6,786.6 551.8,786.0 552.1,782.2 552.3,780.1 552.6,779.0 552.8,779.0 553.1,778.7 553.3,776.6 553.6,779.4 553.8,780.5 554.1,780.5 554.3,782.6 554.6,784.2 554.8,790.1 555.1,795.3 555.3,793.9 555.6,795.9 555.9,796.6 556.1,799.5 556.4,799.0 556.6,799.3 556.9,799.5 557.1,799.2 557.4,798.3 557.6,797.3 557.9,796.1 558.1,794.3 558.4,794.6 558.6,792.4 558.9,793.0 559.1,792.4 559.4,792.8 559.6,793.2 559.9,791.6 560.1,792.8 560.4,794.1 560.6,794.1 560.9,793.8 561.1,792.1 561.4,793.0 561.6,793.1 561.9,794.3 562.1,793.9 562.4,793.6 562.6,792.9 562.9,794.4 563.1,794.2 563.4,794.2 563.6,795.2 563.9,794.9 564.1,795.0 564.4,796.3 564.6,795.1 564.9,794.6 565.2,795.2 565.4,795.9 565.7,794.5 565.9,794.7 566.2,794.5 566.4,794.1 566.7,795.1 566.9,794.6 567.2,794.9 567.4,795.0 567.7,794.9 567.9,794.7 568.2,794.0 568.4,794.2 568.7,794.5 568.9,794.5 569.2,794.0 569.4,794.5 569.7,794.4 569.9,793.9 570.2,794.0 570.4,793.8 570.7,793.8 570.9,792.3 571.2,792.1 571.4,792.6 571.7,793.0 571.9,791.7 572.2,792.3 572.4,792.8 572.7,792.6 572.9,792.4 573.2,791.7 573.4,792.3 573.7,791.3 574.0,792.5 574.2,792.2 574.5,792.8 574.7,791.5 575.0,792.1 575.2,792.4 575.5,791.7 575.7,791.3 576.0,792.6 576.2,792.6 576.5,793.0 576.7,792.3 577.0,792.2 577.2,792.4 577.5,792.6 577.7,792.5 578.0,792.6 578.2,792.0 578.5,791.1 578.7,793.0 579.0,792.6 579.2,792.4 579.5,791.9 579.7,792.6 580.0,792.4 580.2,792.8 580.5,791.9 580.7,791.9 581.0,792.2 581.2,791.9 581.5,792.2 581.7,793.1 582.0,792.1 582.2,791.8 582.5,792.1 582.8,791.5 583.0,791.1 583.3,792.5 583.5,792.8 583.8,791.3 584.0,790.9 584.3,792.3 584.5,793.0 584.8,792.8 585.0,792.6 585.3,793.2 585.5,792.4 585.8,792.9 586.0,793.2 586.3,791.8 586.5,792.4 586.8,792.3 587.0,791.7 587.3,791.4 587.5,792.1 587.8,792.1 588.0,792.6 588.3,791.1 588.5,791.3 588.8,792.7 589.0,792.3 589.3,791.6 589.5,791.6 589.8,790.8 590.0,790.8 590.3,792.1 590.5,792.3 590.8,793.0 591.0,792.2 591.3,791.9 591.5,790.2 591.8,791.4 592.1,793.5 592.3,793.0 592.6,792.1 592.8,792.9 593.1,792.9 593.3,792.4 593.6,791.8 593.8,792.0 594.1,792.6 594.3,791.6 594.6,792.0 594.8,792.3 595.1,792.8 595.3,792.5 595.6,791.3 595.8,792.5 596.1,791.9 596.3,790.8 596.6,791.3 596.8,791.0 597.1,791.6 597.3,790.1 597.6,789.5 597.8,789.9 598.1,791.3 598.3,791.1 598.6,789.2 598.8,787.9 599.1,788.4 599.3,787.7 599.6,788.6 599.8,788.4 600.1,787.7 600.3,787.0 600.6,788.1 600.9,786.2 601.1,784.6 601.4,786.4 601.6,787.1 601.9,785.1 602.1,785.2 602.4,787.1 602.6,783.9 602.9,783.0 603.1,783.8 603.4,780.4 603.6,781.6 603.9,783.6 604.1,782.6 604.4,783.8 604.6,783.9 604.9,781.9 605.1,782.8 605.4,783.2 605.6,779.8 605.9,780.1 606.1,780.8 606.4,781.5 606.6,782.0 606.9,780.9 607.1,783.0 607.4,781.3 607.6,784.8 607.9,785.5 608.1,787.0 608.4,786.5 608.6,785.5 608.9,784.6 609.1,787.1 609.4,787.5 609.7,788.1 609.9,789.0 610.2,789.9 610.4,789.4 610.7,790.9 610.9,790.3 611.2,790.2 611.4,791.2 611.7,791.9 611.9,792.6 612.2,790.7 612.4,792.5 612.7,791.5 612.9,791.8 613.2,793.0 613.4,794.0 613.7,792.9 613.9,792.2 614.2,794.0 614.4,794.4 614.7,793.5 614.9,793.9 615.2,793.1 615.4,794.5 615.7,794.5 615.9,795.5 616.2,793.8 616.4,795.0 616.7,796.6 616.9,795.6 617.2,795.2 617.4,793.8 617.7,794.8 617.9,795.1 618.2,794.6 618.5,793.7 618.7,794.5 619.0,794.1 619.2,794.1 619.5,794.6 619.7,794.5 620.0,794.3 620.2,794.8 620.5,793.5 620.7,794.6 621.0,793.4 621.2,792.9 621.5,793.5 621.7,794.0 622.0,793.7 622.2,793.0 622.5,792.6 622.7,792.7 623.0,792.2 623.2,792.9 623.5,792.7 623.7,793.5 624.0,792.3 624.2,792.1 624.5,792.5 624.7,791.5 625.0,791.4 625.2,793.5 625.5,792.3 625.7,792.5 626.0,791.1 626.2,789.6 626.5,791.0 626.7,791.0 627.0,790.9 627.2,790.4 627.5,789.9 627.8,789.2 628.0,790.3 628.3,788.9 628.5,789.7 628.8,789.2 629.0,788.2 629.3,788.1 629.5,788.9 629.8,788.9 630.0,788.5 630.3,788.0 630.5,787.0 630.8,788.1 631.0,787.4 631.3,786.8 631.5,786.7 631.8,786.7 632.0,786.1 632.3,786.5 632.5,786.5 632.8,786.7 633.0,786.1 633.3,788.2 633.5,787.2 633.8,787.7 634.0,788.2 634.3,788.8 634.5,789.7 634.8,789.2 635.0,789.3 635.3,788.9 635.5,790.1 635.8,789.0 636.0,789.3 636.3,790.1 636.6,790.7 636.8,791.0 637.1,791.5 637.3,791.3 637.6,791.1 637.8,791.2 638.1,792.1 638.3,791.8 638.6,792.1 638.8,791.6 639.1,790.5 639.3,791.0 639.6,791.8 639.8,792.9 640.1,793.1 640.3,793.2 640.6,791.9 640.8,792.3 641.1,792.1 641.3,792.4 641.6,792.1 641.8,791.2 642.1,792.2 642.3,792.4 642.6,792.6 642.8,791.7 643.1,792.5 643.3,793.0 643.6,793.1 643.8,793.2 644.1,792.1 644.3,790.5 644.6,792.2 644.8,791.7 645.1,791.8 645.4,792.7 645.6,792.5 645.9,792.3 646.1,792.6 646.4,791.1 646.6,792.8 646.9,792.3 647.1,791.8 647.4,792.4 647.6,792.1 647.9,791.6 648.1,791.8 648.4,791.8 648.6,791.6 648.9,793.2 649.1,791.6 649.4,790.5 649.6,791.1 649.9,791.3 650.1,792.7 650.4,792.4 650.6,792.6 650.9,792.6 651.1,791.7 651.4,792.4 651.6,792.3 651.9,793.2 652.1,792.6 652.4,792.1 652.6,792.5 652.9,792.7 653.1,791.1 653.4,792.4 653.6,792.9 653.9,792.8 654.1,791.6 654.4,790.7 654.7,791.5 654.9,792.5 655.2,792.5 655.4,791.6 655.7,792.4 655.9,791.4 656.2,791.0 656.4,791.8 656.7,791.7 656.9,791.5 657.2,791.1 657.4,792.4 657.7,791.6 657.9,792.1 658.2,792.6 658.4,792.2 658.7,792.2 658.9,792.7 659.2,793.2 659.4,793.0 659.7,791.4 659.9,790.7 660.2,791.3 660.4,791.3 660.7,792.2 660.9,792.2 661.2,792.0 661.4,792.7 661.7,792.9 661.9,792.2 662.2,792.3 662.4,792.8 662.7,792.1 662.9,792.2 663.2,791.6 663.5,791.9 663.7,792.3 664.0,792.1 664.2,792.2 664.5,792.5 664.7,792.5 665.0,791.7 665.2,791.6 665.5,791.2 665.7,792.8 666.0,792.7 666.2,792.4 666.5,792.1 666.7,792.3 667.0,792.5 667.2,791.7 667.5,791.8 667.7,792.7 668.0,791.5 668.2,791.3 668.5,792.2 668.7,791.7 669.0,792.4 669.2,791.6 669.5,792.0 669.7,792.6 670.0,792.5 670.2,792.6 670.5,792.1 670.7,792.0 671.0,792.0 671.2,792.4 671.5,794.4 671.7,792.8 672.0,793.2 672.3,792.3 672.5,791.4 672.8,791.7 673.0,792.3 673.3,792.3 673.5,792.2 673.8,792.5 674.0,792.6 674.3,792.8 674.5,791.6 674.8,791.9 675.0,791.5 675.3,792.1 675.5,792.1 675.8,792.2 676.0,791.9 676.3,791.5 676.5,791.8 676.8,792.5 677.0,792.7 677.3,791.2 677.5,791.9 677.8,792.3 678.0,791.2 678.3,791.1 678.5,791.5 678.8,792.2 679.0,790.6 679.3,791.3 679.5,791.6 679.8,792.1 680.0,793.1 680.3,793.3 680.5,791.9 680.8,791.3 681.0,791.6 681.3,792.2 681.6,792.2 681.8,790.5 682.1,790.1 682.3,786.7 682.6,783.8 682.8,779.8 683.1,778.9 683.3,778.9 683.6,777.5 683.8,778.6 684.1,774.9 684.3,772.6 684.6,771.2 684.8,772.0 685.1,773.6 685.3,776.0 685.6,777.9 685.8,779.5 686.1,783.9 686.3,786.1 686.6,788.5 686.8,787.7 687.1,788.3 687.3,789.7 687.6,791.8 687.8,791.7 688.1,791.9 688.3,791.9 688.6,792.1 688.8,791.7 689.1,792.2 689.3,791.6 689.6,791.8 689.8,792.2 690.1,792.2 690.4,792.4 690.6,791.7 690.9,792.1 691.1,792.0 691.4,792.3 691.6,793.1 691.9,791.8 692.1,792.6 692.4,791.9 692.6,791.7 692.9,793.0 693.1,793.0 693.4,792.6 693.6,792.7 693.9,793.0 694.1,791.9 694.4,792.1 694.6,791.9 694.9,792.3 695.1,792.0 695.4,792.5 695.6,792.3 695.9,791.8 696.1,792.0 696.4,792.4 696.6,792.8 696.9,792.2 697.1,791.9 697.4,792.2 697.6,792.6 697.9,791.9 698.1,790.5 698.4,791.8 698.6,792.0 698.9,791.8 699.2,793.6 699.4,792.5 699.7,792.5 699.9,791.4 700.2,792.0 700.4,792.6 700.7,792.4 700.9,792.0 701.2,792.4 701.4,792.2 701.7,792.9 701.9,792.5 702.2,791.7 702.4,790.8 702.7,791.3 702.9,791.8 703.2,791.3 703.4,791.3 703.7,790.9 703.9,791.1 704.2,792.0 704.4,792.0 704.7,791.9 704.9,791.9 705.2,791.9 705.4,792.5 705.7,793.5 705.9,792.9 706.2,793.4 706.4,792.5 706.7,792.1 706.9,793.1 707.2,792.0 707.4,791.4 707.7,791.9 708.0,791.1 708.2,790.7 708.5,792.4 708.7,791.7 709.0,791.6 709.2,791.8 709.5,791.5 709.7,792.3 710.0,792.6 710.2,792.7 710.5,792.7 710.7,792.3 711.0,793.0 711.2,793.0 711.5,792.0 711.7,792.0 712.0,791.9 712.2,793.1 712.5,792.9 712.7,792.6 713.0,792.2 713.2,792.4 713.5,791.7 713.7,791.9 714.0,792.1 714.2,792.1 714.5,791.7 714.7,792.2 715.0,791.5 715.2,791.6 715.5,791.9 715.7,792.0 716.0,791.8 716.2,791.4 716.5,791.3 716.7,791.7 717.0,791.5 717.3,791.9 717.5,791.3 717.8,791.9 718.0,793.3 718.3,791.7 718.5,791.8 718.8,792.8 719.0,792.5 719.3,792.7 719.5,791.0 719.8,791.4 720.0,792.9 720.3,792.1 720.5,792.2 720.8,791.0 721.0,792.3 721.3,793.7 721.5,792.5 721.8,792.3 722.0,792.4 722.3,793.5 722.5,792.3 722.8,791.0 723.0,792.9 723.3,791.8 723.5,792.2 723.8,790.8 724.0,791.4 724.3,792.1 724.5,791.5 724.8,791.6 725.0,792.4 725.3,791.8 725.5,792.3 725.8,793.3 726.1,791.2 726.3,791.9 726.6,792.5 726.8,792.0 727.1,793.0 727.3,793.2 727.6,792.7 727.8,792.5 728.1,792.2 728.3,791.4 728.6,792.2 728.8,791.9 729.1,791.6 729.3,792.6 729.6,792.2 729.8,792.6 730.1,791.6 730.3,791.6 730.6,792.0 730.8,792.9 731.1,792.3 731.3,792.5 731.6,791.8 731.8,792.0 732.1,792.6 732.3,791.7 732.6,791.5 732.8,792.3 733.1,791.5 733.3,792.0 733.6,792.4 733.8,792.1 734.1,792.5 734.3,792.5 734.6,792.3 734.9,791.2 735.1,790.9 735.4,791.9 735.6,791.1 735.9,791.8 736.1,791.9 736.4,791.5 736.6,791.7 736.9,790.5 737.1,791.4 737.4,792.8 737.6,791.5 737.9,792.1 738.1,792.4 738.4,794.1 738.6,792.1 738.9,791.3 739.1,791.3 739.4,791.2 739.6,790.6 739.9,791.6 740.1,791.3 740.4,792.3 740.6,792.4 740.9,791.1 741.1,791.2 741.4,792.6 741.6,791.7 741.9,791.5 742.1,792.1 742.4,791.0 742.6,791.2 742.9,792.3 743.1,792.1 743.4,788.9 743.6,790.9 743.9,789.9 744.2,788.6 744.4,788.1 744.7,789.7 744.9,789.0 745.2,787.9 745.4,786.6 745.7,787.6 745.9,788.4 746.2,786.0 746.4,784.9 746.7,785.5 746.9,786.7 747.2,785.9 747.4,785.9 747.7,785.3 747.9,787.2 748.2,786.7 748.4,786.7 748.7,787.9 748.9,787.3 749.2,787.4 749.4,788.2 749.7,788.0 749.9,789.5 750.2,789.3 750.4,788.9 750.7,789.3 750.9,789.1 751.2,790.8 751.4,791.8 751.7,790.9 751.9,790.5 752.2,789.6 752.4,790.4 752.7,791.8 753.0,791.1 753.2,791.9 753.5,792.7 753.7,790.3 754.0,790.9 754.2,791.1 754.5,791.1 754.7,790.3 755.0,790.9 755.2,790.5 755.5,791.6 755.7,792.1 756.0,790.3 756.2,789.5 756.5,789.9 756.7,790.1 757.0,789.9 757.2,790.2 757.5,788.8 757.7,788.6 758.0,788.7 758.2,788.6 758.5,788.0 758.7,788.0 759.0,787.8 759.2,788.8 759.5,788.1 759.7,786.7 760.0,788.0 760.2,788.3 760.5,787.7 760.7,787.5 761.0,787.8 761.2,789.4 761.5,788.8 761.8,789.6 762.0,789.9 762.3,789.3 762.5,789.7 762.8,789.5 763.0,788.1 763.3,789.3 763.5,790.0 763.8,791.2 764.0,791.5 764.3,791.9 764.5,791.8 764.8,792.2 765.0,792.2 765.3,791.9 765.5,792.4 765.8,792.9 766.0,793.0 766.3,791.9 766.5,791.8 766.8,791.4 767.0,791.2 767.3,792.0 767.5,791.7 767.8,792.8 768.0,791.0 768.3,790.9 768.5,792.0 768.8,792.8 769.0,792.1 769.3,793.1 769.5,792.9 769.8,791.8 770.0,791.9 770.3,792.4 770.5,791.6 770.8,792.5 771.1,792.1 771.3,792.3 771.6,792.7 771.8,792.0 772.1,792.6 772.3,791.2 772.6,792.1 772.8,791.0 773.1,792.4 773.3,792.0 773.6,792.7 773.8,793.1 774.1,792.3 774.3,791.7 774.6,792.7 774.8,791.6 775.1,792.3 775.3,792.2 775.6,791.8 775.8,791.7 776.1,793.1 776.3,791.5 776.6,791.4 776.8,792.2 777.1,792.8 777.3,793.3 777.6,793.3 777.8,792.1 778.1,792.2 778.3,792.9 778.6,792.7 778.8,791.3 779.1,792.0 779.3,792.5 779.6,791.4 779.9,791.6 780.1,792.0 780.4,792.5 780.6,793.2 780.9,793.2 781.1,792.7 781.4,792.4 781.6,792.0 781.9,791.8 782.1,792.0 782.4,792.1 782.6,792.9 782.9,793.8 783.1,793.1 783.4,793.1 783.6,793.0 783.9,792.8 784.1,793.4 784.4,793.5 784.6,793.0 784.9,792.7 785.1,793.2 785.4,792.8 785.6,793.0 785.9,793.8 786.1,793.4 786.4,792.2 786.6,793.4 786.9,793.0 787.1,792.6 787.4,792.6 787.6,794.1 787.9,793.0 788.1,793.6 788.4,794.4 788.7,794.5 788.9,794.1 789.2,794.4 789.4,794.8 789.7,794.0 789.9,795.0 790.2,795.7 790.4,794.7 790.7,794.4 790.9,794.2 791.2,795.5 791.4,794.7 791.7,794.6 791.9,793.9 792.2,795.5 792.4,795.1 792.7,795.1 792.9,795.9 793.2,795.6 793.4,794.2 793.7,794.7 793.9,795.0 794.2,794.0 794.4,793.4 794.7,793.3 794.9,794.2 795.2,793.9 795.4,792.9 795.7,793.5 795.9,793.7 796.2,792.5 796.4,791.4 796.7,792.7 796.9,794.0 797.2,793.2 797.5,792.2 797.7,791.1 798.0,789.8 798.2,789.7 798.5,789.7 798.7,788.6 799.0,788.6 799.2,787.5 799.5,787.0 799.7,783.5 800.0,783.3 800.2,784.7 800.5,784.6 800.7,783.3 801.0,783.6 801.2,782.4 801.5,781.4 801.7,779.0 802.0,779.2 802.2,779.7 802.5,780.0 802.7,779.7 803.0,778.2 803.2,777.9 803.5,776.5 803.7,778.1 804.0,777.2 804.2,777.8 804.5,778.7 804.7,781.3 805.0,781.8 805.2,780.3 805.5,779.9 805.7,781.5 806.0,782.1 806.2,783.7 806.5,784.8 806.8,785.7 807.0,785.2 807.3,786.0 807.5,787.3 807.8,788.1 808.0,788.0 808.3,788.5 808.5,789.9 808.8,788.7 809.0,789.5 809.3,790.4 809.5,789.6 809.8,789.9 810.0,791.0 810.3,791.0 810.5,792.1 810.8,792.3 811.0,793.5 811.3,791.5 811.5,792.9 811.8,791.9 812.0,792.4 812.3,792.9 812.5,792.4 812.8,791.9 813.0,791.6 813.3,790.7 813.5,791.4 813.8,791.4 814.0,792.3 814.3,791.7 814.5,791.8 814.8,792.4 815.0,792.3 815.3,792.2 815.6,792.0 815.8,791.8 816.1,792.3 816.3,792.7 816.6,791.8 816.8,793.0 817.1,792.9 817.3,791.2 817.6,793.5 817.8,793.1 818.1,791.8 818.3,793.0 818.6,790.8 818.8,793.2 819.1,791.7 819.3,790.9 819.6,791.2 819.8,792.0 820.1,791.9 820.3,792.6 820.6,791.8 820.8,792.6 821.1,792.5 821.3,791.6 821.6,792.6 821.8,792.5 822.1,792.1 822.3,792.8 822.6,791.7 822.8,791.7 823.1,792.9 823.3,792.4 823.6,792.6 823.8,792.6 824.1,792.2 824.4,792.5 824.6,791.7 824.9,792.3 825.1,791.7 825.4,791.9 825.6,791.6 825.9,792.2 826.1,792.5 826.4,792.8 826.6,792.0 826.9,791.5 827.1,790.7 827.4,791.0 827.6,791.7 827.9,792.2 828.1,791.9 828.4,792.0 828.6,791.3 828.9,791.3 829.1,792.4 829.4,792.6 829.6,791.5 829.9,791.7 830.1,792.2 830.4,791.5 830.6,792.1 830.9,792.3 831.1,792.4 831.4,793.3 831.6,792.0 831.9,792.6 832.1,792.6 832.4,792.6 832.6,791.8 832.9,792.0 833.1,792.1 833.4,793.0 833.7,792.5 833.9,792.9 834.2,792.2 834.4,791.8 834.7,792.0 834.9,791.0 835.2,791.4 835.4,791.7 835.7,791.9 835.9,792.2 836.2,791.6 836.4,791.3 836.7,792.6 836.9,791.8 837.2,791.6 837.4,791.5 837.7,791.7 837.9,792.7 838.2,793.0 838.4,791.3 838.7,791.6 838.9,792.8 839.2,792.2 839.4,792.2 839.7,793.2 839.9,793.7 840.2,793.4 840.4,792.2 840.7,792.1 840.9,792.2 841.2,792.0 841.4,791.7 841.7,793.1 841.9,792.6 842.2,792.6 842.5,792.9 842.7,792.6 843.0,792.3 843.2,792.3 843.5,792.9 843.7,792.6 844.0,791.1 844.2,792.3 844.5,793.2 844.7,792.3 845.0,791.7 845.2,791.7 845.5,792.6 845.7,791.8 846.0,792.3 846.2,792.9 846.5,792.6 846.7,792.3 847.0,791.7 847.2,791.6 847.5,792.0 847.7,791.6 848.0,791.9 848.2,791.6 848.5,792.7 848.7,793.2 849.0,792.0 849.2,792.7 849.5,792.5 849.7,792.2 850.0,792.4 850.2,792.4 850.5,791.4 850.7,793.2 851.0,792.1 851.3,790.7 851.5,791.7 851.8,792.1 852.0,791.7 852.3,791.0 852.5,792.4 852.8,792.3 853.0,792.2 853.3,791.8 853.5,791.9 853.8,791.7 854.0,792.2 854.3,792.1 854.5,792.5 854.8,792.6 855.0,792.3 855.3,792.2 855.5,792.8 855.8,791.5 856.0,791.9 856.3,792.9 856.5,791.8 856.8,792.3 857.0,792.0 857.3,792.0 857.5,792.0 857.8,792.0 858.0,792.4 858.3,792.2 858.5,791.0 858.8,793.0 859.0,792.5 859.3,791.8 859.5,792.6 859.8,793.0 860.1,791.2 860.3,791.9 860.6,791.0 860.8,791.4 861.1,792.0 861.3,791.8 861.6,791.7 861.8,791.3 862.1,791.6 862.3,791.9 862.6,792.0 862.8,791.3 863.1,791.4 863.3,792.5 863.6,792.6 863.8,792.0 864.1,792.4 864.3,792.4 864.6,792.7 864.8,792.4 865.1,791.9 865.3,791.5 865.6,791.9 865.8,790.9 866.1,791.7 866.3,790.3 866.6,790.9 866.8,791.6 867.1,792.3 867.3,793.9 867.6,792.8 867.8,792.0 868.1,790.9 868.3,792.6 868.6,791.2 868.8,791.9 869.1,791.7 869.4,793.6 869.6,792.6 869.9,792.3 870.1,791.7 870.4,791.9 870.6,792.9 870.9,791.7 871.1,791.3 871.4,791.4 871.6,791.1 871.9,790.9 872.1,791.8 872.4,793.3 872.6,793.7 872.9,791.3 873.1,791.1 873.4,791.8 873.6,792.5 873.9,792.2 874.1,792.1 874.4,792.4 874.6,792.9 874.9,790.3 875.1,791.2 875.4,792.6 875.6,793.5 875.9,793.2 876.1,791.7 876.4,791.2 876.6,792.1 876.9,792.1 877.1,792.3 877.4,793.1 877.6,791.3 877.9,791.5 878.2,790.1 878.4,792.0 878.7,792.4 878.9,791.5 879.2,792.1 879.4,793.1 879.7,793.1 879.9,792.2 880.2,791.8 880.4,792.1 880.7,791.5 880.9,791.3 881.2,791.7 881.4,792.0 881.7,792.2 881.9,791.8 882.2,791.4 882.4,791.9 882.7,791.8 882.9,792.2 883.2,793.0 883.4,792.9 883.7,791.9 883.9,791.7 884.2,791.1 884.4,791.8 884.7,791.6 884.9,791.2 885.2,791.3 885.4,792.3 885.7,792.3 885.9,792.1 886.2,792.6 886.4,792.0 886.7,791.5 887.0,792.2 887.2,791.1 887.5,791.9 887.7,792.3 888.0,792.3 888.2,792.5 888.5,792.0 888.7,792.0 889.0,791.2 889.2,791.5 889.5,791.7 889.7,792.1 890.0,792.9 890.2,792.4 890.5,792.6 890.7,791.7 891.0,791.9 891.2,791.2 891.5,791.4 891.7,791.5 892.0,791.8 892.2,791.9 892.5,791.7 892.7,791.5 893.0,792.3 893.2,792.0 893.5,790.6 893.7,791.7 894.0,792.3 894.2,792.5 894.5,793.0 894.7,791.7 895.0,791.9 895.2,791.9 895.5,791.1 895.7,790.4 896.0,792.1 896.3,791.7 896.5,791.6 896.8,791.8 897.0,791.8 897.3,792.0 897.5,791.2 897.8,791.5 898.0,791.8 898.3,791.4 898.5,791.4 898.8,791.7 899.0,791.8 899.3,791.1 899.5,791.5 899.8,792.1 900.0,792.6 900.3,792.4 900.5,792.7 900.8,792.2 901.0,791.9 901.3,793.2 901.5,792.5 901.8,791.7 902.0,791.9 902.3,792.6 902.5,791.6 902.8,792.3 903.0,792.9 903.3,792.9 903.5,792.3 903.8,791.6 904.0,791.3 904.3,791.8 904.5,792.8 904.8,792.8 905.1,792.8 905.3,792.5 905.6,793.3 905.8,792.6 906.1,792.0 906.3,792.4 906.6,792.2 906.8,792.9 907.1,793.6 907.3,793.3 907.6,792.2 907.8,792.1 908.1,793.0 908.3,792.5 908.6,793.2 908.8,792.5 909.1,792.9 909.3,793.8 909.6,793.4 909.8,794.3 910.1,794.9 910.3,795.4 910.6,794.6 910.8,794.6 911.1,794.9 911.3,795.2 911.6,794.2 911.8,795.2 912.1,795.9 912.3,794.7 912.6,794.1 912.8,794.9 913.1,796.8 913.3,796.5 913.6,795.3 913.9,795.4 914.1,794.3 914.4,796.1 914.6,795.2 914.9,795.6 915.1,794.3 915.4,794.7 915.6,794.1 915.9,794.9 916.1,795.8 916.4,795.6 916.6,794.9 916.9,794.9 917.1,793.3 917.4,792.5 917.6,793.1 917.9,794.1 918.1,793.6 918.4,793.6 918.6,792.2 918.9,792.4 919.1,792.4 919.4,792.9 919.6,793.9 919.9,793.4 920.1,793.3 920.4,792.4 920.6,792.2 920.9,792.8 921.1,792.7 921.4,791.4 921.6,792.5 921.9,792.9 922.1,792.5 922.4,792.6 922.6,792.5 922.9,791.9 923.2,791.1 923.4,792.8 923.7,792.5 923.9,792.1 924.2,792.2 924.4,792.2 924.7,792.3 924.9,791.6 925.2,792.2 925.4,792.3 925.7,792.1 925.9,792.0 926.2,792.2 926.4,791.6 926.7,791.9 926.9,792.0 927.2,792.1 927.4,792.7 927.7,792.7 927.9,792.8 928.2,792.2 928.4,792.5 928.7,792.8 928.9,792.2 929.2,791.8 929.4,793.0 929.7,791.5 929.9,791.8 930.2,792.2 930.4,791.5 930.7,791.9 930.9,792.4 931.2,790.9 931.4,792.3 931.7,792.4 932.0,791.6 932.2,792.6 932.5,792.4 932.7,791.9 933.0,790.6 933.2,792.2 933.5,792.3 933.7,791.7 934.0,791.9 934.2,792.8 934.5,792.1 934.7,791.9 935.0,791.8 935.2,791.3 935.5,791.2 935.7,791.6 936.0,791.8 936.2,792.7 936.5,792.4 936.7,792.0 937.0,792.3 937.2,792.1 937.5,792.6 937.7,791.3 938.0,790.4 938.2,791.9 938.5,791.9 938.7,792.2 939.0,791.3 939.2,791.6 939.5,792.0 939.7,792.2 940.0,792.1 940.2,792.7 940.5,791.9 940.8,792.4 941.0,791.9 941.3,791.9 941.5,791.4 941.8,791.9 942.0,791.5 942.3,792.4 942.5,791.9 942.8,792.1 943.0,792.0 943.3,792.0 943.5,791.6 943.8,793.1 944.0,792.3 944.3,792.9 944.5,791.7 944.8,793.0 945.0,793.0 945.3,793.2 945.5,791.5 945.8,792.5 946.0,792.3 946.3,792.4 946.5,793.2 946.8,792.6 947.0,791.8 947.3,792.1 947.5,791.6 947.8,792.1 948.0,792.2 948.3,792.3 948.5,792.0 948.8,791.0 949.0,791.6 949.3,791.9 949.6,792.4 949.8,792.6 950.1,791.4 950.3,792.4 950.6,792.8 950.8,792.3 951.1,792.3 951.3,791.1 951.6,793.0 951.8,792.3 952.1,791.7 952.3,792.6 952.6,792.6 952.8,792.0 953.1,791.1 953.3,792.3 953.6,793.1 953.8,791.9 954.1,791.1 954.3,792.0 954.6,793.3 954.8,791.7 955.1,791.9 955.3,791.5 955.6,791.9 955.8,792.3 956.1,792.4 956.3,791.4 956.6,791.1 956.8,793.0 957.1,793.0 957.3,791.3 957.6,792.0 957.8,792.9 958.1,792.3 958.3,792.2 958.6,792.2 958.9,792.4 959.1,792.4 959.4,792.4 959.6,792.0 959.9,792.5 960.1,792.4 960.4,792.2 960.6,791.4 960.9,791.7 961.1,792.1 961.4,791.8 961.6,791.8 961.9,791.4 962.1,791.6 962.4,791.0 962.6,791.1 962.9,791.9 963.1,792.3 963.4,791.7 963.6,791.7 963.9,792.1 964.1,792.9 964.4,793.3 964.6,792.2 964.9,791.6 965.1,791.5 965.4,792.6 965.6,791.8 965.9,792.2 966.1,792.0 966.4,791.8 966.6,792.5 966.9,792.6 967.1,793.3 967.4,793.0 967.7,793.2 967.9,792.2 968.2,792.0 968.4,791.6 968.7,791.7 968.9,792.4 969.2,792.0 969.4,792.2 969.7,791.8 969.9,791.8 970.2,792.6 970.4,792.3 970.7,792.1 970.9,792.3 971.2,791.7 971.4,791.0 971.7,792.0 971.9,792.4 972.2,793.4 972.4,792.6 972.7,792.4 972.9,793.3 973.2,792.3 973.4,791.7 973.7,792.4 973.9,792.4 974.2,792.7 974.4,791.9 974.7,792.8 974.9,792.5 975.2,791.1 975.4,791.7 975.7,791.8 975.9,792.1 976.2,792.8 976.5,792.3 976.7,791.9 977.0,792.6 977.2,792.1 977.5,791.4 977.7,791.3 978.0,792.8 978.2,792.9 978.5,793.1 978.7,791.8 979.0,791.6 979.2,791.6 979.5,792.4 979.7,792.9 980.0,792.3 980.2,792.0 980.5,792.5 980.7,792.2 981.0,791.7 981.2,791.9 981.5,792.6 981.7,793.4 982.0,792.6 982.2,792.1 982.5,792.2 982.7,792.4 983.0,792.6 983.2,791.8 983.5,792.0 983.7,792.0 984.0,792.6 984.2,792.6 984.5,792.1 984.7,792.6 985.0,793.0 985.2,792.5 985.5,791.5 985.8,791.8 986.0,791.3 986.3,791.9 986.5,792.3 986.8,792.9 987.0,792.7 987.3,791.4 987.5,791.7 987.8,791.6 988.0,791.6 988.3,792.0 988.5,792.2 988.8,792.1 989.0,791.7 989.3,791.7 989.5,791.7 989.8,791.9 990.0,792.5 990.3,792.4 990.5,792.7 990.8,791.7 991.0,793.1 991.3,792.6 991.5,790.7 991.8,791.8 992.0,792.8 992.3,792.3 992.5,791.3 992.8,791.9 993.0,791.8 993.3,791.9 993.5,792.3 993.8,790.2 994.0,791.4 994.3,792.4 994.6,792.5 994.8,792.0 995.1,791.8 995.3,791.5 995.6,791.8 995.8,793.0 996.1,792.1 996.3,792.2 996.6,792.4 996.8,793.2 997.1,792.8 997.3,792.7 997.6,792.3 997.8,793.1 998.1,792.4 998.3,792.0 998.6,792.8 998.8,792.8 999.1,792.8 999.3,791.7 999.6,793.6 999.8,792.9 1000.1,793.2 1000.3,792.7 1000.6,791.7 1000.8,792.3 1001.1,792.1 1001.3,792.6 1001.6,791.1 1001.8,791.1 1002.1,791.2 1002.3,792.7 1002.6,793.0 1002.8,791.7 1003.1,792.0 1003.4,792.3 1003.6,792.0 1003.9,792.8 1004.1,791.9 1004.4,791.9 1004.6,791.8 1004.9,792.4 1005.1,791.9 1005.4,792.4 1005.6,791.7 1005.9,791.3 1006.1,791.4 1006.4,791.6 1006.6,791.6 1006.9,793.5 1007.1,792.1 1007.4,792.1 1007.6,792.1 1007.9,792.2 1008.1,792.9 1008.4,792.7 1008.6,791.8 1008.9,791.2 1009.1,792.2 1009.4,792.7 1009.6,791.5 1009.9,792.3 1010.1,791.1 1010.4,791.7 1010.6,792.6 1010.9,791.7 1011.1,790.9 1011.4,792.6 1011.6,791.5 1011.9,792.0 1012.1,791.3 1012.4,792.0 1012.7,793.1 1012.9,792.1 1013.2,791.4 1013.4,790.7 1013.7,790.6 1013.9,791.3 1014.2,792.1 1014.4,792.4 1014.7,792.3 1014.9,792.6 1015.2,792.3 1015.4,793.6 1015.7,792.3 1015.9,791.8 1016.2,790.0 1016.4,790.5 1016.7,791.7 1016.9,791.0 1017.2,791.9 1017.4,791.7 1017.7,792.3 1017.9,789.8 1018.2,789.3 1018.4,790.6 1018.7,789.8 1018.9,788.2 1019.2,787.9 1019.4,787.6 1019.7,788.4 1019.9,788.2 1020.2,786.9 1020.4,785.3 1020.7,786.4 1020.9,787.0 1021.2,784.3 1021.5,785.4 1021.7,783.7 1022.0,783.7 1022.2,783.2 1022.5,782.0 1022.7,782.9 1023.0,783.4 1023.2,785.6 1023.5,786.3 1023.7,785.1 1024.0,784.1 1024.2,784.4 1024.5,784.1 1024.7,786.6 1025.0,788.1 1025.2,787.9 1025.5,789.3 1025.7,790.4 1026.0,792.0 1026.2,791.0 1026.5,792.9 1026.7,792.6 1027.0,794.4 1027.2,793.3 1027.5,794.9 1027.7,794.4 1028.0,796.2 1028.2,796.3 1028.5,795.1 1028.7,796.4 1029.0,796.5 1029.2,796.9 1029.5,798.4 1029.7,797.2 1030.0,796.6 1030.3,797.6 1030.5,796.9 1030.8,797.4 1031.0,797.7 1031.3,797.1 1031.5,797.1 1031.8,795.4 1032.0,796.9 1032.3,796.1 1032.5,795.3 1032.8,796.8 1033.0,797.0 1033.3,795.4 1033.5,795.3 1033.8,794.7 1034.0,793.9 1034.3,794.4 1034.5,794.9 1034.8,795.7 1035.0,794.2 1035.3,794.1 1035.5,793.4 1035.8,793.1 1036.0,793.8 1036.3,792.3 1036.5,791.9 1036.8,792.1 1037.0,793.1 1037.3,793.0 1037.5,792.9 1037.8,792.7 1038.0,793.1 1038.3,792.3 1038.5,792.1 1038.8,792.0 1039.1,792.4 1039.3,791.6 1039.6,791.8 1039.8,793.6 1040.1,793.0 1040.3,792.3 1040.6,791.6 1040.8,792.1 1041.1,792.3 1041.3,792.5 1041.6,791.9 1041.8,792.2 1042.1,792.5 1042.3,792.6 1042.6,791.9 1042.8,792.3 1043.1,793.1 1043.3,792.1 1043.6,792.4 1043.8,792.0 1044.1,791.8 1044.3,791.4 1044.6,791.3 1044.8,792.2 1045.1,792.3 1045.3,792.8 1045.6,791.4 1045.8,791.6 1046.1,791.3 1046.3,792.0 1046.6,793.2 1046.8,791.6 1047.1,791.8 1047.3,792.0 1047.6,792.0 1047.8,791.7 1048.1,791.7 1048.4,792.8 1048.6,791.8 1048.9,792.2 1049.1,792.4 1049.4,791.3 1049.6,791.3 1049.9,792.1 1050.1,793.1 1050.4,792.3 1050.6,791.8 1050.9,792.0 1051.1,792.8 1051.4,792.7 1051.6,792.9 1051.9,792.2 1052.1,791.6 1052.4,791.4 1052.6,792.3 1052.9,792.1 1053.1,791.8 1053.4,792.3 1053.6,792.3 1053.9,791.0 1054.1,791.6 1054.4,791.6 1054.6,792.2 1054.9,792.2 1055.1,793.0 1055.4,792.4 1055.6,791.5 1055.9,790.8 1056.1,791.1 1056.4,791.5 1056.6,792.0 1056.9,792.4 1057.2,792.3 1057.4,791.8 1057.7,792.4 1057.9,791.7 1058.2,792.5 1058.4,793.2 1058.7,792.9 1058.9,793.1 1059.2,793.1 1059.4,791.7 1059.7,792.0 1059.9,792.0 1060.2,791.5 1060.4,791.2 1060.7,792.1 1060.9,791.5 1061.2,791.7 1061.4,792.0 1061.7,791.9 1061.9,792.8 1062.2,792.8 1062.4,792.3 1062.7,791.8 1062.9,792.2 1063.2,792.2 1063.4,791.6 1063.7,791.2 1063.9,791.5 1064.2,791.3 1064.4,792.1 1064.7,792.3 1064.9,792.0 1065.2,792.2 1065.4,792.4 1065.7,791.3 1066.0,791.9 1066.2,792.6 1066.5,792.0 1066.7,791.1 1067.0,791.7 1067.2,791.4 1067.5,792.1 1067.7,792.4 1068.0,792.5 1068.2,792.3 1068.5,791.2 1068.7,792.4 1069.0,791.4 1069.2,792.3 1069.5,792.4 1069.7,791.7 1070.0,791.6 1070.2,791.8 1070.5,792.9 1070.7,792.2 1071.0,792.6 1071.2,790.9 1071.5,791.8 1071.7,792.0 1072.0,792.7 1072.2,792.5 1072.5,792.9 1072.7,791.8 1073.0,792.1 1073.2,791.9 1073.5,792.4 1073.7,792.5 1074.0,791.5 1074.2,792.4 1074.5,793.2 1074.7,792.2 1075.0,792.6 1075.3,792.5 1075.5,791.7 1075.8,792.4 1076.0,791.8 1076.3,792.3 1076.5,791.4 1076.8,791.2 1077.0,792.1 1077.3,792.3 1077.5,792.6 1077.8,792.1 1078.0,791.5 1078.3,792.7 1078.5,791.9 1078.8,792.6 1079.0,792.8 1079.3,793.2 1079.5,791.3 1079.8,791.7 1080.0,792.0 1080.3,792.4 1080.5,791.7 1080.8,793.0 1081.0,792.5 1081.3,790.9 1081.5,791.9 1081.8,792.2 1082.0,791.7 1082.3,792.4 1082.5,792.2 1082.8,791.6 1083.0,791.8 1083.3,791.9 1083.5,792.2 1083.8,792.0 1084.1,792.0 1084.3,791.3 1084.6,791.5 1084.8,792.1 1085.1,793.4 1085.3,792.2 1085.6,791.6 1085.8,792.4 1086.1,793.3 1086.3,793.0 1086.6,791.8 1086.8,792.5 1087.1,792.5 1087.3,792.1 1087.6,791.4 1087.8,791.9 1088.1,792.2 1088.3,792.4 1088.6,791.3 1088.8,791.3 1089.1,792.0 1089.3,792.8 1089.6,792.8 1089.8,791.9 1090.1,792.4 1090.3,791.8 1090.6,791.8 1090.8,791.9 1091.1,791.7 1091.3,791.7 1091.6,792.5 1091.8,792.4 1092.1,790.9 1092.3,792.3 1092.6,792.6 1092.9,791.6 1093.1,792.0 1093.4,792.6 1093.6,792.9 1093.9,792.1 1094.1,791.5 1094.4,791.2 1094.6,791.8 1094.9,791.6 1095.1,792.5 1095.4,792.2 1095.6,792.4 1095.9,792.1 1096.1,791.7 1096.4,791.4 1096.6,792.5 1096.9,791.6 1097.1,792.2 1097.4,792.8 1097.6,792.4 1097.9,792.9 1098.1,792.4 1098.4,792.0 1098.6,792.2 1098.9,791.9 1099.1,792.3 1099.4,792.3 1099.6,793.0 1099.9,792.5 1100.1,792.7 1100.4,792.7 1100.6,792.4 1100.9,792.2 1101.1,793.2 1101.4,793.5 1101.7,792.8 1101.9,792.2 1102.2,792.1 1102.4,791.9 1102.7,791.6 1102.9,792.0 1103.2,792.5 1103.4,793.1 1103.7,793.3 1103.9,793.1 1104.2,792.7 1104.4,792.6 1104.7,792.8 1104.9,793.0 1105.2,792.6 1105.4,792.8 1105.7,792.9 1105.9,792.9 1106.2,793.4 1106.4,793.9 1106.7,793.2 1106.9,793.1 1107.2,793.5 1107.4,793.8 1107.7,792.5 1107.9,793.7 1108.2,794.1 1108.4,793.8 1108.7,794.6 1108.9,794.2 1109.2,793.1 1109.4,793.4 1109.7,793.8 1109.9,794.0 1110.2,794.4 1110.4,794.1 1110.7,794.7 1111.0,795.1 1111.2,795.0 1111.5,794.4 1111.7,794.7 1112.0,794.7 1112.2,796.4 1112.5,795.0 1112.7,793.6 1113.0,794.1 1113.2,795.5 1113.5,796.3 1113.7,795.7 1114.0,796.4 1114.2,795.6 1114.5,796.1 1114.7,795.4 1115.0,794.7 1115.2,797.2 1115.5,796.3 1115.7,796.5 1116.0,797.4 1116.2,797.0 1116.5,796.4 1116.7,795.3 1117.0,797.0 1117.2,795.6 1117.5,794.1 1117.7,795.0 1118.0,795.4 1118.2,795.8 1118.5,796.9 1118.7,795.7 1119.0,795.3 1119.2,795.0 1119.5,793.4 1119.8,794.3 1120.0,795.0 1120.3,794.1 1120.5,796.0 1120.8,796.6 1121.0,795.8 1121.3,795.7 1121.5,794.7 1121.8,795.0 1122.0,793.6 1122.3,793.2 1122.5,793.7 1122.8,794.7 1123.0,794.1 1123.3,793.6 1123.5,794.9 1123.8,794.2 1124.0,793.5 1124.3,793.7 1124.5,792.8 1124.8,792.6 1125.0,794.0 1125.3,793.8 1125.5,794.1 1125.8,793.3 1126.0,793.9 1126.3,792.9 1126.5,792.8 1126.8,792.5 1127.0,793.0 1127.3,794.1 1127.5,792.1 1127.8,792.7 1128.0,792.0 1128.3,792.2 1128.6,792.2 1128.8,791.4 1129.1,792.1 1129.3,791.6 1129.6,793.3 1129.8,792.3 1130.1,792.5 1130.3,792.6 1130.6,792.5 1130.8,792.2 1131.1,791.3 1131.3,793.2 1131.6,792.7 1131.8,792.8 1132.1,791.7 1132.3,792.3 1132.6,792.1 1132.8,792.4 1133.1,791.9 1133.3,791.5 1133.6,792.2 1133.8,792.3 1134.1,793.0 1134.3,792.3 1134.6,791.6 1134.8,792.3 1135.1,791.6 1135.3,793.1 1135.6,793.6 1135.8,793.3 1136.1,792.7 1136.3,792.2 1136.6,792.2 1136.8,792.2 1137.1,791.7 1137.3,792.2 1137.6,792.9 1137.9,793.0 1138.1,791.2 1138.4,793.0 1138.6,792.6 1138.9,791.3 1139.1,791.6 1139.4,792.5 1139.6,792.3 1139.9,791.6 1140.1,791.3 1140.4,792.4 1140.6,791.9 1140.9,791.8 1141.1,791.5 1141.4,791.2 1141.6,792.0 1141.9,792.9 1142.1,792.1 1142.4,791.1 1142.6,791.4 1142.9,791.9 1143.1,790.8 1143.4,792.2 1143.6,791.8 1143.9,792.2 1144.1,792.2 1144.4,792.0 1144.6,791.3 1144.9,792.3 1145.1,792.5 1145.4,793.0 1145.6,792.1 1145.9,792.3 1146.1,792.0 1146.4,792.6 1146.7,792.5 1146.9,791.6 1147.2,792.0 1147.4,791.8 1147.7,791.7 1147.9,792.2 1148.2,793.0 1148.4,791.9 1148.7,791.8 1148.9,791.6 1149.2,793.0 1149.4,793.3 1149.7,793.5 1149.9,792.9 1150.2,791.7 1150.4,791.6 1150.7,792.0 1150.9,792.0 1151.2,791.7 1151.4,792.1 1151.7,791.9 1151.9,792.0 1152.2,793.2 1152.4,792.7 1152.7,791.5 1152.9,792.1 1153.2,792.2 1153.4,792.4 1153.7,792.5 1153.9,791.6 1154.2,792.0 1154.4,792.7 1154.7,793.9 1154.9,792.9 1155.2,793.2 1155.5,793.4 1155.7,792.0 1156.0,791.6 1156.2,793.0 1156.5,792.0 1156.7,791.7 1157.0,792.4 1157.2,791.9 1157.5,792.8 1157.7,793.0 1158.0,793.0 1158.2,792.9 1158.5,791.8 1158.7,792.6 1159.0,792.9 1159.2,792.8 1159.5,792.2 1159.7,792.2 1160.0,791.7 1160.2,792.3 1160.5,792.9 1160.7,792.6 1161.0,792.2 1161.2,792.6 1161.5,792.1 1161.7,791.1 1162.0,792.1 1162.2,792.2 1162.5,791.4 1162.7,792.2 1163.0,792.7 1163.2,792.8 1163.5,792.1 1163.7,791.8 1164.0,792.1 1164.2,792.1 1164.5,791.5 1164.8,791.5 1165.0,792.7 1165.3,792.4 1165.5,792.1 1165.8,791.7 1166.0,792.1 1166.3,792.5 1166.5,792.5 1166.8,793.1 1167.0,792.4 1167.3,792.4 1167.5,792.0 1167.8,792.6 1168.0,792.5 1168.3,792.7 1168.5,792.8 1168.8,791.9 1169.0,792.2 1169.3,792.0 1169.5,792.6 1169.8,792.3 1170.0,793.0 1170.3,792.7 1170.5,792.5 1170.8,791.9 1171.0,791.9 1171.3,792.2 1171.5,791.7 1171.8,791.9 1172.0,791.8 1172.3,791.6 1172.5,792.0 1172.8,792.3 1173.0,792.0 1173.3,792.3 1173.6,792.0 1173.8,791.5 1174.1,791.5 1174.3,792.2 1174.6,792.9 1174.8,792.4 1175.1,792.2 1175.3,791.6 1175.6,792.1 1175.8,792.3 1176.1,791.8 1176.3,792.3 1176.6,792.3 1176.8,791.3 1177.1,791.1 1177.3,791.6 1177.6,791.9 1177.8,792.6 1178.1,792.0 1178.3,792.0 1178.6,792.0 1178.8,792.4 1179.1,792.2 1179.3,792.2 1179.6,792.0 1179.8,791.3 1180.1,791.7 1180.3,792.9 1180.6,792.9 1180.8,793.1 1181.1,792.8 1181.3,792.0 1181.6,791.8 1181.8,792.4 1182.1,792.1 1182.4,792.5 1182.6,793.0 1182.9,793.1 1183.1,792.8 1183.4,791.6 1183.6,792.6 1183.9,791.7 1184.1,791.2 1184.4,792.0 1184.6,792.2 1184.9,792.5 1185.1,792.3 1185.4,791.8 1185.6,792.0 1185.9,791.6 1186.1,791.4 1186.4,791.8 1186.6,791.9 1186.9,792.1 1187.1,792.0 1187.4,792.6 1187.6,792.1 1187.9,792.0 1188.1,792.5 1188.4,791.2 1188.6,792.3 1188.9,792.7 1189.1,792.1 1189.4,793.1 1189.6,792.9 1189.9,793.1 1190.1,792.9 1190.4,792.4 1190.6,792.0 1190.9,791.5 1191.2,791.5 1191.4,791.4 1191.7,791.6 1191.9,792.3 1192.2,791.6 1192.4,792.2 1192.7,792.5 1192.9,791.5 1193.2,791.5 1193.4,791.9 1193.7,791.7 1193.9,791.6 1194.2,792.7 1194.4,792.4 1194.7,792.8 1194.9,792.3 1195.2,792.5 1195.4,791.6 1195.7,791.6 1195.9,792.5 1196.2,792.3 1196.4,792.8 1196.7,792.3 1196.9,791.9 1197.2,791.9 1197.4,793.1 1197.7,792.6 1197.9,791.9 1198.2,791.9 1198.4,791.5 1198.7,792.6 1198.9,792.1 1199.2,792.4 1199.4,792.2 1199.7,791.9 1199.9,791.7 1200.2,792.3 1200.5,792.1 1200.7,792.7 1201.0,793.1 1201.2,792.1 1201.5,792.1 1201.7,793.0 1202.0,792.9 1202.2,792.3 1202.5,791.3 1202.7,791.3 1203.0,791.5 1203.2,792.9 1203.5,792.5 1203.7,791.9 1204.0,791.9 1204.2,791.9 1204.5,792.2 1204.7,791.3 1205.0,791.1 1205.2,791.9 1205.5,792.7 1205.7,791.2 1206.0,792.1 1206.2,791.6 1206.5,790.9 1206.7,792.3 1207.0,792.2 1207.2,792.3 1207.5,791.9 1207.7,791.9 1208.0,791.1 1208.2,791.5 1208.5,792.0 1208.7,791.6 1209.0,792.1 1209.3,792.4 1209.5,791.0 1209.8,792.2 1210.0,792.5 1210.3,792.2 1210.5,792.7 1210.8,793.4 1211.0,792.0 1211.3,792.4 1211.5,792.6 1211.8,792.4 1212.0,792.7 1212.3,792.9 1212.5,792.2 1212.8,790.9 1213.0,791.3 1213.3,791.6 1213.5,792.8 1213.8,792.4 1214.0,792.8 1214.3,791.9 1214.5,792.1 1214.8,792.2 1215.0,792.2 1215.3,792.4 1215.5,793.0 1215.8,792.1 1216.0,792.7 1216.3,793.0 1216.5,792.5 1216.8,792.5 1217.0,792.1 1217.3,791.5 1217.5,791.8 1217.8,791.9 1218.1,792.0 1218.3,791.6 1218.6,792.9 1218.8,792.2 1219.1,792.4 1219.3,792.8 1219.6,792.2 1219.8,792.2 1220.1,791.7 1220.3,791.2 1220.6,792.9 1220.8,792.3 1221.1,790.8 1221.3,791.0 1221.6,790.8 1221.8,791.4 1222.1,792.4 1222.3,792.5 1222.6,791.4 1222.8,790.9 1223.1,791.7 1223.3,791.7 1223.6,791.2 1223.8,792.2 1224.1,791.7 1224.3,790.3 1224.6,789.5 1224.8,790.6 1225.1,789.8 1225.3,790.7 1225.6,791.2 1225.8,792.0 1226.1,790.4 1226.3,790.4 1226.6,789.0 1226.8,789.5 1227.1,789.9 1227.4,791.0 1227.6,789.3 1227.9,789.7 1228.1,789.8 1228.4,791.0 1228.6,789.3 1228.9,788.5 1229.1,789.5 1229.4,789.3 1229.6,788.8 1229.9,788.3 1230.1,788.7 1230.4,787.6 1230.6,788.6 1230.9,789.3 1231.1,789.3 1231.4,790.8 1231.6,790.0 1231.9,788.1 1232.1,788.2 1232.4,789.2 1232.6,788.6 1232.9,790.2 1233.1,789.5 1233.4,788.4 1233.6,788.0 1233.9,789.3 1234.1,788.3 1234.4,787.1 1234.6,788.8 1234.9,788.6 1235.1,790.3 1235.4,791.4 1235.6,789.4 1235.9,789.2 1236.2,789.3 1236.4,790.1 1236.7,790.1 1236.9,789.2 1237.2,788.2 1237.4,789.7 1237.7,791.5 1237.9,789.6 1238.2,789.5 1238.4,789.7 1238.7,790.2 1238.9,788.8 1239.2,790.1 1239.4,790.4 1239.7,792.2 1239.9,791.9 1240.2,791.7 1240.4,791.3 1240.7,791.0 1240.9,791.7 1241.2,790.3 1241.4,791.8 1241.7,792.0 1241.9,791.5 1242.2,792.4 1242.4,791.5 1242.7,791.2 1242.9,791.8 1243.2,790.6 1243.4,791.4 1243.7,791.7 1243.9,792.4 1244.2,793.1 1244.4,792.6 1244.7,792.3 1245.0,792.3 1245.2,791.6 1245.5,793.2 1245.7,793.1 1246.0,793.3 1246.2,791.6 1246.5,792.1 1246.7,792.5 1247.0,792.8 1247.2,791.8 1247.5,792.2 1247.7,792.1 1248.0,793.2 1248.2,791.8 1248.5,791.7 1248.7,791.7 1249.0,791.4 1249.2,792.0 1249.5,792.2 1249.7,791.8 1250.0,791.8 1250.2,792.2 1250.5,792.1 1250.7,792.4 1251.0,791.8 1251.2,791.5 1251.5,792.0 1251.7,791.1 1252.0,792.6 1252.2,792.5 1252.5,791.3 1252.7,792.1 1253.0,793.1 1253.2,791.7 1253.5,791.6 1253.7,792.7 1254.0,791.9 1254.3,792.5 1254.5,793.0 1254.8,792.5 1255.0,792.4 1255.3,792.8 1255.5,792.5 1255.8,792.7 1256.0,792.3 1256.3,792.1 1256.5,791.7 1256.8,792.2 1257.0,792.9 1257.3,793.1 1257.5,792.5 1257.8,791.4 1258.0,791.4 1258.3,792.3 1258.5,791.7 1258.8,792.6 1259.0,791.8 1259.3,792.2 1259.5,791.8 1259.8,791.7 1260.0,792.2 1260.3,792.0 1260.5,792.6 1260.8,792.4 1261.0,791.6 1261.3,789.8 1261.5,791.0 1261.8,792.0 1262.0,792.7 1262.3,791.8 1262.5,792.8 1262.8,792.8 1263.1,792.1 1263.3,792.7 1263.6,791.5 1263.8,791.3 1264.1,792.2 1264.3,792.5 1264.6,792.9 1264.8,793.1 1265.1,792.1 1265.3,791.7 1265.6,791.8 1265.8,791.9 1266.1,792.4 1266.3,792.0 1266.6,792.8 1266.8,792.4 1267.1,791.4 1267.3,791.2 1267.6,792.1 1267.8,792.4 1268.1,791.5 1268.3,791.0 1268.6,792.6 1268.8,792.6 1269.1,792.1 1269.3,791.5 1269.6,792.4 1269.8,791.9 1270.1,792.2 1270.3,790.9 1270.6,791.5 1270.8,792.1 1271.1,792.3 1271.3,791.6 1271.6,791.6 1271.9,792.6 1272.1,792.2 1272.4,792.8 1272.6,792.8 1272.9,792.9 1273.1,793.1 1273.4,792.7 1273.6,792.8 1273.9,792.0 1274.1,791.6 1274.4,792.1 1274.6,792.8 1274.9,791.9 1275.1,793.1 1275.4,793.5 1275.6,792.1 1275.9,791.7 1276.1,791.5 1276.4,792.1 1276.6,792.8 1276.9,792.6 1277.1,791.9 1277.4,792.4 1277.6,792.6 1277.9,793.0 1278.1,793.0 1278.4,791.9 1278.6,791.7 1278.9,792.7 1279.1,792.9 1279.4,792.6 1279.6,791.9 1279.9,792.6 1280.1,792.4 1280.4,793.3 1280.7,793.2 1280.9,792.1 1281.2,791.6 1281.4,792.6 1281.7,792.7 1281.9,791.8 1282.2,792.2 1282.4,792.5 1282.7,792.0 1282.9,791.9 1283.2,791.5 1283.4,791.5 1283.7,792.3 1283.9,792.3 1284.2,792.2 1284.4,792.9 1284.7,792.9 1284.9,791.8 1285.2,792.8 1285.4,791.9 1285.7,791.8 1285.9,792.2 1286.2,791.9 1286.4,791.8 1286.7,791.4 1286.9,792.1 1287.2,792.3 1287.4,792.3 1287.7,791.2 1287.9,791.3 1288.2,792.4 1288.4,792.5 1288.7,792.6 1288.9,792.2 1289.2,792.0 1289.4,790.9 1289.7,792.7 1290.0,791.9 1290.2,791.7 1290.5,792.4 1290.7,792.3 1291.0,792.4 1291.2,792.2 1291.5,791.6 1291.7,792.7 1292.0,791.7 1292.2,792.1 1292.5,791.4 1292.7,791.6 1293.0,791.4 1293.2,791.6 1293.5,791.5 1293.7,791.9 1294.0,792.6 1294.2,791.9 1294.5,791.6 1294.7,790.9 1295.0,792.8 1295.2,792.6 1295.5,791.6 1295.7,792.6 1296.0,792.5 1296.2,791.1 1296.5,791.0 1296.7,792.3 1297.0,791.5 1297.2,791.3 1297.5,791.5 1297.7,791.8 1298.0,791.9 1298.2,792.5 1298.5,792.5 1298.8,791.8 1299.0,791.9 1299.3,791.1 1299.5,792.0 1299.8,793.4 1300.0,792.7 1300.3,792.0 1300.5,791.9 1300.8,792.0 1301.0,792.5 1301.3,791.5 1301.5,792.2 1301.8,791.9 1302.0,792.1 1302.3,792.8 1302.5,791.6 1302.8,793.2 1303.0,793.0 1303.3,792.0 1303.5,792.2 1303.8,791.8 1304.0,792.0 1304.3,792.4 1304.5,791.1 1304.8,791.9 1305.0,792.2 1305.3,792.7 1305.5,792.7 1305.8,791.9 1306.0,791.7 1306.3,792.0 1306.5,792.5 1306.8,791.9 1307.0,792.9 1307.3,792.6 1307.6,792.3 1307.8,792.6 1308.1,792.2 1308.3,792.4 1308.6,792.7 1308.8,791.3 1309.1,791.4 1309.3,791.4 1309.6,791.9 1309.8,791.6 1310.1,791.5 1310.3,791.3 1310.6,790.7 1310.8,791.8 1311.1,792.0 1311.3,792.1 1311.6,794.0 1311.8,793.5 1312.1,792.3 1312.3,791.8 1312.6,792.3 1312.8,791.6 1313.1,791.2 1313.3,792.1 1313.6,791.4 1313.8,790.9 1314.1,791.6 1314.3,792.5 1314.6,791.5 1314.8,791.9 1315.1,792.3 1315.3,792.1 1315.6,792.4 1315.8,791.6 1316.1,791.5 1316.3,791.3 1316.6,791.6 1316.9,792.4 1317.1,792.3 1317.4,791.7 1317.6,792.2 1317.9,790.6 1318.1,791.7 1318.4,792.5 1318.6,791.6 1318.9,791.5 1319.1,792.0 1319.4,792.2 1319.6,791.9 1319.9,791.6 1320.1,791.6 1320.4,792.1 1320.6,791.9 1320.9,791.6 1321.1,791.5 1321.4,793.6 1321.6,793.1 1321.9,792.7 1322.1,792.4 1322.4,792.0 1322.6,791.6 1322.9,791.6 1323.1,792.1 1323.4,792.1 1323.6,791.2 1323.9,792.1 1324.1,792.0 1324.4,791.2 1324.6,791.6 1324.9,793.1 1325.1,792.3 1325.4,792.2 1325.7,792.2 1325.9,791.6 1326.2,791.7 1326.4,792.2 1326.7,791.7 1326.9,791.7 1327.2,792.0 1327.4,791.9 1327.7,791.9 1327.9,792.2 1328.2,792.4 1328.4,792.2 1328.7,792.6 1328.9,793.0 1329.2,791.6 1329.4,792.0 1329.7,792.2 1329.9,792.2 1330.2,792.1 1330.4,792.1 1330.7,792.1 1330.9,792.5 1331.2,791.7 1331.4,792.3 1331.7,791.7 1331.9,793.0 1332.2,793.1 1332.4,791.8 1332.7,792.0 1332.9,792.5 1333.2,792.0 1333.4,792.7 1333.7,792.3 1333.9,793.4 1334.2,792.9 1334.5,792.6 1334.7,792.0 1335.0,791.5 1335.2,792.5 1335.5,791.4 1335.7,792.2 1336.0,793.6 1336.2,794.1 1336.5,791.7 1336.7,792.0 1337.0,792.7 1337.2,792.9 1337.5,793.2 1337.7,791.6 1338.0,792.1 1338.2,791.1 1338.5,792.1 1338.7,794.0 1339.0,792.4 1339.2,792.5 1339.5,792.7 1339.7,791.4 1340.0,792.3 1340.2,791.8 1340.5,792.3 1340.7,793.2 1341.0,792.5 1341.2,793.0 1341.5,792.0 1341.7,791.8 1342.0,792.6 1342.2,792.4 1342.5,792.4 1342.7,793.1 1343.0,792.5 1343.3,793.1 1343.5,792.8 1343.8,793.8 1344.0,793.4 1344.3,793.0 1344.5,793.9 1344.8,794.0 1345.0,794.0 1345.3,793.2 1345.5,794.0 1345.8,793.6 1346.0,792.7 1346.3,793.3 1346.5,795.0 1346.8,794.3 1347.0,793.4 1347.3,794.1 1347.5,793.6 1347.8,793.7 1348.0,794.0 1348.3,794.5 1348.5,794.9 1348.8,794.9 1349.0,794.7 1349.3,794.3 1349.5,794.4 1349.8,794.9 1350.0,794.9 1350.3,794.6 1350.5,795.9 1350.8,795.8 1351.0,795.7 1351.3,795.3 1351.5,795.3 1351.8,795.3 1352.0,795.7 1352.3,794.8 1352.6,794.8 1352.8,796.0 1353.1,795.4 1353.3,795.8 1353.6,794.2 1353.8,795.0 1354.1,795.4 1354.3,795.0 1354.6,795.1 1354.8,795.0 1355.1,793.9 1355.3,794.4 1355.6,794.2 1355.8,793.9 1356.1,795.1 1356.3,793.8 1356.6,793.8 1356.8,793.8 1357.1,794.8 1357.3,794.1 1357.6,793.9 1357.8,794.5 1358.1,792.8 1358.3,793.3 1358.6,794.1 1358.8,793.9 1359.1,793.3 1359.3,792.9 1359.6,793.1 1359.8,792.8 1360.1,792.4 1360.3,794.0 1360.6,794.0 1360.8,794.1 1361.1,793.5 1361.4,792.3 1361.6,792.5 1361.9,793.7 1362.1,793.5 1362.4,792.5 1362.6,793.1 1362.9,793.1 1363.1,792.7 1363.4,793.9 1363.6,792.7 1363.9,792.4 1364.1,792.3 1364.4,793.1 1364.6,793.3 1364.9,793.1 1365.1,792.5 1365.4,792.4 1365.6,792.4 1365.9,791.4 1366.1,791.3 1366.4,792.6 1366.6,792.9 1366.9,791.5 1367.1,792.2 1367.4,791.6 1367.6,791.1 1367.9,792.3 1368.1,792.5 1368.4,792.2 1368.6,792.7 1368.9,792.9 1369.1,792.6 1369.4,791.8 1369.6,792.3 1369.9,792.4 1370.2,792.5 1370.4,793.0 1370.7,791.6 1370.9,793.2 1371.2,792.9 1371.4,791.9 1371.7,792.8 1371.9,792.0 1372.2,791.3 1372.4,792.4 1372.7,792.2 1372.9,792.7 1373.2,792.0 1373.4,792.0 1373.7,792.0 1373.9,791.3 1374.2,791.6 1374.4,791.3 1374.7,791.5 1374.9,792.6 1375.2,792.2 1375.4,791.8 1375.7,792.8 1375.9,791.6 1376.2,791.8 1376.4,791.9 1376.7,792.5 1376.9,792.2 1377.2,791.9 1377.4,792.2 1377.7,792.1 1377.9,793.2 1378.2,791.7 1378.4,792.4 1378.7,793.5 1378.9,793.0 1379.2,792.7 1379.5,791.9 1379.7,792.5 1380.0,792.1 1380.2,792.6 1380.5,791.1 1380.7,791.4 1381.0,790.9 1381.2,792.3 1381.5,791.9 1381.7,792.5 1382.0,791.9 1382.2,791.6 1382.5,792.8 1382.7,793.0 1383.0,792.9 1383.2,793.1 1383.5,792.7 1383.7,792.7 1384.0,793.0 1384.2,792.3 1384.5,791.8 1384.7,792.7 1385.0,792.6 1385.2,792.2 1385.5,792.2 1385.7,792.5 1386.0,791.8 1386.2,791.5 1386.5,791.6 1386.7,792.1 1387.0,791.1 1387.2,790.8 1387.5,792.0 1387.7,792.2 1388.0,791.5 1388.3,792.3 1388.5,792.0 1388.8,792.0 1389.0,792.5 1389.3,792.3 1389.5,793.0 1389.8,792.7 1390.0,793.3 1390.3,791.2 1390.5,790.9 1390.8,791.2 1391.0,791.7 1391.3,791.5 1391.5,791.2 1391.8,791.3 1392.0,791.4 1392.3,792.4 1392.5,792.0 1392.8,792.3 1393.0,792.8 1393.3,792.9 1393.5,792.1 1393.8,791.5 1394.0,792.6 1394.3,791.4 1394.5,791.0 1394.8,792.0 1395.0,792.4 1395.3,792.2 1395.5,791.6 1395.8,792.1 1396.0,792.8 1396.3,792.1 1396.5,793.1 1396.8,792.4 1397.1,791.4 1397.3,791.7 1397.6,791.6 1397.8,791.7 1398.1,791.6 1398.3,791.9 1398.6,792.5 1398.8,792.4 1399.1,792.2 1399.3,791.4 1399.6,791.0 1399.8,791.6 1400.1,792.4 1400.3,792.6 1400.6,792.3 1400.8,791.4 1401.1,791.7 1401.3,792.1 1401.6,792.5 1401.8,791.8 1402.1,791.8 1402.3,792.1 1402.6,792.1 1402.8,791.2 1403.1,791.9 1403.3,791.2 1403.6,791.1 1403.8,791.8 1404.1,791.6 1404.3,792.0 1404.6,792.6 1404.8,792.4 1405.1,792.6 1405.3,792.0 1405.6,792.0 1405.8,791.8 1406.1,791.6 1406.4,793.6 1406.6,792.5 1406.9,793.0 1407.1,792.3 1407.4,792.5 1407.6,792.2 1407.9,791.3 1408.1,792.8 1408.4,792.3 1408.6,792.1 1408.9,793.1 1409.1,792.1 1409.4,792.0 1409.6,792.4 1409.9,792.6 1410.1,790.5 1410.4,791.7 1410.6,793.1 1410.9,792.9 1411.1,792.5 1411.4,792.4 1411.6,792.2 1411.9,792.7 1412.1,792.0 1412.4,792.3 1412.6,792.9 1412.9,792.8 1413.1,792.5 1413.4,791.7 1413.6,791.7 1413.9,792.2 1414.1,792.2 1414.4,792.0 1414.6,791.0 1414.9,792.1 1415.2,792.0 1415.4,791.6 1415.7,792.5 1415.9,792.2 1416.2,792.0 1416.4,792.3 1416.7,791.9 1416.9,791.4 1417.2,791.3 1417.4,792.0 1417.7,792.0 1417.9,790.8 1418.2,792.3 1418.4,792.2 1418.7,791.6 1418.9,791.9 1419.2,791.7 1419.4,791.9 1419.7,791.7 1419.9,791.3 1420.2,792.0 1420.4,792.0 1420.7,792.1 1420.9,792.3 1421.2,792.2 1421.4,792.7 1421.7,791.9 1421.9,791.0 1422.2,790.9 1422.4,791.1 1422.7,792.4 1422.9,791.4 1423.2,792.2 1423.4,792.3 1423.7,791.1 1424.0,792.3 1424.2,791.8 1424.5,791.8 1424.7,792.1 1425.0,792.6 1425.2,792.0 1425.5,792.3 1425.7,791.6 1426.0,791.2 1426.2,792.6 1426.5,792.6 1426.7,792.4 1427.0,792.8 1427.2,792.9 1427.5,792.3 1427.7,792.2 1428.0,793.0 1428.2,792.7 1428.5,791.9 1428.7,792.7 1429.0,792.8 1429.2,791.4 1429.5,791.1 1429.7,792.7 1430.0,793.1 1430.2,792.1 1430.5,792.7 1430.7,792.5 1431.0,792.4 1431.2,791.9 1431.5,793.4 1431.7,793.8 1432.0,793.2 1432.2,791.8 1432.5,792.0 1432.8,793.1 1433.0,792.1 1433.3,791.6 1433.5,792.1 1433.8,792.3 1434.0,791.9 1434.3,791.4 1434.5,791.8 1434.8,791.8 1435.0,792.0 1435.3,792.3 1435.5,792.7 1435.8,792.1 1436.0,792.2 1436.3,792.3 1436.5,791.6 1436.8,791.7 1437.0,791.5 1437.3,792.8 1437.5,792.1 1437.8,792.3 1438.0,792.7 1438.3,792.8 1438.5,791.6 1438.8,791.4 1439.0,792.4 1439.3,792.9 1439.5,792.3 1439.8,792.4 1440.0,791.3 1440.3,792.7 1440.5,793.5 1440.8,792.7 1441.0,792.2 1441.3,792.1 1441.5,791.7 1441.8,790.8 1442.1,792.0 1442.3,792.6 1442.6,793.4 1442.8,792.4 1443.1,791.7 1443.3,792.2 1443.6,791.6 1443.8,792.0 1444.1,791.4 1444.3,791.8 1444.6,792.9 1444.8,793.0 1445.1,793.5 1445.3,793.9 1445.6,792.6 1445.8,791.8 1446.1,791.0 1446.3,792.1 1446.6,792.7 1446.8,793.4 1447.1,792.2 1447.3,792.2 1447.6,793.0 1447.8,792.4 1448.1,792.3 1448.3,794.0 1448.6,792.8 1448.8,792.7 1449.1,793.3 1449.3,793.5 1449.6,792.0 1449.8,791.7 1450.1,791.6 1450.3,793.7 1450.6,794.1 1450.9,793.0 1451.1,794.2 1451.4,794.4 1451.6,795.2 1451.9,792.8 1452.1,792.6 1452.4,793.3 1452.6,793.7 1452.9,794.3 1453.1,794.5 1453.4,793.8 1453.6,794.6 1453.9,793.6 1454.1,794.4 1454.4,795.2 1454.6,793.7 1454.9,794.3 1455.1,794.2 1455.4,794.8 1455.6,796.5 1455.9,794.9 1456.1,795.7 1456.4,794.4 1456.6,795.8 1456.9,796.7 1457.1,795.2 1457.4,794.6 1457.6,794.9 1457.9,795.9 1458.1,794.7 1458.4,795.9 1458.6,795.8 1458.9,795.8 1459.1,795.5 1459.4,794.6 1459.7,795.3 1459.9,794.8 1460.2,794.4 1460.4,796.0 1460.7,796.2 1460.9,795.5 1461.2,795.4 1461.4,794.8 1461.7,796.0 1461.9,794.7 1462.2,794.1 1462.4,794.6 1462.7,795.5 1462.9,794.9 1463.2,794.8 1463.4,794.2 1463.7,794.3 1463.9,793.9 1464.2,794.4 1464.4,793.4 1464.7,795.2 1464.9,795.1 1465.2,793.9 1465.4,794.7 1465.7,793.7 1465.9,794.3 1466.2,793.9 1466.4,794.1 1466.7,794.0 1466.9,793.4 1467.2,793.4 1467.4,793.6 1467.7,792.1 1467.9,792.8 1468.2,793.7 1468.4,792.7 1468.7,792.4 1469.0,792.1 1469.2,791.6 1469.5,793.1 1469.7,792.4 1470.0,791.9 1470.2,792.5 1470.5,792.5 1470.7,794.3 1471.0,793.5 1471.2,791.6 1471.5,793.2 1471.7,793.2 1472.0,792.4 1472.2,792.1 1472.5,791.4 1472.7,793.1 1473.0,792.7 1473.2,791.8 1473.5,792.9 1473.7,792.6 1474.0,791.2 1474.2,791.1 1474.5,791.7 1474.7,793.7 1475.0,792.8 1475.2,792.0 1475.5,792.3 1475.7,792.3 1476.0,790.4 1476.2,791.7 1476.5,792.8 1476.7,792.2 1477.0,792.3 1477.2,792.4 1477.5,792.3 1477.8,791.7 1478.0,791.8 1478.3,792.8 1478.5,792.4 1478.8,791.9 1479.0,792.3 1479.3,791.5 1479.5,791.4 1479.8,792.6 1480.0,792.1 1480.3,790.9 1480.5,790.8 1480.8,791.8 1481.0,791.6 1481.3,792.3 1481.5,793.1 1481.8,792.1 1482.0,791.8 1482.3,791.7 1482.5,792.0 1482.8,791.9 1483.0,792.3 1483.3,791.9 1483.5,791.5 1483.8,792.0 1484.0,791.6 1484.3,793.0 1484.5,792.9 1484.8,791.4 1485.0,790.7 1485.3,791.6 1485.5,792.1 1485.8,792.9 1486.0,792.1 1486.3,791.6 1486.6,792.8 1486.8,792.1 1487.1,791.7 1487.3,791.7 1487.6,792.7 1487.8,792.0 1488.1,792.9 1488.3,791.5 1488.6,791.7 1488.8,792.8 1489.1,791.5 1489.3,791.1 1489.6,792.3 1489.8,790.9 1490.1,792.3 1490.3,792.1 1490.6,791.3 1490.8,793.2 1491.1,792.0 1491.3,791.9 1491.6,792.1 1491.8,792.7 1492.1,792.1 1492.3,792.7 1492.6,792.9 1492.8,792.6 1493.1,792.9 1493.3,791.4 1493.6,792.6 1493.8,792.8 1494.1,792.4 1494.3,792.2 1494.6,791.6 1494.8,791.5 1495.1,792.1 1495.4,792.4 1495.6,792.2 1495.9,791.6 1496.1,791.5 1496.4,792.3 1496.6,793.4 1496.9,791.3 1497.1,791.1 1497.4,791.8 1497.6,791.9 1497.9,792.3 1498.1,792.8 1498.4,792.5 1498.6,792.3 1498.9,792.5 1499.1,793.1 1499.4,792.6 1499.6,791.8 1499.9,792.3 1500.1,792.2 1500.4,793.3 1500.6,792.6 1500.9,792.2 1501.1,792.8 1501.4,793.3 1501.6,792.2 1501.9,792.5 1502.1,792.0 1502.4,792.2 1502.6,791.8 1502.9,792.2 1503.1,793.0 1503.4,792.4 1503.6,792.3 1503.9,791.8 1504.1,792.2 1504.4,792.4 1504.7,791.7 1504.9,791.3 1505.2,791.4 1505.4,791.4 1505.7,791.6 1505.9,791.6 1506.2,791.5 1506.4,791.7 1506.7,792.0 1506.9,792.0 1507.2,790.7 1507.4,791.6 1507.7,792.2 1507.9,792.4 1508.2,792.2 1508.4,792.0 1508.7,792.7 1508.9,793.4 1509.2,792.3 1509.4,793.0 1509.7,792.3 1509.9,792.0 1510.2,791.4 1510.4,790.9 1510.7,791.6 1510.9,792.3 1511.2,792.9 1511.4,792.8 1511.7,792.2 1511.9,793.3 1512.2,792.4 1512.4,792.1 1512.7,791.7 1512.9,792.2 1513.2,792.1 1513.5,792.5 1513.7,792.5 1514.0,793.2 1514.2,792.4 1514.5,791.2 1514.7,791.7 1515.0,791.9 1515.2,792.6 1515.5,791.5 1515.7,792.3 1516.0,791.8 1516.2,791.9 1516.5,792.6 1516.7,791.7 1517.0,791.9 1517.2,792.0 1517.5,791.8 1517.7,792.0 1518.0,792.3 1518.2,791.9 1518.5,792.2 1518.7,792.1 1519.0,792.5 1519.2,793.1 1519.5,792.8 1519.7,792.5 1520.0,792.2 1520.2,791.4 1520.5,792.8 1520.7,792.3 1521.0,793.3 1521.2,793.1 1521.5,792.6 1521.7,793.5 1522.0,793.6 1522.3,792.4 1522.5,792.0 1522.8,792.1 1523.0,792.6 1523.3,791.0 1523.5,791.8 1523.8,792.6 1524.0,791.3 1524.3,791.4 1524.5,792.2 1524.8,791.5 1525.0,791.8 1525.3,791.7 1525.5,791.8 1525.8,792.6 1526.0,791.7 1526.3,791.8 1526.5,792.6 1526.8,792.7 1527.0,791.7 1527.3,792.1 1527.5,792.1 1527.8,791.7 1528.0,791.9 1528.3,792.9 1528.5,792.0 1528.8,791.4 1529.0,791.4 1529.3,791.0 1529.5,791.6 1529.8,791.6 1530.0,791.1 1530.3,792.0 1530.5,791.2 1530.8,790.8 1531.0,791.3 1531.3,790.9 1531.6,791.3 1531.8,792.4 1532.1,791.6 1532.3,791.7 1532.6,791.8 1532.8,791.9 1533.1,791.3 1533.3,791.5 1533.6,792.4 1533.8,792.0 1534.1,791.6 1534.3,792.4 1534.6,792.5 1534.8,792.4 1535.1,792.5 1535.3,792.0 1535.6,791.5 1535.8,790.8 1536.1,791.1 1536.3,791.3 1536.6,791.3 1536.8,791.1 1537.1,792.1 1537.3,791.8 1537.6,791.8 1537.8,792.1 1538.1,792.4 1538.3,792.5 1538.6,792.3 1538.8,792.8 1539.1,792.0 1539.3,792.0 1539.6,792.0 1539.8,791.9 1540.1,791.6 1540.4,792.3 1540.6,792.3 1540.9,793.0 1541.1,793.7 1541.4,793.6 1541.6,791.6 1541.9,792.8 1542.1,792.2 1542.4,791.2 1542.6,792.1 1542.9,791.3 1543.1,790.7 1543.4,791.2 1543.6,790.6 1543.9,791.3 1544.1,792.4 1544.4,791.9 1544.6,792.3 1544.9,792.9 1545.1,793.1 1545.4,791.0 1545.6,792.0 1545.9,792.2 1546.1,792.5 1546.4,792.1 1546.6,792.2 1546.9,792.4 1547.1,792.9 1547.4,793.1 1547.6,792.8 1547.9,792.1 1548.1,790.9 1548.4,791.1 1548.6,790.9 1548.9,791.5 1549.2,792.0 1549.4,792.9 1549.7,792.3 1549.9,793.3 1550.2,792.7 1550.4,791.2 1550.7,791.6 1550.9,791.4 1551.2,792.1 1551.4,792.9 1551.7,792.6 1551.9,792.4 1552.2,791.5 1552.4,790.7 1552.7,792.1 1552.9,792.4 1553.2,792.3 1553.4,792.3 1553.7,792.9 1553.9,792.3 1554.2,791.9 1554.4,791.8 1554.7,792.7 1554.9,792.4 1555.2,793.2 1555.4,791.9 1555.7,792.6 1555.9,792.5 1556.2,792.5 1556.4,792.6 1556.7,792.9 1556.9,793.4 1557.2,791.5 1557.4,791.7 1557.7,792.0 1557.9,790.9 1558.2,791.9 1558.5,791.9 1558.7,792.1 1559.0,791.5 1559.2,791.8 1559.5,792.0 1559.7,792.5 1560.0,792.3 1560.2,791.6 1560.5,793.5 1560.7,793.0 1561.0,792.8 1561.2,792.8 1561.5,794.0 1561.7,792.6 1562.0,793.1 1562.2,793.1 1562.5,793.2 1562.7,794.1 1563.0,793.6 1563.2,794.3 1563.5,794.1 1563.7,793.5 1564.0,793.2 1564.2,793.2 1564.5,793.4 1564.7,791.9 1565.0,792.7 1565.2,794.3 1565.5,794.4 1565.7,794.4 1566.0,794.1 1566.2,794.4 1566.5,794.8 1566.7,793.1 1567.0,793.8 1567.3,794.6 1567.5,794.7 1567.8,794.8 1568.0,793.7 1568.3,794.0 1568.5,793.9 1568.8,797.0 1569.0,795.6 1569.3,794.3 1569.5,793.5 1569.8,794.9 1570.0,796.8 1570.3,795.6 1570.5,796.0 1570.8,797.3 1571.0,796.8 1571.3,795.3 1571.5,794.8 1571.8,795.3 1572.0,796.8 1572.3,794.6 1572.5,796.6 1572.8,796.7 1573.0,797.5 1573.3,795.8 1573.5,795.8 1573.8,795.7 1574.0,796.3 1574.3,796.6 1574.5,796.5 1574.8,797.9 1575.0,796.3 1575.3,795.7 1575.5,796.6 1575.8,796.6 1576.1,796.3 1576.3,795.3 1576.6,795.7 1576.8,796.2 1577.1,796.6 1577.3,797.4 1577.6,796.9 1577.8,796.2 1578.1,796.1 1578.3,795.9 1578.6,795.3 1578.8,795.3 1579.1,795.4 1579.3,795.1 1579.6,795.2 1579.8,795.3 1580.1,794.9 1580.3,796.1 1580.6,794.6 1580.8,795.5 1581.1,794.6 1581.3,794.5 1581.6,793.9 1581.8,794.2 1582.1,794.9 1582.3,793.8 1582.6,793.9 1582.8,794.0 1583.1,793.9 1583.3,793.3 1583.6,793.1 1583.8,793.4 1584.1,794.5 1584.3,794.0 1584.6,793.4 1584.9,792.3 1585.1,792.7 1585.4,793.2 1585.6,792.5 1585.9,792.9 1586.1,793.0 1586.4,792.8 1586.6,793.7 1586.9,792.5 1587.1,792.3 1587.4,792.8 1587.6,793.3 1587.9,792.7 1588.1,791.8 1588.4,792.6 1588.6,793.2 1588.9,792.4 1589.1,793.2 1589.4,793.9 1589.6,793.0 1589.9,792.8 1590.1,792.6 1590.4,792.6 1590.6,792.2 1590.9,792.3 1591.1,792.6 1591.4,792.6 1591.6,791.9 1591.9,791.6 1592.1,791.5 1592.4,791.6 1592.6,793.8 1592.9,793.3 1593.1,792.5 1593.4,792.1 1593.6,792.9 1593.9,791.6 1594.2,791.7 1594.4,792.4 1594.7,792.1" fill="none" stroke="#0000ff" stroke-width="4.2" stroke-linejoin="round" shape-rendering="crispEdges"/>
</g>
<g shape-rendering="crispEdges">
<rect x="91" y="682" width="5" height="25" fill="#008080"/>
<rect x="219" y="682" width="6" height="25" fill="#008080"/>
<rect x="296" y="682" width="5" height="25" fill="#008080"/>
<rect x="318" y="682" width="7" height="25" fill="#008080"/>
<rect x="405" y="682" width="5" height="25" fill="#008080"/>
<rect x="463" y="682" width="6" height="25" fill="#008080"/>
<rect x="481" y="682" width="7" height="25" fill="#008080"/>
<rect x="552" y="682" width="7" height="25" fill="#008080"/>
<rect x="602" y="682" width="7" height="25" fill="#008080"/>
<rect x="681" y="682" width="8" height="25" fill="#008080"/>
<rect x="726" y="682" width="8" height="25" fill="#008080"/>
<rect x="741" y="682" width="8" height="25" fill="#008080"/>
<rect x="800" y="682" width="8" height="25" fill="#008080"/>
<rect x="843" y="682" width="7" height="25" fill="#008080"/>
<rect x="856" y="682" width="9" height="25" fill="#008080"/>
<rect x="911" y="682" width="9" height="25" fill="#008080"/>
<rect x="953" y="682" width="9" height="25" fill="#008080"/>
<rect x="966" y="682" width="9" height="25" fill="#008080"/>
<rect x="1019" y="682" width="10" height="25" fill="#008080"/>
<rect x="1060" y="682" width="9" height="25" fill="#008080"/>
<rect x="1127" y="682" width="8" height="25" fill="#008080"/>
<rect x="1167" y="682" width="8" height="25" fill="#008080"/>
<rect x="1178" y="682" width="11" height="25" fill="#008080"/>
<rect x="1232" y="682" width="11" height="25" fill="#008080"/>
<rect x="1271" y="682" width="12" height="25" fill="#008080"/>
<rect x="1285" y="682" width="12" height="25" fill="#008080"/>
<rect x="1339" y="682" width="12" height="25" fill="#008080"/>
<rect x="1379" y="682" width="14" height="25" fill="#008080"/>
<rect x="1394" y="682" width="13" height="25" fill="#008080"/>
<rect x="1448" y="682" width="15" height="25" fill="#008080"/>
<rect x="1493" y="682" width="13" height="25" fill="#008080"/>
<rect x="1565" y="682" width="16" height="25" fill="#008080"/>
<rect x="110" y="714" width="5" height="25" fill="#a7a016"/>
<rect x="246" y="714" width="6" height="25" fill="#a7a016"/>
<rect x="353" y="714" width="6" height="25" fill="#a7a016"/>
<rect x="445" y="714" width="6" height="25" fill="#a7a016"/>
<rect x="527" y="714" width="7" height="25" fill="#a7a016"/>
<rect x="603" y="714" width="7" height="25" fill="#a7a016"/>
<rect x="743" y="714" width="7" height="25" fill="#a7a016"/>
<rect x="808" y="714" width="8" height="25" fill="#a7a016"/>
<rect x="872" y="714" width="8" height="25" fill="#a7a016"/>
<rect x="934" y="714" width="8" height="25" fill="#a7a016"/>
<rect x="995" y="714" width="8" height="25" fill="#a7a016"/>
<rect x="1055" y="714" width="9" height="25" fill="#a7a016"/>
<rect x="1115" y="714" width="9" height="25" fill="#a7a016"/>
<rect x="1235" y="714" width="4" height="25" fill="#a7a016"/>
<rect x="1240" y="714" width="4" height="25" fill="#a7a016"/>
<rect x="1295" y="714" width="10" height="25" fill="#a7a016"/>
<rect x="1356" y="714" width="5" height="25" fill="#a7a016"/>
<rect x="1362" y="714" width="4" height="25" fill="#a7a016"/>
<rect x="1419" y="714" width="4" height="25" fill="#a7a016"/>
<rect x="1425" y="714" width="4" height="25" fill="#a7a016"/>
<rect x="1483" y="714" width="4" height="25" fill="#a7a016"/>
<rect x="1489" y="714" width="4" height="25" fill="#a7a016"/>
<rect x="1548" y="714" width="5" height="25" fill="#a7a016"/>
<rect x="1555" y="714" width="5" height="25" fill="#a7a016"/>
<circle cx="1226.5" cy="103.5" r="6.5" fill="#fff" stroke="#ff0000" stroke-width="1"/>
<rect x="1191" y="145" width="71" height="5" fill="#000"/>
<rect x="1191" y="189" width="71" height="4" fill="#0000ff"/>
<rect x="1224" y="222" width="5" height="25" fill="#a7a016"/>
<rect x="1224" y="266" width="5" height="25" fill="#008080"/>
</g>
<g font-size="34.67">
<text filter="url(#bw)" class="b" x="511.5" y="146.2" letter-spacing="0.206">Rp=2.57%, Rwp=3.66%</text>
<text filter="url(#bw)" class="b" x="511.5" y="190.5" letter-spacing="0.189">Gof = 2.29</text>
<text filter="url(#bw)" class="b" x="1280" y="115.5">Observed</text>
<text filter="url(#bw)" class="b" x="1280" y="159.6">Calculated</text>
<text filter="url(#bw)" class="b" x="1280" y="203.7" letter-spacing="0.156">Difference</text>
<text filter="url(#bw)" class="b" x="1280" y="247.0" letter-spacing="0.233">BCO 71.99 wt%</text>
<text filter="url(#bw)" class="b" x="1280" y="290.5" letter-spacing="0.308">BCY 28.01 wt%</text>
<text filter="url(#bw)" class="b" x="1280" y="334.6">BaCoO<tspan font-size="24" dy="8.5">3-δ</tspan></text>
</g>
<text filter="url(#bw)" class="r" stroke="#000" stroke-width="0.3" font-size="42.67" transform="translate(1225.12,344.11) scale(0.885,1.07)">*</text>
<text filter="url(#bw)" class="r" stroke="#000" stroke-width="0.3" font-size="42.67" transform="translate(179.12,561.61) scale(0.885,1.07)">*</text>
<text filter="url(#bw)" class="r" stroke="#000" stroke-width="0.3" font-size="42.67" transform="translate(255.22,582.61) scale(0.885,1.07)">*</text>
<text filter="url(#bw)" class="b" font-size="46.67" transform="translate(47.2,567.5) rotate(-90)" letter-spacing="0.154">Intensity/a.u.</text>
<text filter="url(#bw)" class="r" font-size="42.67" stroke="#000" stroke-width="0.7" letter-spacing="-2.6" transform="translate(781.3,994.7) scale(1.17,1.045)">2θ</text>
<text filter="url(#bw)" class="b" font-size="42.67" x="838.6" y="994.7" letter-spacing="0.12">/<tspan dx="1.4"> degree</tspan></text>
<text filter="url(#bw)" class="tk" font-size="37" text-anchor="middle" stroke="#000" stroke-width="0.5" transform="translate(90.8,922.3) scale(0.94,1.045)">20</text>
<text filter="url(#bw)" class="tk" font-size="37" text-anchor="middle" stroke="#000" stroke-width="0.5" transform="translate(241.2,922.3) scale(0.94,1.045)">30</text>
<text filter="url(#bw)" class="tk" font-size="37" text-anchor="middle" stroke="#000" stroke-width="0.5" transform="translate(391.7,922.3) scale(0.94,1.045)">40</text>
<text filter="url(#bw)" class="tk" font-size="37" text-anchor="middle" stroke="#000" stroke-width="0.5" transform="translate(542.1,922.3) scale(0.94,1.045)">50</text>
<text filter="url(#bw)" class="tk" font-size="37" text-anchor="middle" stroke="#000" stroke-width="0.5" transform="translate(692.6,922.3) scale(0.94,1.045)">60</text>
<text filter="url(#bw)" class="tk" font-size="37" text-anchor="middle" stroke="#000" stroke-width="0.5" transform="translate(843.0,922.3) scale(0.94,1.045)">70</text>
<text filter="url(#bw)" class="tk" font-size="37" text-anchor="middle" stroke="#000" stroke-width="0.5" transform="translate(993.4,922.3) scale(0.94,1.045)">80</text>
<text filter="url(#bw)" class="tk" font-size="37" text-anchor="middle" stroke="#000" stroke-width="0.5" transform="translate(1143.9,922.3) scale(0.94,1.045)">90</text>
<text filter="url(#bw)" class="tk" font-size="37" text-anchor="middle" stroke="#000" stroke-width="0.5" transform="translate(1294.3,922.3) scale(0.94,1.045)">100</text>
<text filter="url(#bw)" class="tk" font-size="37" text-anchor="middle" stroke="#000" stroke-width="0.5" transform="translate(1444.8,922.3) scale(0.94,1.045)">110</text>
<text filter="url(#bw)" class="tk" font-size="37" text-anchor="middle" stroke="#000" stroke-width="0.5" transform="translate(1595.2,922.3) scale(0.94,1.045)">120</text>
</svg>
</body>
</html>
